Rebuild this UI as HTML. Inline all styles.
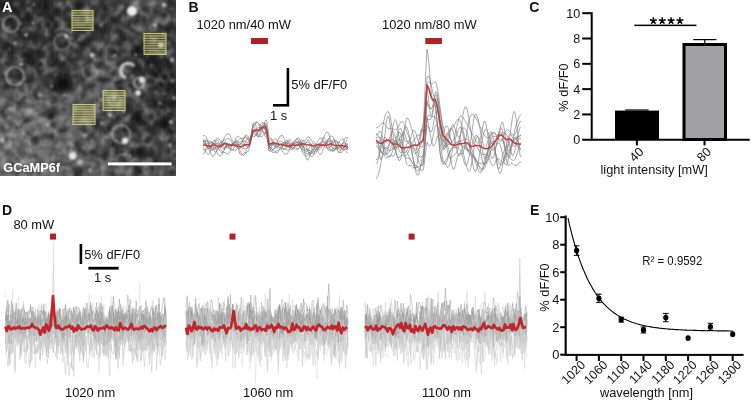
<!DOCTYPE html>
<html><head><meta charset="utf-8"><title>Figure</title>
<style>
html,body{margin:0;padding:0;background:#fff;width:751px;height:400px;overflow:hidden;}
body{font-family:"Liberation Sans", sans-serif;}
svg{display:block;}
</style></head><body>
<svg width="751" height="400" viewBox="0 0 751 400" font-family='"Liberation Sans", sans-serif'><defs><filter id="bl2" x="-50%" y="-50%" width="200%" height="200%"><feGaussianBlur stdDeviation="2"/></filter><filter id="bl1" x="-50%" y="-50%" width="200%" height="200%"><feGaussianBlur stdDeviation="1"/></filter><filter id="bl4" x="-50%" y="-50%" width="200%" height="200%"><feGaussianBlur stdDeviation="4"/></filter><filter id="bl8" x="-20%" y="-20%" width="140%" height="140%"><feGaussianBlur stdDeviation="9"/></filter><filter id="nzw" x="0" y="0" width="100%" height="100%" color-interpolation-filters="sRGB"><feTurbulence type="fractalNoise" baseFrequency="0.12" numOctaves="3" seed="7"/><feColorMatrix type="matrix" values="0 0 0 0 1  0 0 0 0 1  0 0 0 0 1  1.8 0 0 0 -0.9"/><feGaussianBlur stdDeviation="0.8"/></filter><filter id="nzb" x="0" y="0" width="100%" height="100%" color-interpolation-filters="sRGB"><feTurbulence type="fractalNoise" baseFrequency="0.12" numOctaves="3" seed="7"/><feColorMatrix type="matrix" values="0 0 0 0 0  0 0 0 0 0  0 0 0 0 0  -2.4 0 0 0 1.2"/><feGaussianBlur stdDeviation="0.8"/></filter><clipPath id="clipA"><rect x="0" y="0" width="176" height="176"/></clipPath></defs>
<g clip-path="url(#clipA)">
<g filter="url(#bl8)">
<rect x="-22" y="-22" width="22" height="22" fill="rgb(35,35,35)"/>
<rect x="0" y="-22" width="22" height="22" fill="rgb(35,35,35)"/>
<rect x="22" y="-22" width="22" height="22" fill="rgb(50,50,50)"/>
<rect x="44" y="-22" width="22" height="22" fill="rgb(45,45,45)"/>
<rect x="66" y="-22" width="22" height="22" fill="rgb(60,60,60)"/>
<rect x="88" y="-22" width="22" height="22" fill="rgb(55,55,55)"/>
<rect x="110" y="-22" width="22" height="22" fill="rgb(65,65,65)"/>
<rect x="132" y="-22" width="22" height="22" fill="rgb(85,85,85)"/>
<rect x="154" y="-22" width="22" height="22" fill="rgb(60,60,60)"/>
<rect x="176" y="-22" width="22" height="22" fill="rgb(60,60,60)"/>
<rect x="-22" y="0" width="22" height="22" fill="rgb(35,35,35)"/>
<rect x="0" y="0" width="22" height="22" fill="rgb(35,35,35)"/>
<rect x="22" y="0" width="22" height="22" fill="rgb(50,50,50)"/>
<rect x="44" y="0" width="22" height="22" fill="rgb(45,45,45)"/>
<rect x="66" y="0" width="22" height="22" fill="rgb(60,60,60)"/>
<rect x="88" y="0" width="22" height="22" fill="rgb(55,55,55)"/>
<rect x="110" y="0" width="22" height="22" fill="rgb(65,65,65)"/>
<rect x="132" y="0" width="22" height="22" fill="rgb(85,85,85)"/>
<rect x="154" y="0" width="22" height="22" fill="rgb(60,60,60)"/>
<rect x="176" y="0" width="22" height="22" fill="rgb(60,60,60)"/>
<rect x="-22" y="22" width="22" height="22" fill="rgb(60,60,60)"/>
<rect x="0" y="22" width="22" height="22" fill="rgb(60,60,60)"/>
<rect x="22" y="22" width="22" height="22" fill="rgb(45,45,45)"/>
<rect x="44" y="22" width="22" height="22" fill="rgb(55,55,55)"/>
<rect x="66" y="22" width="22" height="22" fill="rgb(60,60,60)"/>
<rect x="88" y="22" width="22" height="22" fill="rgb(50,50,50)"/>
<rect x="110" y="22" width="22" height="22" fill="rgb(55,55,55)"/>
<rect x="132" y="22" width="22" height="22" fill="rgb(70,70,70)"/>
<rect x="154" y="22" width="22" height="22" fill="rgb(60,60,60)"/>
<rect x="176" y="22" width="22" height="22" fill="rgb(60,60,60)"/>
<rect x="-22" y="44" width="22" height="22" fill="rgb(55,55,55)"/>
<rect x="0" y="44" width="22" height="22" fill="rgb(55,55,55)"/>
<rect x="22" y="44" width="22" height="22" fill="rgb(45,45,45)"/>
<rect x="44" y="44" width="22" height="22" fill="rgb(60,60,60)"/>
<rect x="66" y="44" width="22" height="22" fill="rgb(55,55,55)"/>
<rect x="88" y="44" width="22" height="22" fill="rgb(80,80,80)"/>
<rect x="110" y="44" width="22" height="22" fill="rgb(70,70,70)"/>
<rect x="132" y="44" width="22" height="22" fill="rgb(50,50,50)"/>
<rect x="154" y="44" width="22" height="22" fill="rgb(50,50,50)"/>
<rect x="176" y="44" width="22" height="22" fill="rgb(50,50,50)"/>
<rect x="-22" y="66" width="22" height="22" fill="rgb(65,65,65)"/>
<rect x="0" y="66" width="22" height="22" fill="rgb(65,65,65)"/>
<rect x="22" y="66" width="22" height="22" fill="rgb(60,60,60)"/>
<rect x="44" y="66" width="22" height="22" fill="rgb(40,40,40)"/>
<rect x="66" y="66" width="22" height="22" fill="rgb(70,70,70)"/>
<rect x="88" y="66" width="22" height="22" fill="rgb(95,95,95)"/>
<rect x="110" y="66" width="22" height="22" fill="rgb(85,85,85)"/>
<rect x="132" y="66" width="22" height="22" fill="rgb(45,45,45)"/>
<rect x="154" y="66" width="22" height="22" fill="rgb(45,45,45)"/>
<rect x="176" y="66" width="22" height="22" fill="rgb(45,45,45)"/>
<rect x="-22" y="88" width="22" height="22" fill="rgb(100,100,100)"/>
<rect x="0" y="88" width="22" height="22" fill="rgb(100,100,100)"/>
<rect x="22" y="88" width="22" height="22" fill="rgb(100,100,100)"/>
<rect x="44" y="88" width="22" height="22" fill="rgb(80,80,80)"/>
<rect x="66" y="88" width="22" height="22" fill="rgb(90,90,90)"/>
<rect x="88" y="88" width="22" height="22" fill="rgb(90,90,90)"/>
<rect x="110" y="88" width="22" height="22" fill="rgb(70,70,70)"/>
<rect x="132" y="88" width="22" height="22" fill="rgb(60,60,60)"/>
<rect x="154" y="88" width="22" height="22" fill="rgb(55,55,55)"/>
<rect x="176" y="88" width="22" height="22" fill="rgb(55,55,55)"/>
<rect x="-22" y="110" width="22" height="22" fill="rgb(108,108,108)"/>
<rect x="0" y="110" width="22" height="22" fill="rgb(108,108,108)"/>
<rect x="22" y="110" width="22" height="22" fill="rgb(108,108,108)"/>
<rect x="44" y="110" width="22" height="22" fill="rgb(98,98,98)"/>
<rect x="66" y="110" width="22" height="22" fill="rgb(98,98,98)"/>
<rect x="88" y="110" width="22" height="22" fill="rgb(72,72,72)"/>
<rect x="110" y="110" width="22" height="22" fill="rgb(60,60,60)"/>
<rect x="132" y="110" width="22" height="22" fill="rgb(60,60,60)"/>
<rect x="154" y="110" width="22" height="22" fill="rgb(55,55,55)"/>
<rect x="176" y="110" width="22" height="22" fill="rgb(55,55,55)"/>
<rect x="-22" y="132" width="22" height="22" fill="rgb(112,112,112)"/>
<rect x="0" y="132" width="22" height="22" fill="rgb(112,112,112)"/>
<rect x="22" y="132" width="22" height="22" fill="rgb(108,108,108)"/>
<rect x="44" y="132" width="22" height="22" fill="rgb(102,102,102)"/>
<rect x="66" y="132" width="22" height="22" fill="rgb(92,92,92)"/>
<rect x="88" y="132" width="22" height="22" fill="rgb(85,85,85)"/>
<rect x="110" y="132" width="22" height="22" fill="rgb(65,65,65)"/>
<rect x="132" y="132" width="22" height="22" fill="rgb(55,55,55)"/>
<rect x="154" y="132" width="22" height="22" fill="rgb(65,65,65)"/>
<rect x="176" y="132" width="22" height="22" fill="rgb(65,65,65)"/>
<rect x="-22" y="154" width="22" height="22" fill="rgb(108,108,108)"/>
<rect x="0" y="154" width="22" height="22" fill="rgb(108,108,108)"/>
<rect x="22" y="154" width="22" height="22" fill="rgb(108,108,108)"/>
<rect x="44" y="154" width="22" height="22" fill="rgb(100,100,100)"/>
<rect x="66" y="154" width="22" height="22" fill="rgb(92,92,92)"/>
<rect x="88" y="154" width="22" height="22" fill="rgb(85,85,85)"/>
<rect x="110" y="154" width="22" height="22" fill="rgb(80,80,80)"/>
<rect x="132" y="154" width="22" height="22" fill="rgb(80,80,80)"/>
<rect x="154" y="154" width="22" height="22" fill="rgb(70,70,70)"/>
<rect x="176" y="154" width="22" height="22" fill="rgb(70,70,70)"/>
<rect x="-22" y="176" width="22" height="22" fill="rgb(108,108,108)"/>
<rect x="0" y="176" width="22" height="22" fill="rgb(108,108,108)"/>
<rect x="22" y="176" width="22" height="22" fill="rgb(108,108,108)"/>
<rect x="44" y="176" width="22" height="22" fill="rgb(100,100,100)"/>
<rect x="66" y="176" width="22" height="22" fill="rgb(92,92,92)"/>
<rect x="88" y="176" width="22" height="22" fill="rgb(85,85,85)"/>
<rect x="110" y="176" width="22" height="22" fill="rgb(80,80,80)"/>
<rect x="132" y="176" width="22" height="22" fill="rgb(80,80,80)"/>
<rect x="154" y="176" width="22" height="22" fill="rgb(70,70,70)"/>
<rect x="176" y="176" width="22" height="22" fill="rgb(70,70,70)"/>
</g>
<rect x="0" y="0" width="176" height="176" filter="url(#nzw)" opacity="0.6"/>
<rect x="0" y="0" width="176" height="176" filter="url(#nzb)" opacity="0.75"/>
<g filter="url(#bl2)">
<circle cx="63" cy="84" r="8" fill="#101010" opacity="0.9"/>
<circle cx="63" cy="84" r="5" fill="#101010" opacity="1.0"/>
<circle cx="30" cy="57" r="5" fill="#101010" opacity="0.75"/>
<circle cx="139" cy="50" r="6" fill="#101010" opacity="0.9"/>
<circle cx="138" cy="119" r="6" fill="#101010" opacity="0.85"/>
<circle cx="164" cy="124" r="7" fill="#101010" opacity="0.85"/>
<circle cx="140" cy="152" r="6" fill="#101010" opacity="0.85"/>
<circle cx="165" cy="97" r="4" fill="#101010" opacity="0.6"/>
<circle cx="48" cy="13" r="5" fill="#101010" opacity="0.5"/>
<circle cx="105" cy="30" r="4" fill="#101010" opacity="0.5"/>
<circle cx="88" cy="44" r="4" fill="#101010" opacity="0.5"/>
<circle cx="121" cy="40" r="4" fill="#101010" opacity="0.5"/>
<circle cx="118" cy="148" r="5" fill="#101010" opacity="0.6"/>
<circle cx="82" cy="19" r="3.5" fill="#101010" opacity="0.8"/>
<circle cx="125" cy="60" r="3" fill="#101010" opacity="0.5"/>
<circle cx="52" cy="25" r="4" fill="#101010" opacity="0.5"/>
<circle cx="20" cy="22" r="3.5" fill="#101010" opacity="0.6"/>
<circle cx="15" cy="76" r="4" fill="#101010" opacity="0.5"/>
<circle cx="100" cy="125" r="4" fill="#101010" opacity="0.4"/>
<circle cx="150" cy="105" r="4" fill="#101010" opacity="0.5"/>
<circle cx="8" cy="50" r="4" fill="#101010" opacity="0.5"/>
<circle cx="40" cy="5" r="5" fill="#101010" opacity="0.5"/>
<circle cx="5" cy="5" r="6" fill="#101010" opacity="0.6"/>
<line x1="146" y1="50" x2="180" y2="100" stroke="#101010" stroke-width="10" opacity="0.6"/>
</g>
<g filter="url(#bl1)">
<circle cx="136.2" cy="77.2" r="4.1" fill="#141414" opacity="0.49"/>
<circle cx="16.6" cy="171.7" r="3.9" fill="#141414" opacity="0.53"/>
<circle cx="22.5" cy="79.3" r="2.9" fill="#141414" opacity="0.57"/>
<circle cx="113.3" cy="144.8" r="3.1" fill="#141414" opacity="0.33"/>
<circle cx="97.6" cy="11.2" r="4.1" fill="#141414" opacity="0.47"/>
<circle cx="133.4" cy="62.4" r="4.4" fill="#141414" opacity="0.56"/>
<circle cx="137.0" cy="34.3" r="3.2" fill="#141414" opacity="0.27"/>
<circle cx="27.2" cy="120.2" r="3.9" fill="#141414" opacity="0.59"/>
<circle cx="57.3" cy="65.2" r="3.2" fill="#141414" opacity="0.32"/>
<circle cx="22.9" cy="83.7" r="2.6" fill="#141414" opacity="0.48"/>
<circle cx="76.9" cy="146.6" r="3.8" fill="#141414" opacity="0.36"/>
<circle cx="146.5" cy="141.6" r="3.0" fill="#141414" opacity="0.35"/>
<circle cx="120.1" cy="24.6" r="2.5" fill="#141414" opacity="0.25"/>
<circle cx="138.5" cy="117.0" r="3.8" fill="#141414" opacity="0.52"/>
<circle cx="80.8" cy="100.1" r="2.3" fill="#141414" opacity="0.29"/>
<circle cx="117.6" cy="82.9" r="3.4" fill="#141414" opacity="0.52"/>
<circle cx="111.7" cy="97.4" r="3.4" fill="#141414" opacity="0.36"/>
<circle cx="5.4" cy="76.9" r="2.5" fill="#141414" opacity="0.39"/>
<circle cx="150.2" cy="41.2" r="2.1" fill="#141414" opacity="0.35"/>
<circle cx="51.7" cy="116.5" r="3.4" fill="#141414" opacity="0.52"/>
<circle cx="116.9" cy="71.5" r="4.0" fill="#141414" opacity="0.31"/>
<circle cx="4.0" cy="15.8" r="3.8" fill="#141414" opacity="0.41"/>
<circle cx="28.4" cy="88.2" r="2.4" fill="#141414" opacity="0.49"/>
<circle cx="78.5" cy="67.1" r="2.8" fill="#141414" opacity="0.47"/>
<circle cx="63.7" cy="15.4" r="2.3" fill="#141414" opacity="0.59"/>
<circle cx="159.9" cy="123.1" r="2.7" fill="#141414" opacity="0.59"/>
<circle cx="137.1" cy="126.2" r="3.1" fill="#141414" opacity="0.35"/>
<circle cx="17.0" cy="158.9" r="3.1" fill="#141414" opacity="0.32"/>
<circle cx="53.8" cy="101.9" r="2.4" fill="#141414" opacity="0.55"/>
<circle cx="133.5" cy="126.6" r="3.1" fill="#141414" opacity="0.47"/>
<circle cx="102.8" cy="114.4" r="2.2" fill="#141414" opacity="0.40"/>
<circle cx="7.3" cy="86.9" r="2.8" fill="#141414" opacity="0.30"/>
<circle cx="18.2" cy="103.4" r="2.4" fill="#141414" opacity="0.57"/>
<circle cx="102.3" cy="61.0" r="3.5" fill="#141414" opacity="0.26"/>
<circle cx="168.7" cy="84.9" r="4.0" fill="#141414" opacity="0.28"/>
<circle cx="85.7" cy="86.4" r="4.3" fill="#141414" opacity="0.45"/>
<circle cx="83.3" cy="47.0" r="2.8" fill="#141414" opacity="0.43"/>
<circle cx="77.2" cy="3.8" r="4.1" fill="#141414" opacity="0.56"/>
<circle cx="24.7" cy="97.5" r="2.3" fill="#141414" opacity="0.49"/>
<circle cx="49.5" cy="116.1" r="3.8" fill="#141414" opacity="0.52"/>
<circle cx="19.0" cy="161.2" r="2.6" fill="#141414" opacity="0.26"/>
<circle cx="97.7" cy="65.3" r="4.1" fill="#141414" opacity="0.53"/>
<circle cx="55.8" cy="167.7" r="2.7" fill="#141414" opacity="0.43"/>
<circle cx="45.0" cy="164.7" r="2.4" fill="#141414" opacity="0.27"/>
<circle cx="76.6" cy="174.7" r="4.2" fill="#141414" opacity="0.51"/>
<circle cx="156.8" cy="157.2" r="3.3" fill="#141414" opacity="0.36"/>
<circle cx="135.9" cy="116.5" r="2.9" fill="#141414" opacity="0.28"/>
<circle cx="131.4" cy="46.2" r="4.3" fill="#141414" opacity="0.33"/>
<circle cx="21.6" cy="146.3" r="2.4" fill="#141414" opacity="0.31"/>
<circle cx="105.5" cy="153.9" r="2.5" fill="#141414" opacity="0.36"/>
<circle cx="136.8" cy="171.0" r="3.3" fill="#141414" opacity="0.30"/>
<circle cx="2.5" cy="40.4" r="2.3" fill="#141414" opacity="0.49"/>
<circle cx="21.4" cy="89.1" r="3.7" fill="#141414" opacity="0.45"/>
<circle cx="35.2" cy="141.5" r="3.8" fill="#141414" opacity="0.51"/>
<circle cx="23.1" cy="21.8" r="4.3" fill="#141414" opacity="0.39"/>
<circle cx="53.0" cy="86.0" r="3.7" fill="#141414" opacity="0.58"/>
<circle cx="50.4" cy="162.8" r="2.1" fill="#141414" opacity="0.44"/>
<circle cx="111.6" cy="18.6" r="2.4" fill="#141414" opacity="0.40"/>
<circle cx="170.1" cy="104.9" r="4.3" fill="#141414" opacity="0.53"/>
<circle cx="82.3" cy="138.1" r="2.0" fill="#141414" opacity="0.29"/>
<circle cx="146.0" cy="140.2" r="2.6" fill="#141414" opacity="0.44"/>
<circle cx="106.7" cy="152.7" r="3.5" fill="#141414" opacity="0.39"/>
<circle cx="65.9" cy="75.0" r="3.6" fill="#141414" opacity="0.55"/>
<circle cx="79.9" cy="43.6" r="2.6" fill="#141414" opacity="0.51"/>
<circle cx="143.7" cy="18.5" r="2.2" fill="#141414" opacity="0.46"/>
<circle cx="25.7" cy="145.1" r="2.8" fill="#141414" opacity="0.30"/>
<circle cx="162.1" cy="29.1" r="2.7" fill="#141414" opacity="0.30"/>
<circle cx="20.3" cy="3.7" r="2.1" fill="#141414" opacity="0.31"/>
<circle cx="9.4" cy="104.0" r="3.7" fill="#141414" opacity="0.39"/>
<circle cx="56.0" cy="88.8" r="4.2" fill="#141414" opacity="0.55"/>
<circle cx="7.7" cy="31.9" r="3.9" fill="none" stroke="#bdbdbd" stroke-width="1.3" opacity="0.18"/>
<circle cx="100.5" cy="73.3" r="3.2" fill="none" stroke="#bdbdbd" stroke-width="1.3" opacity="0.21"/>
<circle cx="92.2" cy="17.9" r="6.3" fill="none" stroke="#bdbdbd" stroke-width="1.3" opacity="0.13"/>
<circle cx="162.8" cy="17.4" r="6.4" fill="none" stroke="#bdbdbd" stroke-width="1.3" opacity="0.33"/>
<circle cx="172.4" cy="141.2" r="6.1" fill="none" stroke="#bdbdbd" stroke-width="1.3" opacity="0.27"/>
<circle cx="137.1" cy="23.7" r="5.1" fill="none" stroke="#bdbdbd" stroke-width="1.3" opacity="0.24"/>
<circle cx="150.9" cy="81.5" r="4.5" fill="none" stroke="#bdbdbd" stroke-width="1.3" opacity="0.27"/>
<circle cx="46.9" cy="24.6" r="4.9" fill="none" stroke="#bdbdbd" stroke-width="1.3" opacity="0.22"/>
<circle cx="40.9" cy="64.7" r="4.5" fill="none" stroke="#bdbdbd" stroke-width="1.3" opacity="0.20"/>
<circle cx="66.8" cy="120.7" r="4.2" fill="none" stroke="#bdbdbd" stroke-width="1.3" opacity="0.34"/>
<circle cx="161.3" cy="84.6" r="4.3" fill="none" stroke="#bdbdbd" stroke-width="1.3" opacity="0.24"/>
<circle cx="149.3" cy="114.9" r="6.2" fill="none" stroke="#bdbdbd" stroke-width="1.3" opacity="0.24"/>
<circle cx="111.4" cy="50.7" r="5.9" fill="none" stroke="#bdbdbd" stroke-width="1.3" opacity="0.17"/>
<circle cx="122.3" cy="151.5" r="3.5" fill="none" stroke="#bdbdbd" stroke-width="1.3" opacity="0.26"/>
<circle cx="16.7" cy="127.7" r="3.3" fill="none" stroke="#bdbdbd" stroke-width="1.3" opacity="0.34"/>
<circle cx="24.2" cy="168.8" r="6.2" fill="none" stroke="#bdbdbd" stroke-width="1.3" opacity="0.26"/>
<circle cx="137.7" cy="139.9" r="6.8" fill="none" stroke="#bdbdbd" stroke-width="1.3" opacity="0.18"/>
<circle cx="103.9" cy="16.7" r="5.5" fill="none" stroke="#bdbdbd" stroke-width="1.3" opacity="0.16"/>
<circle cx="99.4" cy="100.7" r="4.9" fill="none" stroke="#bdbdbd" stroke-width="1.3" opacity="0.24"/>
<circle cx="134.5" cy="140.7" r="5.0" fill="none" stroke="#bdbdbd" stroke-width="1.3" opacity="0.26"/>
<circle cx="163.9" cy="21.1" r="3.5" fill="none" stroke="#bdbdbd" stroke-width="1.3" opacity="0.14"/>
<circle cx="115.8" cy="73.7" r="6.1" fill="none" stroke="#bdbdbd" stroke-width="1.3" opacity="0.27"/>
<circle cx="58.7" cy="158.1" r="6.1" fill="none" stroke="#bdbdbd" stroke-width="1.3" opacity="0.18"/>
<circle cx="64.1" cy="55.3" r="3.6" fill="none" stroke="#bdbdbd" stroke-width="1.3" opacity="0.15"/>
<circle cx="164.8" cy="77.1" r="4.5" fill="none" stroke="#bdbdbd" stroke-width="1.3" opacity="0.29"/>
<circle cx="97.3" cy="164.8" r="6.1" fill="none" stroke="#bdbdbd" stroke-width="1.3" opacity="0.23"/>
<circle cx="66.2" cy="173.6" r="5.9" fill="none" stroke="#bdbdbd" stroke-width="1.3" opacity="0.34"/>
<circle cx="20.9" cy="149.7" r="5.5" fill="none" stroke="#bdbdbd" stroke-width="1.3" opacity="0.15"/>
<circle cx="103.5" cy="120.8" r="3.0" fill="none" stroke="#bdbdbd" stroke-width="1.3" opacity="0.22"/>
<circle cx="145.3" cy="52.0" r="4.8" fill="none" stroke="#bdbdbd" stroke-width="1.3" opacity="0.22"/>
<circle cx="53.1" cy="161.6" r="6.1" fill="none" stroke="#bdbdbd" stroke-width="1.3" opacity="0.15"/>
<circle cx="175.5" cy="154.7" r="4.1" fill="none" stroke="#bdbdbd" stroke-width="1.3" opacity="0.31"/>
<circle cx="18.7" cy="175.8" r="5.7" fill="none" stroke="#bdbdbd" stroke-width="1.3" opacity="0.27"/>
<circle cx="15.9" cy="157.9" r="3.1" fill="none" stroke="#bdbdbd" stroke-width="1.3" opacity="0.18"/>
<circle cx="25.2" cy="136.7" r="3.8" fill="none" stroke="#bdbdbd" stroke-width="1.3" opacity="0.33"/>
<circle cx="115.5" cy="6.4" r="3.0" fill="none" stroke="#bdbdbd" stroke-width="1.3" opacity="0.13"/>
<circle cx="106.6" cy="141.1" r="4.0" fill="none" stroke="#bdbdbd" stroke-width="1.3" opacity="0.32"/>
<circle cx="10.1" cy="141.0" r="6.7" fill="none" stroke="#bdbdbd" stroke-width="1.3" opacity="0.30"/>
<circle cx="122.9" cy="147.5" r="3.2" fill="none" stroke="#bdbdbd" stroke-width="1.3" opacity="0.17"/>
<circle cx="22.0" cy="88.8" r="6.0" fill="none" stroke="#bdbdbd" stroke-width="1.3" opacity="0.26"/>
<circle cx="149.8" cy="27.3" r="1.5" fill="#e0e0e0" opacity="0.38"/>
<circle cx="47.7" cy="124.9" r="1.8" fill="#e0e0e0" opacity="0.54"/>
<circle cx="9.6" cy="108.5" r="0.8" fill="#e0e0e0" opacity="0.65"/>
<circle cx="124.9" cy="30.5" r="0.9" fill="#e0e0e0" opacity="0.37"/>
<circle cx="172.5" cy="80.7" r="1.6" fill="#e0e0e0" opacity="0.55"/>
<circle cx="100.7" cy="25.5" r="1.7" fill="#e0e0e0" opacity="0.42"/>
<circle cx="101.7" cy="123.2" r="1.4" fill="#e0e0e0" opacity="0.68"/>
<circle cx="26.1" cy="89.5" r="1.2" fill="#e0e0e0" opacity="0.49"/>
<circle cx="21.0" cy="23.6" r="1.1" fill="#e0e0e0" opacity="0.42"/>
<circle cx="75.3" cy="107.5" r="1.4" fill="#e0e0e0" opacity="0.46"/>
<circle cx="71.9" cy="38.3" r="1.4" fill="#e0e0e0" opacity="0.43"/>
<circle cx="6.3" cy="73.6" r="1.3" fill="#e0e0e0" opacity="0.39"/>
<circle cx="100.8" cy="99.6" r="1.5" fill="#e0e0e0" opacity="0.56"/>
<circle cx="114.8" cy="55.7" r="1.6" fill="#e0e0e0" opacity="0.52"/>
<circle cx="75.9" cy="110.2" r="1.2" fill="#e0e0e0" opacity="0.51"/>
<circle cx="129.7" cy="156.0" r="1.7" fill="#e0e0e0" opacity="0.50"/>
<circle cx="91.6" cy="140.8" r="1.1" fill="#e0e0e0" opacity="0.63"/>
<circle cx="87.0" cy="20.4" r="0.9" fill="#e0e0e0" opacity="0.64"/>
<circle cx="9.8" cy="49.4" r="1.1" fill="#e0e0e0" opacity="0.37"/>
<circle cx="55.2" cy="130.7" r="0.8" fill="#e0e0e0" opacity="0.63"/>
<circle cx="150.8" cy="65.5" r="1.0" fill="#e0e0e0" opacity="0.54"/>
<circle cx="21.1" cy="64.2" r="1.8" fill="#e0e0e0" opacity="0.70"/>
<circle cx="135.9" cy="54.7" r="1.5" fill="#e0e0e0" opacity="0.58"/>
<circle cx="68.3" cy="112.8" r="0.8" fill="#e0e0e0" opacity="0.38"/>
<circle cx="92.4" cy="28.8" r="1.0" fill="#e0e0e0" opacity="0.63"/>
<circle cx="174.1" cy="97.9" r="1.6" fill="#e0e0e0" opacity="0.70"/>
<circle cx="24.9" cy="78.9" r="1.2" fill="#e0e0e0" opacity="0.33"/>
<circle cx="132.9" cy="76.3" r="1.3" fill="#e0e0e0" opacity="0.36"/>
<circle cx="31.8" cy="159.7" r="0.8" fill="#e0e0e0" opacity="0.39"/>
<circle cx="51.4" cy="86.3" r="1.4" fill="#e0e0e0" opacity="0.50"/>
<circle cx="14.8" cy="42.9" r="1.6" fill="#e0e0e0" opacity="0.56"/>
<circle cx="114.3" cy="118.0" r="1.6" fill="#e0e0e0" opacity="0.32"/>
<circle cx="64.5" cy="95.0" r="1.1" fill="#e0e0e0" opacity="0.64"/>
<circle cx="84.9" cy="135.3" r="1.7" fill="#e0e0e0" opacity="0.50"/>
<circle cx="160.1" cy="103.3" r="1.7" fill="#e0e0e0" opacity="0.44"/>
<circle cx="87.8" cy="93.5" r="0.9" fill="#e0e0e0" opacity="0.46"/>
<circle cx="161.5" cy="111.0" r="1.0" fill="#e0e0e0" opacity="0.44"/>
<circle cx="33.7" cy="4.4" r="1.7" fill="#e0e0e0" opacity="0.48"/>
<circle cx="54.1" cy="105.3" r="0.8" fill="#e0e0e0" opacity="0.41"/>
<circle cx="123.7" cy="111.5" r="1.8" fill="#e0e0e0" opacity="0.55"/>
</g>
<g filter="url(#bl1)" fill="none" stroke="#c8c8c8">
<circle cx="11" cy="24" r="8" stroke-width="2.2" opacity="0.55"/>
<circle cx="15" cy="76" r="9" stroke-width="2.2" opacity="0.55"/>
<circle cx="62" cy="42" r="8" stroke-width="2" opacity="0.45"/>
<circle cx="139" cy="83" r="5" stroke-width="2.2" opacity="0.7"/>
<circle cx="121" cy="134" r="9" stroke-width="2.2" opacity="0.55"/>
<circle cx="114" cy="100" r="6" stroke-width="2" opacity="0.55"/>
<circle cx="83" cy="19" r="5" stroke-width="1.6" opacity="0.35"/>
<circle cx="90" cy="72" r="7" stroke-width="1.6" opacity="0.4"/>
<circle cx="30" cy="130" r="7" stroke-width="1.6" opacity="0.25"/>
<circle cx="70" cy="150" r="6" stroke-width="1.6" opacity="0.35"/>
<circle cx="150" cy="170" r="6" stroke-width="1.6" opacity="0.3"/>
<circle cx="122" cy="160" r="6" stroke-width="1.5" opacity="0.3"/>
</g>
<path d="M134,66 A7.5,7.5 0 1 0 126,78" fill="none" stroke="#e0e0e0" stroke-width="3" opacity="0.85" filter="url(#bl1)"/>
<g filter="url(#bl1)" fill="#f4f4f4">
<circle cx="132" cy="11" r="5" opacity="0.95"/>
<circle cx="142" cy="80" r="3.2" opacity="0.85"/>
<circle cx="138" cy="93" r="3" opacity="0.8"/>
<circle cx="161" cy="45" r="3" opacity="0.8"/>
<circle cx="92" cy="55" r="2" opacity="0.8"/>
<circle cx="66" cy="36" r="2" opacity="0.7"/>
<circle cx="125" cy="141" r="3" opacity="0.8"/>
<circle cx="72" cy="156" r="3" opacity="0.8"/>
<circle cx="114" cy="97" r="2.5" opacity="0.6"/>
<circle cx="164" cy="5" r="2" opacity="0.7"/>
<circle cx="26" cy="35" r="1.5" opacity="0.8"/>
<circle cx="33" cy="23" r="1.5" opacity="0.6"/>
<circle cx="73" cy="156" r="4" opacity="0.6"/>
<circle cx="80" cy="162" r="3" opacity="0.5"/>
<circle cx="171" cy="122" r="2" opacity="0.7"/>
<circle cx="138" cy="92" r="2" opacity="0.7"/>
<circle cx="125" cy="140" r="3" opacity="0.6"/>
<circle cx="2" cy="140" r="2" opacity="0.6"/>
<circle cx="170" cy="145" r="2" opacity="0.5"/>
<circle cx="155" cy="25" r="2" opacity="0.5"/>
<circle cx="110" cy="115" r="2" opacity="0.6"/>
<circle cx="90" cy="170" r="2" opacity="0.5"/>
<circle cx="40" cy="95" r="2" opacity="0.5"/>
<circle cx="172" cy="60" r="2" opacity="0.6"/>
<circle cx="15" cy="170" r="2" opacity="0.4"/>
</g>
<rect x="2" y="0" width="1" height="176" fill="#ffffff" opacity="0.01"/>
<rect x="6" y="0" width="1" height="176" fill="#ffffff" opacity="0.01"/>
<rect x="10" y="0" width="1" height="176" fill="#ffffff" opacity="0.03"/>
<rect x="14" y="0" width="1" height="176" fill="#ffffff" opacity="0.02"/>
<rect x="18" y="0" width="1" height="176" fill="#ffffff" opacity="0.01"/>
<rect x="22" y="0" width="1" height="176" fill="#ffffff" opacity="0.02"/>
<rect x="26" y="0" width="1" height="176" fill="#ffffff" opacity="0.02"/>
<rect x="30" y="0" width="1" height="176" fill="#ffffff" opacity="0.01"/>
<rect x="34" y="0" width="1" height="176" fill="#ffffff" opacity="0.02"/>
<rect x="38" y="0" width="1" height="176" fill="#ffffff" opacity="0.01"/>
<rect x="42" y="0" width="1" height="176" fill="#ffffff" opacity="0.02"/>
<rect x="46" y="0" width="1" height="176" fill="#ffffff" opacity="0.02"/>
<rect x="50" y="0" width="1" height="176" fill="#ffffff" opacity="0.02"/>
<rect x="54" y="0" width="1" height="176" fill="#ffffff" opacity="0.02"/>
<rect x="58" y="0" width="1" height="176" fill="#ffffff" opacity="0.02"/>
<rect x="62" y="0" width="1" height="176" fill="#ffffff" opacity="0.03"/>
<rect x="66" y="0" width="1" height="176" fill="#ffffff" opacity="0.02"/>
<rect x="70" y="0" width="1" height="176" fill="#ffffff" opacity="0.02"/>
<rect x="74" y="0" width="1" height="176" fill="#ffffff" opacity="0.02"/>
<rect x="78" y="0" width="1" height="176" fill="#ffffff" opacity="0.02"/>
<rect x="82" y="0" width="1" height="176" fill="#ffffff" opacity="0.01"/>
<rect x="86" y="0" width="1" height="176" fill="#ffffff" opacity="0.03"/>
<rect x="90" y="0" width="1" height="176" fill="#ffffff" opacity="0.02"/>
<rect x="94" y="0" width="1" height="176" fill="#ffffff" opacity="0.02"/>
<rect x="98" y="0" width="1" height="176" fill="#ffffff" opacity="0.03"/>
<rect x="102" y="0" width="1" height="176" fill="#ffffff" opacity="0.02"/>
<rect x="106" y="0" width="1" height="176" fill="#ffffff" opacity="0.02"/>
<rect x="110" y="0" width="1" height="176" fill="#ffffff" opacity="0.03"/>
<rect x="114" y="0" width="1" height="176" fill="#ffffff" opacity="0.01"/>
<rect x="118" y="0" width="1" height="176" fill="#ffffff" opacity="0.02"/>
<rect x="122" y="0" width="1" height="176" fill="#ffffff" opacity="0.02"/>
<rect x="126" y="0" width="1" height="176" fill="#ffffff" opacity="0.01"/>
<rect x="130" y="0" width="1" height="176" fill="#ffffff" opacity="0.02"/>
<rect x="134" y="0" width="1" height="176" fill="#ffffff" opacity="0.03"/>
<rect x="138" y="0" width="1" height="176" fill="#ffffff" opacity="0.01"/>
<rect x="142" y="0" width="1" height="176" fill="#ffffff" opacity="0.02"/>
<rect x="146" y="0" width="1" height="176" fill="#ffffff" opacity="0.02"/>
<rect x="150" y="0" width="1" height="176" fill="#ffffff" opacity="0.02"/>
<rect x="154" y="0" width="1" height="176" fill="#ffffff" opacity="0.02"/>
<rect x="158" y="0" width="1" height="176" fill="#ffffff" opacity="0.01"/>
<rect x="162" y="0" width="1" height="176" fill="#ffffff" opacity="0.03"/>
<rect x="166" y="0" width="1" height="176" fill="#ffffff" opacity="0.02"/>
<rect x="170" y="0" width="1" height="176" fill="#ffffff" opacity="0.02"/>
<rect x="174" y="0" width="1" height="176" fill="#ffffff" opacity="0.03"/>
<rect x="72.0" y="10.5" width="21.0" height="20.0" fill="#dcdc78" opacity="0.18"/>
<rect x="72.0" y="10.5" width="21.0" height="20.0" fill="none" stroke="#d8d880" stroke-width="1.1" opacity="0.85"/>
<line x1="72.0" y1="12.9" x2="93.0" y2="12.9" stroke="#cfcf80" stroke-width="1.25" opacity="0.65"/>
<line x1="72.0" y1="15.4" x2="93.0" y2="15.4" stroke="#cfcf80" stroke-width="1.25" opacity="0.65"/>
<line x1="72.0" y1="17.8" x2="93.0" y2="17.8" stroke="#cfcf80" stroke-width="1.25" opacity="0.65"/>
<line x1="72.0" y1="20.2" x2="93.0" y2="20.2" stroke="#cfcf80" stroke-width="1.25" opacity="0.65"/>
<line x1="72.0" y1="22.7" x2="93.0" y2="22.7" stroke="#cfcf80" stroke-width="1.25" opacity="0.65"/>
<line x1="72.0" y1="25.1" x2="93.0" y2="25.1" stroke="#cfcf80" stroke-width="1.25" opacity="0.65"/>
<line x1="72.0" y1="27.6" x2="93.0" y2="27.6" stroke="#cfcf80" stroke-width="1.25" opacity="0.65"/>
<rect x="144.0" y="33.5" width="22.0" height="21.0" fill="#dcdc78" opacity="0.18"/>
<rect x="144.0" y="33.5" width="22.0" height="21.0" fill="none" stroke="#d8d880" stroke-width="1.1" opacity="0.85"/>
<line x1="144.0" y1="35.9" x2="166.0" y2="35.9" stroke="#cfcf80" stroke-width="1.25" opacity="0.65"/>
<line x1="144.0" y1="38.4" x2="166.0" y2="38.4" stroke="#cfcf80" stroke-width="1.25" opacity="0.65"/>
<line x1="144.0" y1="40.8" x2="166.0" y2="40.8" stroke="#cfcf80" stroke-width="1.25" opacity="0.65"/>
<line x1="144.0" y1="43.3" x2="166.0" y2="43.3" stroke="#cfcf80" stroke-width="1.25" opacity="0.65"/>
<line x1="144.0" y1="45.7" x2="166.0" y2="45.7" stroke="#cfcf80" stroke-width="1.25" opacity="0.65"/>
<line x1="144.0" y1="48.2" x2="166.0" y2="48.2" stroke="#cfcf80" stroke-width="1.25" opacity="0.65"/>
<line x1="144.0" y1="50.6" x2="166.0" y2="50.6" stroke="#cfcf80" stroke-width="1.25" opacity="0.65"/>
<line x1="144.0" y1="53.1" x2="166.0" y2="53.1" stroke="#cfcf80" stroke-width="1.25" opacity="0.65"/>
<rect x="103.0" y="90.5" width="22.0" height="20.0" fill="#dcdc78" opacity="0.18"/>
<rect x="103.0" y="90.5" width="22.0" height="20.0" fill="none" stroke="#d8d880" stroke-width="1.1" opacity="0.85"/>
<line x1="103.0" y1="92.9" x2="125.0" y2="92.9" stroke="#cfcf80" stroke-width="1.25" opacity="0.65"/>
<line x1="103.0" y1="95.4" x2="125.0" y2="95.4" stroke="#cfcf80" stroke-width="1.25" opacity="0.65"/>
<line x1="103.0" y1="97.8" x2="125.0" y2="97.8" stroke="#cfcf80" stroke-width="1.25" opacity="0.65"/>
<line x1="103.0" y1="100.3" x2="125.0" y2="100.3" stroke="#cfcf80" stroke-width="1.25" opacity="0.65"/>
<line x1="103.0" y1="102.7" x2="125.0" y2="102.7" stroke="#cfcf80" stroke-width="1.25" opacity="0.65"/>
<line x1="103.0" y1="105.2" x2="125.0" y2="105.2" stroke="#cfcf80" stroke-width="1.25" opacity="0.65"/>
<line x1="103.0" y1="107.6" x2="125.0" y2="107.6" stroke="#cfcf80" stroke-width="1.25" opacity="0.65"/>
<rect x="73.0" y="104.5" width="22.0" height="20.0" fill="#dcdc78" opacity="0.18"/>
<rect x="73.0" y="104.5" width="22.0" height="20.0" fill="none" stroke="#d8d880" stroke-width="1.1" opacity="0.85"/>
<line x1="73.0" y1="106.9" x2="95.0" y2="106.9" stroke="#cfcf80" stroke-width="1.25" opacity="0.65"/>
<line x1="73.0" y1="109.4" x2="95.0" y2="109.4" stroke="#cfcf80" stroke-width="1.25" opacity="0.65"/>
<line x1="73.0" y1="111.8" x2="95.0" y2="111.8" stroke="#cfcf80" stroke-width="1.25" opacity="0.65"/>
<line x1="73.0" y1="114.3" x2="95.0" y2="114.3" stroke="#cfcf80" stroke-width="1.25" opacity="0.65"/>
<line x1="73.0" y1="116.7" x2="95.0" y2="116.7" stroke="#cfcf80" stroke-width="1.25" opacity="0.65"/>
<line x1="73.0" y1="119.2" x2="95.0" y2="119.2" stroke="#cfcf80" stroke-width="1.25" opacity="0.65"/>
<line x1="73.0" y1="121.6" x2="95.0" y2="121.6" stroke="#cfcf80" stroke-width="1.25" opacity="0.65"/>
<rect x="108" y="162.4" width="63.6" height="3" fill="#ffffff"/>
<text x="2" y="12" font-size="14.5" font-weight="bold" fill="#ffffff">A</text>
<text x="3.2" y="171.6" font-size="12.8" font-weight="bold" fill="#ffffff">GCaMP6f</text>
</g>
<text x="188.6" y="11.75" font-size="14" font-weight="bold" fill="#111">B</text>
<text x="196.4" y="29.2" font-size="12.9" fill="#111">1020 nm/40 mW</text>
<rect x="251" y="38" width="17" height="6" fill="#b61f24"/>
<text x="382" y="28.9" font-size="12.9" fill="#111">1020 nm/80 mW</text>
<rect x="425.3" y="38" width="16.6" height="6" fill="#b61f24"/>
<rect x="286.6" y="68" width="2.6" height="36" fill="#000"/>
<rect x="273" y="104" width="16.2" height="2.6" fill="#000"/>
<text x="291.3" y="89" font-size="12.9" fill="#111">5% dF/F0</text>
<text x="269.9" y="119.6" font-size="12.9" fill="#111">1 s</text>
<polyline points="203.0,154.0 204.0,153.3 205.0,151.4 206.0,149.0 207.0,147.0 208.0,146.0 209.0,145.7 210.0,145.8 211.0,146.1 212.0,146.6 213.0,147.2 214.0,147.7 215.0,147.9 216.0,147.9 217.0,147.8 218.0,147.8 219.0,147.4 220.0,146.5 221.0,144.9 222.0,142.8 223.0,140.5 224.0,138.4 225.0,136.6 226.0,135.1 227.0,134.1 228.0,133.7 229.0,134.2 230.0,135.6 231.0,137.9 232.0,140.4 233.0,142.8 234.0,144.5 235.0,145.8 236.0,147.0 237.0,148.0 238.0,148.6 239.0,148.7 240.0,148.2 241.0,147.4 242.0,146.7 243.0,146.0 244.0,145.0 245.0,143.2 246.0,140.9 247.0,138.9 248.0,138.1 249.0,139.1 250.0,139.4 251.0,138.4 252.0,137.3 253.0,135.6 254.0,136.7 255.0,136.5 256.0,135.1 257.0,133.1 258.0,131.0 259.0,129.2 260.0,127.9 261.0,127.2 262.0,127.2 263.0,127.6 264.0,128.0 265.0,128.0 266.0,128.9 267.0,132.6 268.0,139.2 269.0,146.2 270.0,147.0 271.0,148.0 272.0,149.1 273.0,150.2 274.0,151.4 275.0,152.4 276.0,153.0 277.0,153.0 278.0,152.1 279.0,150.5 280.0,148.9 281.0,147.4 282.0,146.3 283.0,145.7 284.0,145.4 285.0,145.3 286.0,144.8 287.0,143.9 288.0,143.0 289.0,143.1 290.0,144.5 291.0,146.7 292.0,148.4 293.0,149.1 294.0,149.0 295.0,148.9 296.0,149.2 297.0,149.3 298.0,148.8 299.0,147.5 300.0,146.1 301.0,145.0 302.0,144.4 303.0,144.3 304.0,144.2 305.0,143.9 306.0,143.2 307.0,142.6 308.0,142.4 309.0,143.1 310.0,144.3 311.0,146.0 312.0,148.1 313.0,150.2 314.0,151.5 315.0,151.6 316.0,150.6 317.0,149.7 318.0,149.4 319.0,149.7 320.0,149.6 321.0,148.4 322.0,146.4 323.0,144.7 324.0,143.9 325.0,144.3 326.0,145.6 327.0,147.1 328.0,148.2 329.0,148.1 330.0,146.5 331.0,143.8 332.0,141.1 333.0,139.5 334.0,139.9 335.0,142.1 336.0,145.5 337.0,149.0 338.0,151.7 339.0,153.0 340.0,152.3 341.0,150.0 342.0,146.5 343.0,143.0 344.0,140.1 345.0,138.3 346.0,137.6 347.0,137.5 348.0,137.5" fill="none" stroke="#7c7c7c" stroke-width="0.65" stroke-linejoin="round" />
<polyline points="203.0,138.5 204.0,139.5 205.0,141.8 206.0,144.5 207.0,146.7 208.0,148.3 209.0,149.7 210.0,151.7 211.0,154.0 212.0,156.0 213.0,156.6 214.0,155.7 215.0,153.9 216.0,152.1 217.0,150.7 218.0,149.5 219.0,148.0 220.0,146.1 221.0,144.0 222.0,142.4 223.0,141.8 224.0,142.3 225.0,143.8 226.0,145.7 227.0,147.4 228.0,148.4 229.0,148.4 230.0,147.5 231.0,146.3 232.0,145.2 233.0,144.6 234.0,144.6 235.0,144.8 236.0,144.8 237.0,144.5 238.0,143.7 239.0,142.8 240.0,142.0 241.0,141.5 242.0,141.2 243.0,141.1 244.0,141.1 245.0,141.1 246.0,141.5 247.0,142.2 248.0,142.7 249.0,142.8 250.0,140.7 251.0,137.1 252.0,133.8 253.0,130.9 254.0,131.4 255.0,131.8 256.0,132.2 257.0,133.0 258.0,134.2 259.0,135.6 260.0,136.6 261.0,136.9 262.0,136.5 263.0,135.6 264.0,134.4 265.0,133.1 266.0,132.8 267.0,134.9 268.0,139.8 269.0,145.4 270.0,146.6 271.0,148.2 272.0,149.5 273.0,149.8 274.0,148.7 275.0,146.8 276.0,144.4 277.0,142.0 278.0,139.8 279.0,137.9 280.0,136.4 281.0,135.5 282.0,135.2 283.0,135.9 284.0,138.1 285.0,141.6 286.0,145.3 287.0,147.8 288.0,148.4 289.0,147.2 290.0,145.3 291.0,143.9 292.0,143.5 293.0,143.8 294.0,144.1 295.0,143.8 296.0,142.8 297.0,141.7 298.0,141.3 299.0,142.1 300.0,144.2 301.0,147.0 302.0,149.6 303.0,151.5 304.0,152.5 305.0,153.0 306.0,153.3 307.0,153.4 308.0,153.5 309.0,153.7 310.0,153.9 311.0,153.8 312.0,153.3 313.0,152.5 314.0,151.7 315.0,150.9 316.0,150.0 317.0,148.8 318.0,147.5 319.0,146.4 320.0,145.5 321.0,145.2 322.0,145.1 323.0,144.9 324.0,144.3 325.0,143.2 326.0,141.7 327.0,140.6 328.0,140.4 329.0,141.5 330.0,143.5 331.0,145.5 332.0,147.1 333.0,148.2 334.0,148.8 335.0,149.2 336.0,149.2 337.0,148.7 338.0,147.7 339.0,146.8 340.0,146.3 341.0,146.5 342.0,146.9 343.0,147.1 344.0,146.7 345.0,146.0 346.0,145.2 347.0,144.6 348.0,144.4" fill="none" stroke="#7c7c7c" stroke-width="0.65" stroke-linejoin="round" />
<polyline points="203.0,142.2 204.0,141.7 205.0,140.7 206.0,139.9 207.0,140.1 208.0,141.5 209.0,144.1 210.0,147.1 211.0,149.8 212.0,150.7 213.0,149.6 214.0,146.8 215.0,143.4 216.0,140.8 217.0,139.8 218.0,140.9 219.0,143.5 220.0,146.7 221.0,149.5 222.0,151.3 223.0,151.7 224.0,150.7 225.0,149.0 226.0,147.2 227.0,146.4 228.0,146.5 229.0,147.4 230.0,148.7 231.0,150.0 232.0,150.7 233.0,149.9 234.0,147.6 235.0,144.9 236.0,143.5 237.0,144.5 238.0,147.5 239.0,151.1 240.0,154.0 241.0,155.1 242.0,154.8 243.0,153.9 244.0,153.0 245.0,152.7 246.0,152.6 247.0,152.3 248.0,151.2 249.0,149.4 250.0,144.7 251.0,137.2 252.0,129.8 253.0,123.3 254.0,122.5 255.0,123.7 256.0,126.5 257.0,129.6 258.0,131.6 259.0,131.8 260.0,130.5 261.0,128.9 262.0,128.6 263.0,130.5 264.0,133.7 265.0,136.2 266.0,137.2 267.0,138.2 268.0,140.8 269.0,144.5 270.0,144.0 271.0,144.7 272.0,145.3 273.0,145.1 274.0,144.3 275.0,143.7 276.0,143.9 277.0,144.9 278.0,146.1 279.0,147.2 280.0,148.0 281.0,148.5 282.0,148.8 283.0,148.7 284.0,148.6 285.0,148.8 286.0,149.4 287.0,150.1 288.0,150.3 289.0,149.5 290.0,147.8 291.0,146.0 292.0,144.8 293.0,144.2 294.0,143.7 295.0,143.2 296.0,142.7 297.0,142.4 298.0,142.3 299.0,142.3 300.0,142.3 301.0,142.7 302.0,143.9 303.0,145.8 304.0,148.1 305.0,150.2 306.0,151.5 307.0,151.5 308.0,150.3 309.0,148.4 310.0,146.4 311.0,144.8 312.0,143.8 313.0,143.6 314.0,144.2 315.0,145.5 316.0,147.3 317.0,149.4 318.0,151.7 319.0,153.7 320.0,154.7 321.0,154.1 322.0,152.3 323.0,149.8 324.0,147.5 325.0,145.7 326.0,144.0 327.0,142.0 328.0,139.8 329.0,137.9 330.0,136.5 331.0,135.9 332.0,136.1 333.0,137.0 334.0,138.7 335.0,141.1 336.0,143.9 337.0,146.6 338.0,148.3 339.0,148.5 340.0,147.3 341.0,145.4 342.0,143.8 343.0,143.1 344.0,143.4 345.0,144.0 346.0,144.2 347.0,144.1 348.0,144.0" fill="none" stroke="#7c7c7c" stroke-width="0.65" stroke-linejoin="round" />
<polyline points="203.0,142.5 204.0,142.6 205.0,143.3 206.0,144.8 207.0,146.9 208.0,148.6 209.0,149.0 210.0,148.1 211.0,147.0 212.0,146.8 213.0,148.0 214.0,150.1 215.0,152.0 216.0,152.3 217.0,150.7 218.0,147.8 219.0,144.9 220.0,143.6 221.0,144.5 222.0,146.7 223.0,148.6 224.0,148.8 225.0,147.1 226.0,145.1 227.0,144.4 228.0,145.4 229.0,147.1 230.0,148.4 231.0,149.0 232.0,149.2 233.0,149.7 234.0,150.4 235.0,150.8 236.0,150.2 237.0,148.6 238.0,146.7 239.0,145.2 240.0,144.4 241.0,143.8 242.0,142.6 243.0,140.7 244.0,138.6 245.0,136.9 246.0,136.6 247.0,137.5 248.0,139.3 249.0,141.1 250.0,140.5 251.0,137.3 252.0,134.0 253.0,130.7 254.0,131.2 255.0,131.5 256.0,131.3 257.0,130.9 258.0,130.8 259.0,130.8 260.0,130.1 261.0,128.3 262.0,125.8 263.0,123.5 264.0,122.5 265.0,123.2 266.0,126.2 267.0,132.4 268.0,141.1 269.0,149.4 270.0,150.8 271.0,151.2 272.0,150.7 273.0,149.8 274.0,148.9 275.0,148.2 276.0,147.6 277.0,146.9 278.0,145.9 279.0,144.8 280.0,144.1 281.0,144.4 282.0,146.0 283.0,148.3 284.0,149.9 285.0,149.3 286.0,146.7 287.0,143.3 288.0,141.0 289.0,140.8 290.0,142.3 291.0,144.1 292.0,145.1 293.0,144.5 294.0,142.9 295.0,141.3 296.0,141.0 297.0,142.2 298.0,144.4 299.0,146.3 300.0,146.7 301.0,145.4 302.0,143.1 303.0,141.3 304.0,140.9 305.0,142.5 306.0,145.6 307.0,149.3 308.0,152.0 309.0,153.1 310.0,152.8 311.0,151.9 312.0,151.1 313.0,150.6 314.0,150.0 315.0,149.1 316.0,148.1 317.0,147.5 318.0,147.5 319.0,147.6 320.0,147.0 321.0,145.2 322.0,142.4 323.0,139.2 324.0,136.5 325.0,134.3 326.0,132.7 327.0,132.0 328.0,132.4 329.0,134.5 330.0,137.9 331.0,142.3 332.0,146.6 333.0,149.7 334.0,150.8 335.0,149.6 336.0,147.0 337.0,144.2 338.0,142.4 339.0,142.2 340.0,143.1 341.0,144.5 342.0,145.6 343.0,146.4 344.0,147.2 345.0,148.2 346.0,149.3 347.0,150.0 348.0,150.2" fill="none" stroke="#7c7c7c" stroke-width="0.65" stroke-linejoin="round" />
<polyline points="203.0,135.8 204.0,135.7 205.0,135.7 206.0,136.7 207.0,139.1 208.0,142.6 209.0,146.0 210.0,148.3 211.0,149.3 212.0,149.5 213.0,149.4 214.0,149.2 215.0,148.8 216.0,148.2 217.0,147.9 218.0,148.4 219.0,149.6 220.0,151.2 221.0,152.3 222.0,152.8 223.0,152.7 224.0,152.5 225.0,152.6 226.0,153.0 227.0,153.7 228.0,154.0 229.0,153.4 230.0,151.4 231.0,148.4 232.0,145.2 233.0,142.9 234.0,141.6 235.0,141.0 236.0,140.8 237.0,140.9 238.0,141.4 239.0,142.2 240.0,143.2 241.0,143.9 242.0,144.3 243.0,144.5 244.0,144.4 245.0,144.4 246.0,144.6 247.0,145.2 248.0,145.8 249.0,146.1 250.0,144.2 251.0,140.3 252.0,136.3 253.0,132.6 254.0,132.8 255.0,133.6 256.0,134.9 257.0,136.2 258.0,136.7 259.0,135.5 260.0,132.8 261.0,129.3 262.0,126.4 263.0,125.6 264.0,127.2 265.0,130.3 266.0,133.8 267.0,137.3 268.0,140.5 269.0,142.2 270.0,139.2 271.0,138.1 272.0,139.0 273.0,140.9 274.0,142.8 275.0,144.5 276.0,145.8 277.0,146.6 278.0,146.4 279.0,145.6 280.0,144.6 281.0,143.9 282.0,143.8 283.0,144.0 284.0,144.1 285.0,143.9 286.0,143.1 287.0,141.8 288.0,140.4 289.0,139.4 290.0,139.3 291.0,140.2 292.0,141.8 293.0,143.6 294.0,145.3 295.0,146.6 296.0,147.7 297.0,148.6 298.0,149.1 299.0,148.7 300.0,147.3 301.0,145.8 302.0,145.1 303.0,145.5 304.0,147.0 305.0,148.5 306.0,149.6 307.0,150.0 308.0,150.2 309.0,150.3 310.0,150.7 311.0,151.4 312.0,152.3 313.0,153.2 314.0,153.9 315.0,153.9 316.0,152.9 317.0,151.0 318.0,148.6 319.0,146.2 320.0,144.3 321.0,143.1 322.0,142.5 323.0,142.2 324.0,142.0 325.0,142.0 326.0,142.5 327.0,143.5 328.0,145.0 329.0,146.7 330.0,148.7 331.0,150.4 332.0,151.6 333.0,151.6 334.0,150.6 335.0,149.2 336.0,148.4 337.0,148.8 338.0,150.1 339.0,151.6 340.0,152.6 341.0,152.8 342.0,152.2 343.0,151.1 344.0,149.9 345.0,148.9 346.0,148.3 347.0,148.1 348.0,148.1" fill="none" stroke="#7c7c7c" stroke-width="0.65" stroke-linejoin="round" />
<polyline points="203.0,141.1 204.0,141.2 205.0,141.3 206.0,141.3 207.0,141.2 208.0,141.1 209.0,141.2 210.0,141.3 211.0,141.6 212.0,142.2 213.0,142.9 214.0,143.5 215.0,143.6 216.0,143.6 217.0,143.8 218.0,144.4 219.0,145.2 220.0,145.6 221.0,145.4 222.0,144.8 223.0,144.1 224.0,143.7 225.0,143.8 226.0,144.4 227.0,145.2 228.0,145.9 229.0,146.1 230.0,145.6 231.0,144.6 232.0,143.8 233.0,143.6 234.0,144.2 235.0,144.9 236.0,145.3 237.0,145.1 238.0,144.7 239.0,144.5 240.0,144.3 241.0,143.6 242.0,142.1 243.0,139.8 244.0,137.3 245.0,135.5 246.0,134.8 247.0,135.4 248.0,136.7 249.0,138.5 250.0,138.4 251.0,136.4 252.0,134.0 253.0,131.2 254.0,131.5 255.0,131.2 256.0,130.1 257.0,128.7 258.0,127.7 259.0,127.4 260.0,127.8 261.0,128.4 262.0,128.7 263.0,128.7 264.0,128.6 265.0,128.8 266.0,130.9 267.0,136.4 268.0,144.5 269.0,151.3 270.0,150.6 271.0,148.1 272.0,144.8 273.0,141.7 274.0,139.5 275.0,138.5 276.0,138.9 277.0,140.5 278.0,142.7 279.0,144.7 280.0,146.0 281.0,146.4 282.0,146.3 283.0,145.7 284.0,144.7 285.0,143.4 286.0,142.4 287.0,142.6 288.0,144.2 289.0,146.5 290.0,148.4 291.0,149.4 292.0,149.4 293.0,148.7 294.0,147.6 295.0,146.3 296.0,145.0 297.0,144.1 298.0,144.0 299.0,144.8 300.0,146.6 301.0,148.8 302.0,151.1 303.0,153.2 304.0,154.8 305.0,155.8 306.0,156.2 307.0,155.9 308.0,155.2 309.0,154.5 310.0,153.9 311.0,153.3 312.0,152.4 313.0,150.9 314.0,148.9 315.0,146.8 316.0,144.8 317.0,142.9 318.0,141.0 319.0,139.3 320.0,138.1 321.0,137.9 322.0,138.6 323.0,140.0 324.0,141.7 325.0,143.5 326.0,145.4 327.0,147.5 328.0,149.4 329.0,150.7 330.0,151.0 331.0,150.4 332.0,149.5 333.0,148.7 334.0,148.0 335.0,147.7 336.0,147.6 337.0,147.8 338.0,148.3 339.0,148.9 340.0,149.2 341.0,149.3 342.0,149.3 343.0,149.3 344.0,149.4 345.0,149.3 346.0,149.0 347.0,148.5 348.0,148.3" fill="none" stroke="#7c7c7c" stroke-width="0.65" stroke-linejoin="round" />
<polyline points="203.0,140.5 204.0,140.8 205.0,141.8 206.0,143.5 207.0,145.7 208.0,147.6 209.0,148.4 210.0,147.7 211.0,145.9 212.0,144.0 213.0,143.2 214.0,144.1 215.0,146.5 216.0,149.6 217.0,152.3 218.0,154.3 219.0,155.5 220.0,156.0 221.0,155.7 222.0,154.6 223.0,152.6 224.0,150.1 225.0,147.6 226.0,145.7 227.0,144.7 228.0,144.7 229.0,145.2 230.0,145.6 231.0,145.8 232.0,145.6 233.0,145.2 234.0,144.5 235.0,143.7 236.0,142.8 237.0,141.8 238.0,140.8 239.0,139.6 240.0,138.6 241.0,138.1 242.0,138.2 243.0,138.3 244.0,138.2 245.0,137.7 246.0,137.5 247.0,138.0 248.0,139.6 249.0,141.8 250.0,141.1 251.0,136.9 252.0,131.7 253.0,125.3 254.0,124.1 255.0,122.7 256.0,121.9 257.0,122.0 258.0,122.9 259.0,124.2 260.0,125.8 261.0,127.1 262.0,127.8 263.0,127.4 264.0,126.1 265.0,124.0 266.0,123.7 267.0,128.0 268.0,137.1 269.0,147.1 270.0,148.7 271.0,150.5 272.0,151.9 273.0,152.6 274.0,152.5 275.0,151.8 276.0,151.2 277.0,150.7 278.0,150.3 279.0,149.9 280.0,149.3 281.0,148.4 282.0,147.3 283.0,145.8 284.0,144.0 285.0,142.2 286.0,140.8 287.0,140.3 288.0,141.1 289.0,142.9 290.0,145.2 291.0,147.0 292.0,148.0 293.0,147.9 294.0,147.0 295.0,145.8 296.0,144.7 297.0,144.0 298.0,143.4 299.0,142.5 300.0,141.2 301.0,140.1 302.0,139.8 303.0,140.3 304.0,141.0 305.0,140.7 306.0,139.4 307.0,137.6 308.0,136.6 309.0,137.1 310.0,138.5 311.0,140.0 312.0,141.1 313.0,141.5 314.0,141.9 315.0,142.8 316.0,144.4 317.0,146.3 318.0,147.7 319.0,148.1 320.0,147.6 321.0,146.5 322.0,145.6 323.0,145.4 324.0,145.7 325.0,145.6 326.0,144.8 327.0,143.2 328.0,141.5 329.0,140.6 330.0,141.0 331.0,142.0 332.0,142.7 333.0,142.3 334.0,141.2 335.0,140.3 336.0,140.2 337.0,141.1 338.0,142.9 339.0,145.2 340.0,147.2 341.0,148.5 342.0,148.8 343.0,148.1 344.0,147.3 345.0,147.0 346.0,147.5 347.0,148.3 348.0,148.6" fill="none" stroke="#7c7c7c" stroke-width="0.65" stroke-linejoin="round" />
<polyline points="203.0,147.5 204.0,148.3 205.0,149.9 206.0,150.6 207.0,149.3 208.0,146.6 209.0,143.8 210.0,142.2 211.0,142.1 212.0,142.7 213.0,143.3 214.0,143.7 215.0,144.1 216.0,144.6 217.0,145.3 218.0,145.9 219.0,146.4 220.0,146.5 221.0,146.1 222.0,145.2 223.0,143.9 224.0,142.6 225.0,141.8 226.0,141.8 227.0,142.8 228.0,144.2 229.0,145.4 230.0,145.8 231.0,145.4 232.0,144.4 233.0,143.2 234.0,142.4 235.0,142.0 236.0,142.5 237.0,143.6 238.0,145.5 239.0,147.8 240.0,150.4 241.0,152.8 242.0,154.7 243.0,155.7 244.0,155.4 245.0,153.7 246.0,151.1 247.0,148.6 248.0,146.9 249.0,146.4 250.0,144.1 251.0,139.6 252.0,135.3 253.0,131.6 254.0,133.3 255.0,135.0 256.0,135.6 257.0,134.6 258.0,132.1 259.0,128.9 260.0,125.9 261.0,123.6 262.0,122.4 263.0,122.5 264.0,123.6 265.0,125.5 266.0,128.9 267.0,134.7 268.0,142.2 269.0,148.2 270.0,146.0 271.0,144.1 272.0,143.4 273.0,143.8 274.0,144.6 275.0,145.2 276.0,145.1 277.0,144.1 278.0,142.7 279.0,141.5 280.0,140.9 281.0,141.0 282.0,141.6 283.0,142.4 284.0,142.9 285.0,143.2 286.0,143.4 287.0,144.1 288.0,145.2 289.0,146.2 290.0,146.9 291.0,147.2 292.0,147.5 293.0,147.8 294.0,147.8 295.0,147.2 296.0,146.1 297.0,145.2 298.0,144.5 299.0,143.8 300.0,142.8 301.0,141.8 302.0,141.9 303.0,144.3 304.0,148.6 305.0,153.6 306.0,157.8 307.0,160.1 308.0,159.8 309.0,157.6 310.0,154.5 311.0,151.5 312.0,149.5 313.0,148.4 314.0,147.7 315.0,147.1 316.0,146.3 317.0,145.4 318.0,144.6 319.0,143.8 320.0,142.9 321.0,141.5 322.0,139.7 323.0,138.1 324.0,137.5 325.0,138.2 326.0,140.1 327.0,142.5 328.0,144.8 329.0,146.4 330.0,147.0 331.0,146.6 332.0,145.3 333.0,143.6 334.0,142.2 335.0,141.6 336.0,141.7 337.0,142.3 338.0,142.5 339.0,142.1 340.0,141.0 341.0,139.6 342.0,138.6 343.0,138.7 344.0,140.2 345.0,142.5 346.0,145.0 347.0,146.9 348.0,147.6" fill="none" stroke="#7c7c7c" stroke-width="0.65" stroke-linejoin="round" />
<polyline points="203.0,149.1 204.0,149.6 205.0,150.9 206.0,152.4 207.0,153.6 208.0,154.3 209.0,154.1 210.0,152.5 211.0,149.3 212.0,145.2 213.0,141.7 214.0,140.1 215.0,140.6 216.0,142.3 217.0,143.7 218.0,144.1 219.0,143.6 220.0,142.8 221.0,141.9 222.0,141.2 223.0,140.6 224.0,140.0 225.0,139.6 226.0,139.2 227.0,138.8 228.0,138.6 229.0,138.8 230.0,139.8 231.0,141.5 232.0,143.1 233.0,143.9 234.0,143.1 235.0,141.0 236.0,138.5 237.0,136.6 238.0,136.0 239.0,136.5 240.0,137.6 241.0,138.7 242.0,140.0 243.0,141.6 244.0,143.4 245.0,145.1 246.0,146.3 247.0,146.8 248.0,147.0 249.0,146.9 250.0,144.3 251.0,139.0 252.0,133.3 253.0,127.2 254.0,125.5 255.0,123.9 256.0,122.9 257.0,122.6 258.0,122.9 259.0,123.8 260.0,125.4 261.0,127.7 262.0,130.3 263.0,132.3 264.0,133.1 265.0,132.5 266.0,132.5 267.0,135.3 268.0,141.1 269.0,146.9 270.0,145.9 271.0,145.1 272.0,144.4 273.0,144.2 274.0,144.6 275.0,145.6 276.0,146.9 277.0,147.8 278.0,148.1 279.0,147.9 280.0,147.9 281.0,148.6 282.0,150.3 283.0,152.1 284.0,153.4 285.0,154.0 286.0,154.0 287.0,153.7 288.0,152.8 289.0,151.3 290.0,149.2 291.0,146.9 292.0,144.8 293.0,143.0 294.0,141.3 295.0,139.8 296.0,138.8 297.0,138.6 298.0,139.5 299.0,141.3 300.0,143.4 301.0,145.4 302.0,146.6 303.0,147.0 304.0,146.2 305.0,144.6 306.0,142.7 307.0,140.9 308.0,140.0 309.0,140.4 310.0,142.0 311.0,144.2 312.0,146.1 313.0,147.2 314.0,147.4 315.0,147.0 316.0,146.1 317.0,145.0 318.0,144.1 319.0,143.7 320.0,143.8 321.0,144.4 322.0,145.0 323.0,145.3 324.0,145.3 325.0,144.6 326.0,143.0 327.0,140.9 328.0,139.2 329.0,138.7 330.0,139.3 331.0,140.4 332.0,141.5 333.0,142.8 334.0,144.4 335.0,146.2 336.0,147.4 337.0,147.7 338.0,147.1 339.0,146.5 340.0,146.6 341.0,147.5 342.0,148.6 343.0,148.8 344.0,147.6 345.0,145.0 346.0,141.9 347.0,139.3 348.0,138.3" fill="none" stroke="#7c7c7c" stroke-width="0.65" stroke-linejoin="round" />
<polyline points="203.0,143.6 204.0,143.8 205.0,144.0 206.0,143.9 207.0,143.4 208.0,142.9 209.0,143.0 210.0,143.5 211.0,143.9 212.0,143.8 213.0,143.0 214.0,141.7 215.0,140.3 216.0,139.2 217.0,138.5 218.0,138.5 219.0,139.1 220.0,140.0 221.0,141.4 222.0,143.1 223.0,145.2 224.0,147.1 225.0,148.1 226.0,147.6 227.0,145.8 228.0,143.9 229.0,143.2 230.0,144.1 231.0,145.6 232.0,146.3 233.0,145.7 234.0,144.0 235.0,142.2 236.0,141.4 237.0,142.0 238.0,143.7 239.0,145.8 240.0,147.3 241.0,148.0 242.0,148.0 243.0,148.0 244.0,148.3 245.0,148.7 246.0,148.7 247.0,148.0 248.0,146.8 249.0,145.3 250.0,141.2 251.0,135.0 252.0,129.5 253.0,125.0 254.0,126.6 255.0,129.1 256.0,132.1 257.0,134.9 258.0,136.8 259.0,137.2 260.0,136.0 261.0,133.7 262.0,130.8 263.0,127.8 264.0,124.7 265.0,121.5 266.0,119.9 267.0,122.3 268.0,128.9 269.0,136.7 270.0,137.8 271.0,139.5 272.0,141.5 273.0,143.6 274.0,145.4 275.0,146.7 276.0,147.2 277.0,147.0 278.0,146.3 279.0,145.5 280.0,144.9 281.0,144.2 282.0,143.4 283.0,142.7 284.0,142.6 285.0,143.4 286.0,144.6 287.0,145.8 288.0,146.2 289.0,146.0 290.0,145.3 291.0,144.4 292.0,143.7 293.0,143.1 294.0,142.5 295.0,141.6 296.0,140.2 297.0,138.6 298.0,137.6 299.0,138.0 300.0,140.1 301.0,143.4 302.0,146.9 303.0,149.5 304.0,150.8 305.0,150.7 306.0,149.7 307.0,148.8 308.0,149.2 309.0,151.2 310.0,154.0 311.0,156.3 312.0,156.9 313.0,155.8 314.0,153.5 315.0,151.1 316.0,149.3 317.0,147.9 318.0,146.7 319.0,145.3 320.0,144.3 321.0,143.9 322.0,144.4 323.0,145.3 324.0,146.3 325.0,147.0 326.0,147.5 327.0,147.9 328.0,148.5 329.0,149.0 330.0,149.6 331.0,150.0 332.0,150.4 333.0,150.7 334.0,150.6 335.0,149.7 336.0,148.0 337.0,146.1 338.0,144.8 339.0,144.7 340.0,145.8 341.0,147.4 342.0,148.5 343.0,149.2 344.0,149.6 345.0,150.4 346.0,151.5 347.0,152.4 348.0,152.8" fill="none" stroke="#7c7c7c" stroke-width="0.65" stroke-linejoin="round" />
<polyline points="203.0,145.2 204.0,145.2 205.0,145.1 206.0,145.2 207.0,145.5 208.0,146.0 209.0,146.4 210.0,146.4 211.0,146.0 212.0,145.4 213.0,145.0 214.0,144.9 215.0,145.3 216.0,145.7 217.0,146.1 218.0,146.4 219.0,146.6 220.0,146.6 221.0,146.3 222.0,145.6 223.0,144.7 224.0,143.9 225.0,143.5 226.0,143.6 227.0,144.1 228.0,144.6 229.0,144.9 230.0,145.0 231.0,144.9 232.0,144.9 233.0,145.0 234.0,145.3 235.0,145.6 236.0,145.9 237.0,146.1 238.0,146.3 239.0,146.4 240.0,146.5 241.0,146.6 242.0,146.4 243.0,146.0 244.0,145.5 245.0,145.0 246.0,144.6 247.0,144.5 248.0,144.6 249.0,144.9 250.0,143.1 251.0,139.0 252.0,134.8 253.0,130.4 254.0,130.2 255.0,130.1 256.0,130.1 257.0,130.2 258.0,130.3 259.0,130.2 260.0,129.6 261.0,128.8 262.0,127.9 263.0,127.2 264.0,126.8 265.0,126.6 266.0,127.7 267.0,131.4 268.0,137.9 269.0,144.3 270.0,143.9 271.0,143.5 272.0,143.2 273.0,143.0 274.0,143.0 275.0,143.1 276.0,143.4 277.0,143.8 278.0,144.1 279.0,144.2 280.0,144.3 281.0,144.4 282.0,144.6 283.0,144.9 284.0,145.2 285.0,145.5 286.0,145.7 287.0,145.9 288.0,146.1 289.0,146.2 290.0,146.0 291.0,145.8 292.0,145.4 293.0,145.2 294.0,145.1 295.0,145.2 296.0,145.3 297.0,145.2 298.0,145.0 299.0,144.7 300.0,144.3 301.0,144.0 302.0,143.7 303.0,143.7 304.0,143.9 305.0,144.3 306.0,144.6 307.0,144.9 308.0,145.0 309.0,145.0 310.0,145.1 311.0,145.3 312.0,145.6 313.0,145.9 314.0,145.8 315.0,145.5 316.0,145.1 317.0,144.8 318.0,144.7 319.0,144.8 320.0,145.0 321.0,145.2 322.0,145.3 323.0,145.3 324.0,145.2 325.0,145.2 326.0,145.3 327.0,145.2 328.0,144.9 329.0,144.4 330.0,143.9 331.0,143.8 332.0,144.1 333.0,144.7 334.0,145.2 335.0,145.5 336.0,145.6 337.0,145.6 338.0,145.6 339.0,145.5 340.0,145.5 341.0,145.4 342.0,145.4 343.0,145.6 344.0,145.9 345.0,146.2 346.0,146.3 347.0,146.4 348.0,146.4" fill="none" stroke="#c13a3d" stroke-width="1.5" stroke-linejoin="round" />
<polyline points="376.0,178.6 377.0,177.9 378.0,175.8 379.0,172.4 380.0,167.9 381.0,162.7 382.0,157.3 383.0,152.6 384.0,149.1 385.0,147.3 386.0,147.2 387.0,148.2 388.0,149.5 389.0,150.5 390.0,150.9 391.0,150.4 392.0,149.2 393.0,147.3 394.0,144.8 395.0,141.9 396.0,138.4 397.0,134.9 398.0,131.6 399.0,129.2 400.0,128.2 401.0,128.9 402.0,131.3 403.0,134.5 404.0,137.9 405.0,140.5 406.0,141.9 407.0,141.9 408.0,141.3 409.0,140.9 410.0,141.6 411.0,143.8 412.0,147.0 413.0,150.3 414.0,152.7 415.0,153.7 416.0,153.3 417.0,152.0 418.0,150.2 419.0,148.4 420.0,146.6 421.0,144.7 422.0,142.3 423.0,139.4 424.0,130.0 425.0,114.2 426.0,98.8 427.0,83.5 428.0,82.2 429.0,81.7 430.0,82.4 431.0,83.4 432.0,83.8 433.0,83.6 434.0,82.4 435.0,81.5 436.0,82.8 437.0,86.3 438.0,91.6 439.0,98.6 440.0,106.5 441.0,114.3 442.0,122.7 443.0,131.4 444.0,137.7 445.0,142.7 446.0,145.6 447.0,145.8 448.0,142.6 449.0,137.9 450.0,132.9 451.0,128.1 452.0,125.3 453.0,124.8 454.0,126.1 455.0,128.6 456.0,131.2 457.0,133.6 458.0,135.8 459.0,137.8 460.0,140.3 461.0,143.4 462.0,147.2 463.0,151.5 464.0,156.0 465.0,160.3 466.0,164.3 467.0,167.8 468.0,170.4 469.0,171.5 470.0,170.5 471.0,167.1 472.0,161.6 473.0,154.9 474.0,148.0 475.0,142.3 476.0,138.4 477.0,136.6 478.0,136.6 479.0,138.0 480.0,140.6 481.0,144.2 482.0,148.6 483.0,153.1 484.0,156.8 485.0,158.7 486.0,157.9 487.0,154.5 488.0,149.3 489.0,143.6 490.0,138.7 491.0,135.2 492.0,133.3 493.0,132.6 494.0,132.9 495.0,133.7 496.0,135.2 497.0,137.0 498.0,138.9 499.0,140.6 500.0,141.5 501.0,141.3 502.0,140.0 503.0,137.9 504.0,135.3 505.0,132.8 506.0,130.9 507.0,129.9 508.0,129.7 509.0,130.4 510.0,131.6 511.0,133.1 512.0,134.5 513.0,135.3 514.0,135.1 515.0,134.0 516.0,132.0 517.0,129.4 518.0,126.4 519.0,123.7 520.0,121.8 521.0,121.1" fill="none" stroke="#7c7c7c" stroke-width="0.65" stroke-linejoin="round" />
<polyline points="376.0,143.6 377.0,143.0 378.0,141.7 379.0,140.4 380.0,140.1 381.0,141.4 382.0,144.3 383.0,148.0 384.0,151.4 385.0,153.6 386.0,153.9 387.0,152.2 388.0,149.1 389.0,145.5 390.0,142.3 391.0,140.2 392.0,139.4 393.0,139.8 394.0,140.6 395.0,141.5 396.0,142.0 397.0,142.2 398.0,142.4 399.0,142.9 400.0,144.3 401.0,146.4 402.0,149.2 403.0,152.2 404.0,154.5 405.0,155.8 406.0,155.9 407.0,154.8 408.0,152.8 409.0,150.2 410.0,147.4 411.0,144.8 412.0,142.8 413.0,141.2 414.0,139.9 415.0,138.6 416.0,137.1 417.0,135.8 418.0,135.1 419.0,135.1 420.0,135.3 421.0,135.0 422.0,132.8 423.0,128.5 424.0,113.5 425.0,89.4 426.0,67.4 427.0,49.1 428.0,54.7 429.0,64.7 430.0,77.5 431.0,89.6 432.0,98.0 433.0,102.0 434.0,101.6 435.0,99.8 436.0,100.2 437.0,104.1 438.0,111.1 439.0,121.3 440.0,132.0 441.0,140.7 442.0,147.0 443.0,150.2 444.0,147.8 445.0,143.6 446.0,139.1 447.0,135.5 448.0,132.3 449.0,130.8 450.0,130.5 451.0,129.6 452.0,128.7 453.0,127.5 454.0,125.9 455.0,123.9 456.0,121.8 457.0,120.2 458.0,119.2 459.0,119.4 460.0,120.7 461.0,123.1 462.0,126.3 463.0,130.2 464.0,134.5 465.0,139.0 466.0,143.4 467.0,147.5 468.0,150.9 469.0,153.3 470.0,154.7 471.0,155.3 472.0,155.5 473.0,155.7 474.0,156.2 475.0,157.3 476.0,159.0 477.0,161.3 478.0,164.0 479.0,166.7 480.0,169.0 481.0,170.5 482.0,170.5 483.0,169.1 484.0,166.3 485.0,162.5 486.0,158.3 487.0,154.1 488.0,150.4 489.0,147.3 490.0,144.9 491.0,143.3 492.0,142.7 493.0,143.3 494.0,145.6 495.0,149.7 496.0,155.5 497.0,162.1 498.0,168.1 499.0,172.2 500.0,173.6 501.0,172.1 502.0,168.4 503.0,163.5 504.0,158.8 505.0,155.4 506.0,153.6 507.0,153.5 508.0,154.6 509.0,156.1 510.0,157.6 511.0,158.9 512.0,159.9 513.0,160.4 514.0,160.3 515.0,159.3 516.0,157.2 517.0,154.0 518.0,150.1 519.0,146.4 520.0,143.7 521.0,142.7" fill="none" stroke="#7c7c7c" stroke-width="0.65" stroke-linejoin="round" />
<polyline points="376.0,138.4 377.0,140.2 378.0,145.0 379.0,151.4 380.0,157.0 381.0,159.7 382.0,158.3 383.0,152.6 384.0,143.8 385.0,133.9 386.0,124.9 387.0,118.6 388.0,116.0 389.0,117.7 390.0,123.2 391.0,131.4 392.0,140.1 393.0,146.8 394.0,149.9 395.0,148.8 396.0,144.6 397.0,139.4 398.0,134.8 399.0,132.3 400.0,132.3 401.0,134.7 402.0,139.0 403.0,144.7 404.0,151.0 405.0,156.8 406.0,161.5 407.0,164.5 408.0,165.6 409.0,165.7 410.0,165.4 411.0,165.6 412.0,166.3 413.0,167.3 414.0,168.0 415.0,168.2 416.0,167.8 417.0,167.4 418.0,167.6 419.0,168.2 420.0,169.2 421.0,170.0 422.0,170.3 423.0,170.1 424.0,165.6 425.0,157.2 426.0,149.6 427.0,142.3 428.0,144.5 429.0,145.8 430.0,146.0 431.0,144.6 432.0,141.2 433.0,136.6 434.0,131.3 435.0,126.9 436.0,124.8 437.0,125.0 438.0,127.0 439.0,130.5 440.0,134.4 441.0,137.6 442.0,140.1 443.0,141.5 444.0,140.3 445.0,138.1 446.0,135.6 447.0,134.0 448.0,133.3 449.0,134.7 450.0,137.6 451.0,140.6 452.0,143.3 453.0,145.3 454.0,146.4 455.0,147.1 456.0,147.4 457.0,147.7 458.0,148.1 459.0,148.6 460.0,149.6 461.0,151.5 462.0,154.4 463.0,158.2 464.0,162.0 465.0,164.7 466.0,165.6 467.0,164.2 468.0,161.0 469.0,156.8 470.0,152.5 471.0,148.6 472.0,145.2 473.0,142.1 474.0,139.4 475.0,137.0 476.0,135.5 477.0,135.5 478.0,137.5 479.0,141.6 480.0,147.4 481.0,153.8 482.0,159.5 483.0,163.4 484.0,165.0 485.0,164.1 486.0,161.3 487.0,157.2 488.0,152.8 489.0,148.6 490.0,145.1 491.0,142.7 492.0,141.4 493.0,141.3 494.0,142.2 495.0,143.6 496.0,144.6 497.0,144.0 498.0,141.2 499.0,136.2 500.0,130.1 501.0,124.7 502.0,121.9 503.0,123.0 504.0,127.6 505.0,134.4 506.0,141.4 507.0,147.1 508.0,150.4 509.0,151.0 510.0,149.6 511.0,147.0 512.0,144.2 513.0,141.9 514.0,140.5 515.0,139.8 516.0,139.4 517.0,138.8 518.0,137.7 519.0,136.5 520.0,135.3 521.0,134.9" fill="none" stroke="#7c7c7c" stroke-width="0.65" stroke-linejoin="round" />
<polyline points="376.0,135.6 377.0,135.0 378.0,133.5 379.0,131.9 380.0,131.2 381.0,132.1 382.0,135.0 383.0,139.6 384.0,144.9 385.0,149.8 386.0,153.1 387.0,154.3 388.0,153.7 389.0,151.7 390.0,149.3 391.0,146.8 392.0,144.7 393.0,143.0 394.0,141.9 395.0,141.2 396.0,140.9 397.0,140.7 398.0,140.3 399.0,139.4 400.0,137.9 401.0,136.0 402.0,134.0 403.0,132.8 404.0,133.0 405.0,134.8 406.0,137.8 407.0,140.8 408.0,142.6 409.0,142.4 410.0,140.2 411.0,136.7 412.0,133.3 413.0,130.8 414.0,130.0 415.0,131.1 416.0,133.6 417.0,137.0 418.0,140.6 419.0,143.6 420.0,145.7 421.0,146.8 422.0,147.2 423.0,146.8 424.0,137.1 425.0,117.9 426.0,97.9 427.0,77.6 428.0,76.0 429.0,76.4 430.0,79.4 431.0,84.1 432.0,88.7 433.0,93.2 434.0,97.1 435.0,102.1 436.0,110.0 437.0,120.3 438.0,131.5 439.0,142.6 440.0,151.5 441.0,156.8 442.0,160.0 443.0,162.1 444.0,161.8 445.0,162.7 446.0,164.6 447.0,167.1 448.0,167.5 449.0,166.3 450.0,163.4 451.0,158.2 452.0,152.8 453.0,147.9 454.0,143.8 455.0,140.4 456.0,137.1 457.0,133.9 458.0,130.8 459.0,128.3 460.0,127.1 461.0,127.7 462.0,130.1 463.0,134.1 464.0,138.7 465.0,143.2 466.0,146.8 467.0,149.0 468.0,150.0 469.0,150.3 470.0,150.6 471.0,151.6 472.0,153.3 473.0,155.6 474.0,158.3 475.0,160.9 476.0,163.7 477.0,166.6 478.0,169.4 479.0,171.7 480.0,172.9 481.0,172.3 482.0,170.0 483.0,166.3 484.0,162.1 485.0,158.2 486.0,155.4 487.0,154.4 488.0,155.1 489.0,157.2 490.0,160.3 491.0,163.3 492.0,165.3 493.0,165.8 494.0,164.8 495.0,162.8 496.0,160.6 497.0,159.0 498.0,158.6 499.0,159.2 500.0,160.4 501.0,161.5 502.0,162.2 503.0,162.2 504.0,161.3 505.0,159.4 506.0,156.1 507.0,151.6 508.0,146.7 509.0,142.5 510.0,140.2 511.0,140.3 512.0,142.1 513.0,144.7 514.0,146.4 515.0,146.3 516.0,144.1 517.0,140.2 518.0,135.4 519.0,130.9 520.0,127.6 521.0,126.5" fill="none" stroke="#7c7c7c" stroke-width="0.65" stroke-linejoin="round" />
<polyline points="376.0,133.8 377.0,134.1 378.0,135.0 379.0,136.6 380.0,138.8 381.0,141.4 382.0,144.1 383.0,146.5 384.0,148.3 385.0,149.2 386.0,149.3 387.0,148.5 388.0,147.0 389.0,144.6 390.0,141.2 391.0,136.7 392.0,131.4 393.0,126.0 394.0,121.7 395.0,119.5 396.0,120.4 397.0,124.2 398.0,130.1 399.0,136.8 400.0,142.9 401.0,147.7 402.0,150.8 403.0,152.6 404.0,153.2 405.0,152.9 406.0,151.9 407.0,150.3 408.0,148.5 409.0,146.8 410.0,145.7 411.0,145.2 412.0,145.5 413.0,146.7 414.0,148.3 415.0,149.7 416.0,150.0 417.0,148.4 418.0,144.7 419.0,139.6 420.0,134.2 421.0,130.3 422.0,129.2 423.0,131.6 424.0,128.9 425.0,120.1 426.0,111.3 427.0,100.8 428.0,104.9 429.0,107.3 430.0,108.6 431.0,108.7 432.0,107.6 433.0,106.1 434.0,104.6 435.0,105.4 436.0,110.4 437.0,119.3 438.0,130.4 439.0,142.3 440.0,152.5 441.0,159.2 442.0,163.1 443.0,165.0 444.0,163.5 445.0,161.5 446.0,159.6 447.0,158.0 448.0,155.5 449.0,153.3 450.0,151.6 451.0,149.5 452.0,148.2 453.0,147.6 454.0,147.7 455.0,148.0 456.0,147.8 457.0,146.5 458.0,143.8 459.0,139.9 460.0,135.6 461.0,131.9 462.0,129.4 463.0,128.1 464.0,127.9 465.0,128.4 466.0,129.7 467.0,131.9 468.0,135.5 469.0,140.7 470.0,146.9 471.0,153.8 472.0,160.3 473.0,165.8 474.0,169.7 475.0,171.6 476.0,171.0 477.0,168.1 478.0,163.4 479.0,157.6 480.0,151.5 481.0,145.6 482.0,140.3 483.0,135.8 484.0,132.3 485.0,130.0 486.0,129.2 487.0,129.9 488.0,132.2 489.0,135.4 490.0,139.0 491.0,142.1 492.0,144.2 493.0,144.8 494.0,144.1 495.0,142.6 496.0,140.9 497.0,139.7 498.0,139.0 499.0,138.8 500.0,139.0 501.0,139.3 502.0,139.9 503.0,141.0 504.0,143.0 505.0,146.1 506.0,149.9 507.0,153.8 508.0,156.9 509.0,157.9 510.0,156.3 511.0,152.1 512.0,146.1 513.0,139.5 514.0,133.6 515.0,129.0 516.0,125.6 517.0,122.7 518.0,119.9 519.0,117.3 520.0,115.3 521.0,114.6" fill="none" stroke="#7c7c7c" stroke-width="0.65" stroke-linejoin="round" />
<polyline points="376.0,159.7 377.0,159.3 378.0,158.1 379.0,156.1 380.0,153.1 381.0,149.2 382.0,144.9 383.0,140.9 384.0,138.2 385.0,137.3 386.0,138.0 387.0,139.5 388.0,140.2 389.0,139.2 390.0,136.7 391.0,133.7 392.0,131.5 393.0,131.1 394.0,132.8 395.0,136.0 396.0,140.0 397.0,143.9 398.0,147.2 399.0,149.9 400.0,151.8 401.0,152.9 402.0,153.0 403.0,152.0 404.0,150.2 405.0,147.9 406.0,145.6 407.0,143.8 408.0,142.9 409.0,143.2 410.0,145.0 411.0,148.2 412.0,152.5 413.0,157.6 414.0,162.5 415.0,166.7 416.0,169.6 417.0,171.0 418.0,171.1 419.0,170.0 420.0,167.9 421.0,165.3 422.0,162.5 423.0,160.1 424.0,153.2 425.0,141.8 426.0,130.8 427.0,119.8 428.0,119.4 429.0,119.5 430.0,119.7 431.0,119.1 432.0,116.5 433.0,112.2 434.0,106.2 435.0,100.8 436.0,97.9 437.0,98.4 438.0,102.4 439.0,110.0 440.0,119.6 441.0,129.6 442.0,138.8 443.0,146.0 444.0,149.0 445.0,148.9 446.0,146.3 447.0,142.1 448.0,136.9 449.0,132.4 450.0,129.4 451.0,127.9 452.0,128.5 453.0,131.1 454.0,135.3 455.0,140.5 456.0,146.0 457.0,150.9 458.0,154.4 459.0,155.9 460.0,155.2 461.0,152.7 462.0,149.4 463.0,146.6 464.0,145.2 465.0,145.7 466.0,147.8 467.0,150.1 468.0,151.2 469.0,149.8 470.0,145.6 471.0,139.1 472.0,131.3 473.0,123.8 474.0,117.9 475.0,114.6 476.0,114.0 477.0,115.8 478.0,119.3 479.0,123.8 480.0,128.9 481.0,134.2 482.0,139.3 483.0,143.6 484.0,146.6 485.0,147.7 486.0,146.7 487.0,143.9 488.0,139.9 489.0,135.9 490.0,132.9 491.0,131.7 492.0,133.0 493.0,136.9 494.0,143.0 495.0,150.4 496.0,157.9 497.0,164.2 498.0,168.1 499.0,168.9 500.0,166.9 501.0,162.9 502.0,158.2 503.0,154.0 504.0,151.1 505.0,149.4 506.0,148.3 507.0,147.0 508.0,144.6 509.0,140.5 510.0,134.7 511.0,127.5 512.0,120.2 513.0,114.3 514.0,111.4 515.0,112.8 516.0,118.4 517.0,127.4 518.0,137.9 519.0,147.7 520.0,154.6 521.0,157.1" fill="none" stroke="#7c7c7c" stroke-width="0.65" stroke-linejoin="round" />
<polyline points="376.0,146.0 377.0,146.4 378.0,147.5 379.0,148.8 380.0,149.9 381.0,150.9 382.0,151.8 383.0,153.1 384.0,154.8 385.0,156.4 386.0,157.5 387.0,157.8 388.0,157.1 389.0,156.1 390.0,155.4 391.0,155.4 392.0,155.9 393.0,156.3 394.0,155.7 395.0,153.5 396.0,149.8 397.0,145.3 398.0,141.3 399.0,139.0 400.0,139.0 401.0,141.0 402.0,144.1 403.0,147.0 404.0,149.1 405.0,150.3 406.0,151.3 407.0,152.7 408.0,154.6 409.0,156.8 410.0,158.9 411.0,160.6 412.0,162.3 413.0,164.1 414.0,166.2 415.0,167.7 416.0,167.7 417.0,165.0 418.0,159.4 419.0,151.4 420.0,142.3 421.0,133.8 422.0,127.6 423.0,124.9 424.0,117.2 425.0,104.2 426.0,93.9 427.0,84.8 428.0,94.8 429.0,104.2 430.0,111.7 431.0,115.6 432.0,114.3 433.0,109.2 434.0,101.3 435.0,94.3 436.0,91.4 437.0,93.0 438.0,97.7 439.0,104.6 440.0,111.2 441.0,116.0 442.0,120.5 443.0,125.6 444.0,129.5 445.0,135.0 446.0,141.8 447.0,148.7 448.0,153.3 449.0,156.6 450.0,158.5 451.0,158.2 452.0,157.4 453.0,156.4 454.0,155.3 455.0,154.2 456.0,153.1 457.0,151.7 458.0,149.3 459.0,145.3 460.0,139.2 461.0,131.3 462.0,122.7 463.0,115.2 464.0,109.7 465.0,107.0 466.0,106.8 467.0,109.0 468.0,113.1 469.0,118.8 470.0,125.7 471.0,132.5 472.0,138.3 473.0,142.2 474.0,144.3 475.0,145.2 476.0,145.8 477.0,146.8 478.0,148.5 479.0,150.6 480.0,152.4 481.0,153.5 482.0,154.0 483.0,154.1 484.0,154.3 485.0,154.5 486.0,154.3 487.0,153.1 488.0,150.6 489.0,147.0 490.0,143.0 491.0,139.4 492.0,137.0 493.0,136.0 494.0,136.1 495.0,136.7 496.0,137.1 497.0,136.4 498.0,134.5 499.0,131.6 500.0,128.8 501.0,127.6 502.0,129.0 503.0,133.6 504.0,140.9 505.0,149.2 506.0,156.9 507.0,162.3 508.0,165.1 509.0,165.5 510.0,164.6 511.0,163.6 512.0,163.3 513.0,163.8 514.0,164.8 515.0,165.6 516.0,165.8 517.0,165.1 518.0,164.0 519.0,162.9 520.0,162.1 521.0,161.8" fill="none" stroke="#7c7c7c" stroke-width="0.65" stroke-linejoin="round" />
<polyline points="376.0,164.4 377.0,163.4 378.0,160.4 379.0,155.3 380.0,148.4 381.0,140.4 382.0,132.6 383.0,125.6 384.0,120.2 385.0,116.3 386.0,113.5 387.0,111.9 388.0,111.5 389.0,112.9 390.0,116.1 391.0,121.2 392.0,127.6 393.0,134.6 394.0,141.7 395.0,147.9 396.0,152.8 397.0,156.0 398.0,157.6 399.0,157.6 400.0,156.8 401.0,155.8 402.0,155.2 403.0,155.3 404.0,156.1 405.0,157.2 406.0,157.9 407.0,158.2 408.0,158.2 409.0,158.3 410.0,158.9 411.0,160.3 412.0,161.9 413.0,163.4 414.0,164.6 415.0,165.3 416.0,165.8 417.0,166.3 418.0,166.7 419.0,166.6 420.0,166.1 421.0,165.4 422.0,164.9 423.0,165.2 424.0,158.8 425.0,145.3 426.0,131.3 427.0,116.1 428.0,115.5 429.0,115.1 430.0,115.5 431.0,116.3 432.0,116.7 433.0,116.7 434.0,116.2 435.0,116.5 436.0,119.2 437.0,123.9 438.0,129.5 439.0,136.0 440.0,142.6 441.0,148.6 442.0,154.7 443.0,160.6 444.0,163.3 445.0,164.3 446.0,163.6 447.0,161.5 448.0,157.9 449.0,154.6 450.0,152.3 451.0,149.9 452.0,148.1 453.0,146.6 454.0,145.2 455.0,143.9 456.0,143.0 457.0,142.7 458.0,142.9 459.0,143.5 460.0,144.3 461.0,145.1 462.0,145.8 463.0,146.5 464.0,147.3 465.0,148.2 466.0,149.2 467.0,150.0 468.0,150.7 469.0,151.4 470.0,152.3 471.0,153.4 472.0,154.7 473.0,156.1 474.0,157.6 475.0,159.1 476.0,160.6 477.0,161.8 478.0,162.8 479.0,163.4 480.0,163.6 481.0,163.4 482.0,163.1 483.0,162.8 484.0,162.9 485.0,163.3 486.0,163.4 487.0,162.7 488.0,160.7 489.0,157.5 490.0,153.6 491.0,150.2 492.0,147.9 493.0,147.5 494.0,148.8 495.0,151.4 496.0,154.6 497.0,157.8 498.0,160.7 499.0,162.9 500.0,164.4 501.0,164.9 502.0,164.3 503.0,162.3 504.0,158.8 505.0,154.0 506.0,148.4 507.0,142.8 508.0,138.1 509.0,135.2 510.0,134.3 511.0,135.0 512.0,136.5 513.0,138.0 514.0,138.8 515.0,138.8 516.0,138.3 517.0,137.5 518.0,136.8 519.0,136.2 520.0,135.8 521.0,135.7" fill="none" stroke="#7c7c7c" stroke-width="0.65" stroke-linejoin="round" />
<polyline points="376.0,127.8 377.0,127.6 378.0,127.1 379.0,126.3 380.0,125.2 381.0,124.0 382.0,123.0 383.0,122.6 384.0,123.0 385.0,124.3 386.0,126.0 387.0,127.5 388.0,128.4 389.0,128.7 390.0,128.5 391.0,128.3 392.0,128.4 393.0,128.8 394.0,129.4 395.0,129.8 396.0,129.8 397.0,129.0 398.0,127.5 399.0,125.4 400.0,123.3 401.0,121.8 402.0,121.3 403.0,122.2 404.0,124.1 405.0,126.7 406.0,129.5 407.0,132.2 408.0,134.8 409.0,137.3 410.0,139.8 411.0,142.0 412.0,144.2 413.0,146.2 414.0,148.3 415.0,150.6 416.0,153.5 417.0,156.7 418.0,160.0 419.0,162.9 420.0,164.8 421.0,165.6 422.0,165.5 423.0,165.2 424.0,156.0 425.0,138.2 426.0,120.8 427.0,103.3 428.0,104.5 429.0,106.1 430.0,107.9 431.0,108.9 432.0,107.7 433.0,104.6 434.0,99.8 435.0,95.5 436.0,94.5 437.0,96.9 438.0,102.2 439.0,109.8 440.0,117.9 441.0,124.3 442.0,129.2 443.0,132.1 444.0,130.7 445.0,128.3 446.0,126.4 447.0,126.2 448.0,127.2 449.0,130.7 450.0,135.8 451.0,140.1 452.0,143.5 453.0,145.2 454.0,145.4 455.0,144.5 456.0,143.1 457.0,142.0 458.0,141.4 459.0,141.3 460.0,141.3 461.0,141.2 462.0,140.7 463.0,140.0 464.0,139.4 465.0,139.0 466.0,139.0 467.0,139.5 468.0,140.4 469.0,141.9 470.0,144.0 471.0,146.6 472.0,149.6 473.0,152.6 474.0,155.4 475.0,158.1 476.0,160.5 477.0,162.7 478.0,164.5 479.0,166.0 480.0,167.2 481.0,168.2 482.0,168.9 483.0,169.3 484.0,168.9 485.0,167.4 486.0,164.7 487.0,161.2 488.0,157.4 489.0,154.1 490.0,151.7 491.0,150.4 492.0,150.0 493.0,149.9 494.0,149.5 495.0,148.6 496.0,146.9 497.0,145.0 498.0,143.5 499.0,143.1 500.0,144.2 501.0,147.2 502.0,151.5 503.0,156.5 504.0,161.0 505.0,164.1 506.0,165.1 507.0,163.8 508.0,160.3 509.0,155.5 510.0,150.1 511.0,145.2 512.0,141.6 513.0,139.8 514.0,139.8 515.0,141.3 516.0,143.4 517.0,145.6 518.0,147.3 519.0,148.5 520.0,149.1 521.0,149.3" fill="none" stroke="#7c7c7c" stroke-width="0.65" stroke-linejoin="round" />
<polyline points="376.0,137.5 377.0,137.3 378.0,137.1 379.0,137.0 380.0,137.4 381.0,138.2 382.0,139.3 383.0,140.4 384.0,141.2 385.0,141.7 386.0,141.7 387.0,141.3 388.0,140.8 389.0,140.3 390.0,140.1 391.0,140.5 392.0,141.7 393.0,143.6 394.0,146.1 395.0,149.0 396.0,152.2 397.0,155.5 398.0,158.5 399.0,160.5 400.0,160.5 401.0,157.7 402.0,151.8 403.0,143.5 404.0,134.5 405.0,126.3 406.0,120.7 407.0,118.1 408.0,118.3 409.0,120.3 410.0,123.2 411.0,126.5 412.0,129.9 413.0,133.5 414.0,137.6 415.0,141.9 416.0,146.4 417.0,150.5 418.0,153.9 419.0,156.1 420.0,157.0 421.0,156.8 422.0,156.2 423.0,155.4 424.0,150.6 425.0,141.8 426.0,133.4 427.0,125.2 428.0,126.6 429.0,129.4 430.0,133.6 431.0,138.5 432.0,142.8 433.0,145.7 434.0,146.0 435.0,144.2 436.0,141.2 437.0,137.8 438.0,135.0 439.0,134.0 440.0,135.0 441.0,137.5 442.0,141.2 443.0,144.9 444.0,146.4 445.0,146.7 446.0,146.3 447.0,146.2 448.0,147.0 449.0,150.1 450.0,155.2 451.0,160.8 452.0,166.0 453.0,169.1 454.0,169.3 455.0,166.8 456.0,162.7 457.0,158.5 458.0,155.2 459.0,153.6 460.0,153.4 461.0,153.9 462.0,154.1 463.0,153.0 464.0,149.9 465.0,144.9 466.0,138.5 467.0,131.6 468.0,125.3 469.0,120.2 470.0,116.9 471.0,115.0 472.0,114.4 473.0,114.7 474.0,115.5 475.0,116.7 476.0,118.3 477.0,120.1 478.0,122.1 479.0,124.2 480.0,126.3 481.0,128.3 482.0,130.4 483.0,132.5 484.0,134.4 485.0,136.1 486.0,137.3 487.0,137.8 488.0,137.8 489.0,137.0 490.0,135.8 491.0,134.4 492.0,133.2 493.0,132.5 494.0,132.4 495.0,133.1 496.0,134.4 497.0,135.8 498.0,136.7 499.0,136.8 500.0,136.0 501.0,134.8 502.0,133.6 503.0,132.8 504.0,132.7 505.0,133.0 506.0,134.0 507.0,135.7 508.0,138.6 509.0,142.6 510.0,147.5 511.0,152.0 512.0,155.1 513.0,155.7 514.0,153.7 515.0,150.0 516.0,145.6 517.0,142.0 518.0,139.7 519.0,138.8 520.0,138.7 521.0,138.7" fill="none" stroke="#7c7c7c" stroke-width="0.65" stroke-linejoin="round" />
<polyline points="376.0,140.5 377.0,141.2 378.0,143.1 379.0,145.9 380.0,148.9 381.0,151.7 382.0,153.6 383.0,154.5 384.0,154.5 385.0,154.2 386.0,154.3 387.0,155.1 388.0,156.3 389.0,157.2 390.0,157.0 391.0,155.4 392.0,152.7 393.0,149.7 394.0,147.4 395.0,146.4 396.0,146.6 397.0,147.4 398.0,147.8 399.0,147.0 400.0,144.8 401.0,141.3 402.0,137.2 403.0,133.1 404.0,129.7 405.0,127.4 406.0,126.5 407.0,127.4 408.0,130.1 409.0,134.7 410.0,140.5 411.0,146.8 412.0,153.1 413.0,158.8 414.0,164.0 415.0,168.6 416.0,172.4 417.0,174.9 418.0,175.3 419.0,173.3 420.0,169.0 421.0,163.6 422.0,158.7 423.0,155.5 424.0,148.1 425.0,136.4 426.0,126.4 427.0,117.1 428.0,122.0 429.0,126.6 430.0,130.4 431.0,132.1 432.0,130.7 433.0,126.6 434.0,120.5 435.0,114.4 436.0,110.9 437.0,110.4 438.0,112.4 439.0,116.9 440.0,122.4 441.0,127.9 442.0,133.5 443.0,138.9 444.0,141.9 445.0,144.0 446.0,145.4 447.0,145.9 448.0,144.9 449.0,144.0 450.0,143.5 451.0,142.7 452.0,142.1 453.0,140.9 454.0,138.7 455.0,135.2 456.0,130.8 457.0,126.1 458.0,121.8 459.0,118.6 460.0,116.6 461.0,116.0 462.0,116.4 463.0,117.5 464.0,119.0 465.0,120.7 466.0,122.3 467.0,124.0 468.0,125.8 469.0,127.7 470.0,129.6 471.0,131.6 472.0,133.5 473.0,135.4 474.0,137.3 475.0,139.2 476.0,141.1 477.0,142.7 478.0,143.3 479.0,142.6 480.0,140.1 481.0,135.9 482.0,130.5 483.0,125.3 484.0,121.6 485.0,120.9 486.0,123.7 487.0,129.6 488.0,137.3 489.0,145.3 490.0,151.9 491.0,156.4 492.0,158.4 493.0,158.1 494.0,155.7 495.0,151.5 496.0,146.3 497.0,140.7 498.0,135.9 499.0,132.6 500.0,131.5 501.0,132.7 502.0,135.7 503.0,140.1 504.0,144.9 505.0,149.2 506.0,152.2 507.0,153.6 508.0,153.4 509.0,151.9 510.0,149.6 511.0,146.8 512.0,143.8 513.0,140.8 514.0,138.3 515.0,136.8 516.0,136.9 517.0,138.7 518.0,142.0 519.0,145.6 520.0,148.5 521.0,149.6" fill="none" stroke="#7c7c7c" stroke-width="0.65" stroke-linejoin="round" />
<polyline points="376.0,141.1 377.0,141.3 378.0,141.9 379.0,142.7 380.0,143.3 381.0,143.5 382.0,143.3 383.0,142.7 384.0,141.9 385.0,141.1 386.0,140.4 387.0,139.9 388.0,139.9 389.0,140.4 390.0,141.4 391.0,142.5 392.0,143.5 393.0,144.1 394.0,144.2 395.0,144.1 396.0,144.0 397.0,144.1 398.0,144.6 399.0,145.4 400.0,146.4 401.0,147.3 402.0,147.9 403.0,148.1 404.0,148.0 405.0,147.7 406.0,147.5 407.0,147.4 408.0,147.3 409.0,147.2 410.0,146.9 411.0,146.4 412.0,145.8 413.0,145.3 414.0,145.0 415.0,144.9 416.0,145.2 417.0,145.3 418.0,145.0 419.0,144.1 420.0,142.7 421.0,142.2 422.0,141.1 423.0,140.7 424.0,132.7 425.0,116.9 426.0,101.2 427.0,85.2 428.0,86.8 429.0,89.2 430.0,92.7 431.0,96.4 432.0,98.7 433.0,99.9 434.0,99.6 435.0,99.8 436.0,102.0 437.0,106.2 438.0,111.2 439.0,117.2 440.0,122.9 441.0,127.3 442.0,131.5 443.0,135.3 444.0,136.4 445.0,137.4 446.0,138.5 447.0,140.0 448.0,140.9 449.0,142.1 450.0,143.7 451.0,144.3 452.0,144.8 453.0,145.1 454.0,145.2 455.0,145.2 456.0,145.0 457.0,144.7 458.0,144.3 459.0,144.0 460.0,143.8 461.0,143.7 462.0,143.7 463.0,143.5 464.0,143.2 465.0,142.8 466.0,142.6 467.0,142.9 468.0,143.7 469.0,144.9 470.0,146.0 471.0,146.6 472.0,146.6 473.0,146.3 474.0,145.8 475.0,145.6 476.0,145.5 477.0,145.5 478.0,145.6 479.0,145.7 480.0,146.0 481.0,146.5 482.0,147.1 483.0,147.9 484.0,148.4 485.0,148.7 486.0,148.7 487.0,148.5 488.0,148.2 489.0,148.0 490.0,147.9 491.0,147.0 492.0,145.9 493.0,144.5 494.0,142.9 495.0,141.3 496.0,139.8 497.0,138.3 498.0,136.9 499.0,135.2 500.0,135.0 501.0,134.9 502.0,135.2 503.0,136.1 504.0,137.4 505.0,138.6 506.0,139.4 507.0,139.5 508.0,139.4 509.0,138.9 510.0,138.9 511.0,139.6 512.0,140.7 513.0,141.9 514.0,142.8 515.0,143.4 516.0,143.6 517.0,143.8 518.0,143.9 519.0,144.0 520.0,144.1 521.0,144.2" fill="none" stroke="#c13a3d" stroke-width="1.5" stroke-linejoin="round" />
<text x="529.3" y="11.6" font-size="14" font-weight="bold" fill="#111">C</text>
<rect x="590.7" y="12.2" width="2" height="128.5" fill="#000"/>
<rect x="590.7" y="138.75" width="159" height="2" fill="#000"/>
<rect x="582.2" y="138.75" width="9" height="2" fill="#000"/>
<text x="580.2" y="144.25" font-size="12.6" text-anchor="end" fill="#111">0</text>
<rect x="582.2" y="113.44" width="9" height="2" fill="#000"/>
<text x="580.2" y="118.94" font-size="12.6" text-anchor="end" fill="#111">2</text>
<rect x="582.2" y="88.13" width="9" height="2" fill="#000"/>
<text x="580.2" y="93.63" font-size="12.6" text-anchor="end" fill="#111">4</text>
<rect x="582.2" y="62.82" width="9" height="2" fill="#000"/>
<text x="580.2" y="68.32" font-size="12.6" text-anchor="end" fill="#111">6</text>
<rect x="582.2" y="37.51" width="9" height="2" fill="#000"/>
<text x="580.2" y="43.01" font-size="12.6" text-anchor="end" fill="#111">8</text>
<rect x="582.2" y="12.20" width="9" height="2" fill="#000"/>
<text x="580.2" y="17.70" font-size="12.6" text-anchor="end" fill="#111">10</text>
<rect x="615" y="110.6" width="44" height="28.9" fill="#000"/>
<rect x="625.2" y="109.4" width="23.4" height="1.2" fill="#000"/>
<rect x="684" y="44.5" width="41.5" height="95" fill="#a2a1a6" stroke="#000" stroke-width="3"/>
<line x1="704.8" y1="39.6" x2="704.8" y2="43.0" stroke="#000" stroke-width="1.2"/>
<line x1="693.2" y1="39.6" x2="716.4" y2="39.6" stroke="#000" stroke-width="1.2"/>
<rect x="635.9" y="139" width="2" height="6.4" fill="#000"/>
<rect x="703.5" y="139" width="2" height="6.4" fill="#000"/>
<text transform="translate(639.5,157.6) rotate(-45)" font-size="12.6" text-anchor="middle" fill="#111">40</text>
<text transform="translate(707,157.6) rotate(-45)" font-size="12.6" text-anchor="middle" fill="#111">80</text>
<text x="654.2" y="174.4" font-size="12.8" text-anchor="middle" fill="#111">light intensity [mW]</text>
<text transform="translate(568.2,87.5) rotate(-90)" font-size="12.8" text-anchor="middle" fill="#111">% dF/F0</text>
<rect x="634.4" y="24.6" width="62" height="1.5" fill="#000"/>
<path d="M653.40,20.80L653.40,17.20M653.40,20.80L656.82,19.69M653.40,20.80L655.52,23.71M653.40,20.80L651.28,23.71M653.40,20.80L649.98,19.69" stroke="#000" stroke-width="1.45" stroke-linecap="butt"/>
<path d="M662.25,20.80L662.25,17.20M662.25,20.80L665.67,19.69M662.25,20.80L664.37,23.71M662.25,20.80L660.13,23.71M662.25,20.80L658.83,19.69" stroke="#000" stroke-width="1.45" stroke-linecap="butt"/>
<path d="M671.10,20.80L671.10,17.20M671.10,20.80L674.52,19.69M671.10,20.80L673.22,23.71M671.10,20.80L668.98,23.71M671.10,20.80L667.68,19.69" stroke="#000" stroke-width="1.45" stroke-linecap="butt"/>
<path d="M679.90,20.80L679.90,17.20M679.90,20.80L683.32,19.69M679.90,20.80L682.02,23.71M679.90,20.80L677.78,23.71M679.90,20.80L676.48,19.69" stroke="#000" stroke-width="1.45" stroke-linecap="butt"/>
<text x="2" y="215" font-size="14" font-weight="bold" fill="#111">D</text>
<text x="13.4" y="229.1" font-size="12.9" fill="#111">80 mW</text>
<rect x="50.0" y="233.6" width="6" height="6" fill="#b61f24"/>
<rect x="229.5" y="233.6" width="6" height="6" fill="#b61f24"/>
<rect x="408.6" y="233.6" width="6" height="6" fill="#b61f24"/>
<rect x="79.6" y="244" width="2.6" height="20" fill="#000"/>
<rect x="88.4" y="266.8" width="30.2" height="2.8" fill="#000"/>
<text x="84.2" y="259.3" font-size="12.9" fill="#111">5% dF/F0</text>
<text x="94.1" y="281.5" font-size="12.9" fill="#111">1 s</text>
<text x="90.1" y="397.1" font-size="12.9" text-anchor="middle" fill="#111">1020 nm</text>
<text x="268.2" y="397.1" font-size="12.9" text-anchor="middle" fill="#111">1060 nm</text>
<text x="446.5" y="397.1" font-size="12.9" text-anchor="middle" fill="#111">1100 nm</text>
<polyline points="5.4,343.9 6.6,326.4 7.8,317.9 9.0,317.4 10.2,314.9 11.4,324.1 12.6,335.3 13.8,333.2 15.0,332.6 16.2,308.6 17.4,310.2 18.6,342.3 19.8,338.2 21.0,350.1 22.2,339.6 23.4,317.1 24.6,339.6 25.8,333.7 27.0,328.7 28.2,318.2 29.4,326.1 30.6,325.4 31.8,335.8 33.0,328.9 34.2,342.6 35.4,319.5 36.6,331.3 37.8,331.5 39.0,317.3 40.2,314.4 41.4,336.7 42.6,332.3 43.8,325.3 45.0,330.2 46.2,319.8 47.4,328.4 48.6,320.5 49.8,328.7 51.0,336.7 52.2,323.9 53.4,334.3 54.6,316.1 55.8,322.5 57.0,312.2 58.2,324.9 59.4,327.2 60.6,324.4 61.8,324.3 63.0,340.9 64.2,341.3 65.4,315.1 66.6,337.3 67.8,308.9 69.0,318.1 70.2,324.5 71.4,327.1 72.6,315.4 73.8,318.6 75.0,326.7 76.2,319.1 77.4,319.9 78.6,333.6 79.8,336.4 81.0,326.3 82.2,326.7 83.4,326.1 84.6,321.6 85.8,320.6 87.0,315.9 88.2,332.7 89.4,325.9 90.6,325.2 91.8,328.8 93.0,332.8 94.2,341.3 95.4,324.2 96.6,322.4 97.8,328.0 99.0,318.5 100.2,339.7 101.4,337.0 102.6,334.1 103.8,325.9 105.0,334.6 106.2,338.0 107.4,332.1 108.6,323.1 109.8,309.4 111.0,335.4 112.2,322.9 113.4,318.1 114.6,335.5 115.8,329.8 117.0,312.0 118.2,324.7 119.4,324.2 120.6,335.8 121.8,307.2 123.0,321.6 124.2,325.6 125.4,340.6 126.6,314.6 127.8,295.0 129.0,311.0 130.2,329.0 131.4,335.8 132.6,345.0 133.8,331.1 135.0,318.8 136.2,335.3 137.4,326.7 138.6,324.5 139.8,327.2 141.0,339.3 142.2,317.3 143.4,315.5 144.6,325.3 145.8,325.4 147.0,317.7 148.2,317.2 149.4,330.6 150.6,340.9 151.8,334.8 153.0,334.5 154.2,338.8 155.4,305.8 156.6,309.7 157.8,318.0 159.0,313.4 160.2,315.8 161.4,326.2 162.6,313.1 163.8,320.4 165.0,304.8 166.2,314.6" fill="none" stroke="#9a9a9a" stroke-width="0.55" stroke-linejoin="round" opacity="0.8"/>
<polyline points="5.4,342.6 6.6,329.4 7.8,341.4 9.0,337.9 10.2,342.8 11.4,326.6 12.6,316.4 13.8,321.3 15.0,327.7 16.2,340.7 17.4,332.2 18.6,329.6 19.8,332.8 21.0,347.4 22.2,329.1 23.4,351.8 24.6,320.4 25.8,327.3 27.0,344.9 28.2,340.8 29.4,324.6 30.6,332.5 31.8,326.5 33.0,344.8 34.2,341.2 35.4,326.5 36.6,338.8 37.8,330.4 39.0,333.6 40.2,335.1 41.4,328.1 42.6,339.7 43.8,340.6 45.0,340.6 46.2,348.0 47.4,331.2 48.6,316.4 49.8,328.1 51.0,336.8 52.2,335.3 53.4,242.0 54.6,344.6 55.8,333.6 57.0,332.7 58.2,323.2 59.4,346.4 60.6,331.4 61.8,320.9 63.0,320.4 64.2,329.9 65.4,353.5 66.6,343.8 67.8,314.6 69.0,332.4 70.2,338.1 71.4,342.5 72.6,338.7 73.8,327.3 75.0,338.9 76.2,327.0 77.4,307.0 78.6,324.6 79.8,326.5 81.0,346.3 82.2,347.3 83.4,322.7 84.6,336.2 85.8,335.0 87.0,316.3 88.2,309.1 89.4,332.5 90.6,335.9 91.8,326.1 93.0,301.7 94.2,332.5 95.4,327.2 96.6,323.5 97.8,329.7 99.0,321.2 100.2,340.8 101.4,334.7 102.6,328.1 103.8,337.7 105.0,333.6 106.2,316.3 107.4,331.8 108.6,328.1 109.8,313.1 111.0,326.1 112.2,339.1 113.4,328.1 114.6,352.1 115.8,355.6 117.0,332.1 118.2,342.2 119.4,358.7 120.6,331.2 121.8,323.4 123.0,328.3 124.2,317.2 125.4,317.8 126.6,336.2 127.8,329.9 129.0,337.6 130.2,340.2 131.4,325.6 132.6,331.7 133.8,330.9 135.0,326.0 136.2,324.4 137.4,337.9 138.6,333.3 139.8,339.1 141.0,347.4 142.2,346.7 143.4,321.3 144.6,323.6 145.8,331.2 147.0,336.5 148.2,345.5 149.4,323.3 150.6,329.0 151.8,338.0 153.0,350.2 154.2,351.3 155.4,323.2 156.6,331.1 157.8,325.3 159.0,344.6 160.2,340.2 161.4,330.2 162.6,327.2 163.8,338.4 165.0,346.1 166.2,326.4" fill="none" stroke="#d4d4d4" stroke-width="0.55" stroke-linejoin="round" opacity="0.8"/>
<polyline points="5.4,311.3 6.6,314.6 7.8,300.3 9.0,322.2 10.2,332.1 11.4,301.2 12.6,315.1 13.8,330.9 15.0,320.1 16.2,303.1 17.4,332.5 18.6,308.6 19.8,335.2 21.0,316.4 22.2,314.6 23.4,322.0 24.6,322.1 25.8,328.4 27.0,327.4 28.2,321.4 29.4,335.8 30.6,330.1 31.8,325.2 33.0,323.5 34.2,321.1 35.4,321.5 36.6,329.0 37.8,327.2 39.0,323.1 40.2,332.3 41.4,320.0 42.6,326.8 43.8,330.5 45.0,310.9 46.2,319.6 47.4,338.6 48.6,313.5 49.8,332.9 51.0,311.9 52.2,325.2 53.4,308.3 54.6,315.1 55.8,317.7 57.0,316.7 58.2,332.5 59.4,331.4 60.6,331.4 61.8,325.2 63.0,339.3 64.2,333.5 65.4,325.4 66.6,311.8 67.8,328.9 69.0,329.1 70.2,323.6 71.4,329.7 72.6,330.1 73.8,319.6 75.0,327.9 76.2,326.0 77.4,325.3 78.6,318.5 79.8,317.2 81.0,323.7 82.2,337.8 83.4,346.3 84.6,318.8 85.8,310.9 87.0,317.7 88.2,313.2 89.4,317.6 90.6,325.5 91.8,313.2 93.0,328.2 94.2,331.1 95.4,338.7 96.6,341.8 97.8,334.1 99.0,345.5 100.2,318.1 101.4,324.7 102.6,324.1 103.8,327.1 105.0,332.6 106.2,320.0 107.4,340.0 108.6,336.0 109.8,326.5 111.0,326.6 112.2,311.3 113.4,296.3 114.6,320.3 115.8,325.4 117.0,324.1 118.2,310.8 119.4,317.8 120.6,340.2 121.8,330.7 123.0,328.6 124.2,319.6 125.4,330.1 126.6,336.0 127.8,330.3 129.0,318.5 130.2,324.5 131.4,313.2 132.6,319.0 133.8,327.8 135.0,316.9 136.2,320.2 137.4,336.6 138.6,321.5 139.8,329.8 141.0,319.0 142.2,310.5 143.4,321.6 144.6,317.7 145.8,301.1 147.0,308.9 148.2,318.1 149.4,336.8 150.6,317.0 151.8,321.9 153.0,328.7 154.2,325.3 155.4,319.7 156.6,339.9 157.8,335.5 159.0,298.5 160.2,331.1 161.4,328.6 162.6,332.4 163.8,323.9 165.0,331.5 166.2,342.5" fill="none" stroke="#8a8a8a" stroke-width="0.55" stroke-linejoin="round" opacity="0.8"/>
<polyline points="5.4,350.8 6.6,349.9 7.8,326.5 9.0,365.9 10.2,342.8 11.4,342.7 12.6,340.4 13.8,343.2 15.0,312.9 16.2,339.5 17.4,322.6 18.6,324.8 19.8,314.3 21.0,316.8 22.2,344.5 23.4,332.8 24.6,336.9 25.8,335.7 27.0,323.8 28.2,328.5 29.4,322.5 30.6,332.8 31.8,310.8 33.0,332.9 34.2,350.0 35.4,354.3 36.6,353.3 37.8,344.5 39.0,326.8 40.2,349.2 41.4,345.4 42.6,341.2 43.8,323.8 45.0,343.2 46.2,356.3 47.4,348.1 48.6,336.2 49.8,344.9 51.0,338.8 52.2,341.0 53.4,263.5 54.6,343.0 55.8,339.6 57.0,342.6 58.2,327.9 59.4,325.9 60.6,343.4 61.8,331.6 63.0,343.9 64.2,316.7 65.4,352.0 66.6,338.6 67.8,357.4 69.0,307.9 70.2,317.1 71.4,354.7 72.6,341.2 73.8,342.2 75.0,340.1 76.2,340.7 77.4,344.5 78.6,326.2 79.8,336.5 81.0,354.3 82.2,341.0 83.4,330.9 84.6,339.8 85.8,351.1 87.0,336.4 88.2,336.4 89.4,344.8 90.6,349.9 91.8,356.9 93.0,337.8 94.2,343.2 95.4,350.4 96.6,315.7 97.8,339.4 99.0,344.1 100.2,337.2 101.4,328.3 102.6,345.9 103.8,354.0 105.0,337.8 106.2,332.4 107.4,336.4 108.6,358.2 109.8,354.7 111.0,339.2 112.2,324.4 113.4,322.3 114.6,333.8 115.8,334.7 117.0,341.1 118.2,324.8 119.4,336.8 120.6,344.2 121.8,319.4 123.0,366.2 124.2,347.2 125.4,344.7 126.6,322.4 127.8,325.9 129.0,351.1 130.2,348.8 131.4,309.9 132.6,352.0 133.8,348.6 135.0,346.2 136.2,325.6 137.4,341.0 138.6,331.7 139.8,346.4 141.0,362.1 142.2,348.2 143.4,351.5 144.6,335.0 145.8,326.1 147.0,339.0 148.2,352.4 149.4,357.5 150.6,339.1 151.8,341.8 153.0,333.2 154.2,317.6 155.4,339.2 156.6,343.0 157.8,333.9 159.0,335.6 160.2,316.7 161.4,339.4 162.6,356.0 163.8,339.7 165.0,346.5 166.2,345.0" fill="none" stroke="#c8c8c8" stroke-width="0.55" stroke-linejoin="round" opacity="0.8"/>
<polyline points="5.4,320.9 6.6,311.6 7.8,308.9 9.0,330.8 10.2,325.2 11.4,322.7 12.6,310.0 13.8,315.1 15.0,311.3 16.2,327.6 17.4,317.2 18.6,334.2 19.8,324.4 21.0,318.3 22.2,329.1 23.4,304.8 24.6,313.1 25.8,317.2 27.0,328.1 28.2,328.4 29.4,322.4 30.6,306.9 31.8,315.2 33.0,312.2 34.2,328.7 35.4,317.4 36.6,324.8 37.8,333.9 39.0,320.3 40.2,325.0 41.4,317.5 42.6,320.3 43.8,320.4 45.0,320.2 46.2,320.4 47.4,317.8 48.6,333.5 49.8,315.9 51.0,321.6 52.2,317.2 53.4,303.4 54.6,326.5 55.8,321.6 57.0,309.7 58.2,313.7 59.4,308.0 60.6,322.1 61.8,332.0 63.0,329.1 64.2,310.3 65.4,307.0 66.6,323.9 67.8,332.6 69.0,321.2 70.2,327.3 71.4,310.0 72.6,318.8 73.8,323.0 75.0,317.0 76.2,318.3 77.4,324.7 78.6,315.2 79.8,312.6 81.0,325.2 82.2,321.6 83.4,312.8 84.6,322.6 85.8,316.1 87.0,324.4 88.2,319.9 89.4,317.5 90.6,314.1 91.8,321.1 93.0,320.2 94.2,333.8 95.4,319.7 96.6,310.6 97.8,334.0 99.0,306.0 100.2,331.1 101.4,314.5 102.6,329.7 103.8,319.1 105.0,323.8 106.2,320.2 107.4,319.2 108.6,323.4 109.8,315.4 111.0,322.8 112.2,311.7 113.4,313.9 114.6,315.8 115.8,319.3 117.0,328.5 118.2,313.7 119.4,312.8 120.6,311.1 121.8,316.6 123.0,323.5 124.2,314.3 125.4,317.2 126.6,315.3 127.8,319.5 129.0,305.1 130.2,323.8 131.4,326.5 132.6,313.8 133.8,318.7 135.0,313.3 136.2,327.0 137.4,325.7 138.6,341.3 139.8,318.9 141.0,313.1 142.2,315.5 143.4,310.4 144.6,321.0 145.8,322.4 147.0,326.8 148.2,322.9 149.4,317.3 150.6,329.4 151.8,324.8 153.0,325.8 154.2,311.2 155.4,313.1 156.6,314.7 157.8,316.1 159.0,304.0 160.2,328.0 161.4,319.0 162.6,326.3 163.8,326.4 165.0,331.4 166.2,325.1" fill="none" stroke="#8a8a8a" stroke-width="0.55" stroke-linejoin="round" opacity="0.8"/>
<polyline points="5.4,354.5 6.6,312.9 7.8,324.8 9.0,338.4 10.2,354.3 11.4,321.4 12.6,328.4 13.8,338.0 15.0,373.2 16.2,325.4 17.4,332.7 18.6,343.6 19.8,326.6 21.0,339.5 22.2,340.0 23.4,330.8 24.6,340.0 25.8,356.8 27.0,337.2 28.2,329.3 29.4,325.5 30.6,338.1 31.8,348.2 33.0,337.6 34.2,340.5 35.4,368.1 36.6,326.4 37.8,321.3 39.0,337.8 40.2,332.8 41.4,342.8 42.6,351.1 43.8,340.2 45.0,333.1 46.2,341.8 47.4,341.4 48.6,333.9 49.8,328.2 51.0,343.0 52.2,332.3 53.4,318.4 54.6,342.7 55.8,328.6 57.0,328.4 58.2,342.5 59.4,325.5 60.6,331.8 61.8,321.7 63.0,315.5 64.2,338.6 65.4,354.1 66.6,325.5 67.8,349.6 69.0,349.8 70.2,353.8 71.4,322.0 72.6,327.0 73.8,355.2 75.0,335.2 76.2,335.2 77.4,344.2 78.6,342.7 79.8,328.4 81.0,332.4 82.2,343.1 83.4,338.4 84.6,326.8 85.8,351.2 87.0,346.3 88.2,331.3 89.4,328.6 90.6,345.1 91.8,305.5 93.0,334.9 94.2,327.4 95.4,326.9 96.6,346.1 97.8,341.2 99.0,373.6 100.2,334.5 101.4,339.0 102.6,318.6 103.8,346.9 105.0,328.6 106.2,338.6 107.4,352.4 108.6,351.3 109.8,343.0 111.0,351.5 112.2,330.1 113.4,322.8 114.6,316.2 115.8,342.7 117.0,360.2 118.2,332.5 119.4,335.3 120.6,331.8 121.8,340.4 123.0,313.4 124.2,345.8 125.4,349.1 126.6,327.0 127.8,322.0 129.0,324.2 130.2,342.7 131.4,353.3 132.6,322.9 133.8,315.6 135.0,336.0 136.2,339.2 137.4,344.0 138.6,327.5 139.8,344.7 141.0,348.6 142.2,315.2 143.4,331.0 144.6,343.2 145.8,344.9 147.0,327.6 148.2,310.1 149.4,323.5 150.6,316.5 151.8,328.3 153.0,347.3 154.2,327.7 155.4,335.0 156.6,320.3 157.8,345.6 159.0,327.0 160.2,322.5 161.4,357.9 162.6,340.5 163.8,342.5 165.0,311.0 166.2,350.5" fill="none" stroke="#d4d4d4" stroke-width="0.55" stroke-linejoin="round" opacity="0.8"/>
<polyline points="5.4,332.2 6.6,305.9 7.8,325.8 9.0,343.8 10.2,325.5 11.4,343.4 12.6,323.2 13.8,319.3 15.0,331.8 16.2,321.8 17.4,323.0 18.6,317.2 19.8,308.8 21.0,318.6 22.2,330.1 23.4,334.0 24.6,322.0 25.8,324.9 27.0,312.2 28.2,319.7 29.4,320.3 30.6,320.6 31.8,322.9 33.0,326.5 34.2,335.8 35.4,331.2 36.6,327.5 37.8,308.9 39.0,312.9 40.2,322.3 41.4,323.6 42.6,329.2 43.8,303.7 45.0,323.3 46.2,323.5 47.4,318.3 48.6,313.7 49.8,324.2 51.0,320.8 52.2,326.2 53.4,300.5 54.6,312.3 55.8,338.3 57.0,325.0 58.2,313.9 59.4,317.9 60.6,308.9 61.8,337.6 63.0,338.7 64.2,333.0 65.4,335.8 66.6,328.5 67.8,337.0 69.0,330.4 70.2,337.8 71.4,322.8 72.6,321.2 73.8,316.2 75.0,316.4 76.2,306.0 77.4,336.6 78.6,338.4 79.8,331.4 81.0,333.6 82.2,325.6 83.4,327.2 84.6,308.3 85.8,320.2 87.0,302.8 88.2,314.3 89.4,319.0 90.6,318.5 91.8,311.6 93.0,336.2 94.2,333.4 95.4,316.7 96.6,308.9 97.8,317.1 99.0,331.3 100.2,302.9 101.4,330.1 102.6,321.2 103.8,318.6 105.0,333.1 106.2,322.9 107.4,319.2 108.6,334.7 109.8,306.8 111.0,338.5 112.2,313.8 113.4,313.9 114.6,340.5 115.8,359.2 117.0,336.7 118.2,313.1 119.4,298.9 120.6,324.0 121.8,322.3 123.0,316.2 124.2,320.5 125.4,315.6 126.6,331.1 127.8,321.8 129.0,319.2 130.2,299.0 131.4,323.4 132.6,307.4 133.8,329.6 135.0,321.4 136.2,300.6 137.4,317.3 138.6,309.8 139.8,327.9 141.0,327.9 142.2,333.4 143.4,314.8 144.6,326.6 145.8,308.0 147.0,325.0 148.2,320.1 149.4,324.7 150.6,322.7 151.8,333.0 153.0,319.0 154.2,320.8 155.4,337.0 156.6,321.9 157.8,316.1 159.0,312.4 160.2,321.9 161.4,322.1 162.6,329.0 163.8,321.0 165.0,329.3 166.2,320.0" fill="none" stroke="#8a8a8a" stroke-width="0.55" stroke-linejoin="round" opacity="0.8"/>
<polyline points="5.4,341.0 6.6,351.6 7.8,346.4 9.0,321.5 10.2,355.6 11.4,335.7 12.6,353.4 13.8,309.3 15.0,309.5 16.2,307.4 17.4,311.4 18.6,333.4 19.8,339.2 21.0,325.2 22.2,334.1 23.4,330.3 24.6,351.9 25.8,352.2 27.0,346.1 28.2,351.9 29.4,367.8 30.6,350.6 31.8,317.3 33.0,336.0 34.2,336.3 35.4,353.2 36.6,349.0 37.8,353.0 39.0,318.1 40.2,360.8 41.4,339.7 42.6,355.5 43.8,347.9 45.0,326.5 46.2,327.5 47.4,349.8 48.6,357.7 49.8,326.2 51.0,320.6 52.2,307.0 53.4,323.5 54.6,327.7 55.8,335.3 57.0,348.7 58.2,332.0 59.4,322.0 60.6,333.1 61.8,338.4 63.0,342.0 64.2,341.7 65.4,337.4 66.6,347.8 67.8,334.8 69.0,323.2 70.2,337.4 71.4,367.5 72.6,329.9 73.8,376.4 75.0,333.9 76.2,349.2 77.4,315.2 78.6,337.9 79.8,360.9 81.0,322.0 82.2,327.8 83.4,344.2 84.6,344.2 85.8,316.2 87.0,319.4 88.2,343.4 89.4,344.8 90.6,351.0 91.8,338.0 93.0,349.9 94.2,357.8 95.4,322.4 96.6,354.9 97.8,352.8 99.0,359.6 100.2,334.6 101.4,338.9 102.6,340.5 103.8,333.0 105.0,355.0 106.2,343.2 107.4,324.7 108.6,342.3 109.8,322.5 111.0,314.3 112.2,322.7 113.4,339.4 114.6,341.4 115.8,338.5 117.0,349.2 118.2,368.7 119.4,324.0 120.6,345.6 121.8,343.4 123.0,321.3 124.2,331.3 125.4,342.5 126.6,339.7 127.8,327.5 129.0,351.0 130.2,344.3 131.4,350.6 132.6,363.5 133.8,322.1 135.0,354.2 136.2,347.0 137.4,326.7 138.6,337.9 139.8,332.5 141.0,322.1 142.2,350.6 143.4,327.1 144.6,308.8 145.8,350.4 147.0,333.0 148.2,345.1 149.4,342.8 150.6,334.8 151.8,331.9 153.0,300.6 154.2,330.9 155.4,322.4 156.6,346.0 157.8,327.6 159.0,329.2 160.2,339.9 161.4,321.7 162.6,327.7 163.8,332.0 165.0,344.4 166.2,318.1" fill="none" stroke="#bcbcbc" stroke-width="0.55" stroke-linejoin="round" opacity="0.8"/>
<polyline points="5.4,327.5 6.6,327.7 7.8,314.7 9.0,328.6 10.2,321.4 11.4,328.4 12.6,314.2 13.8,319.1 15.0,319.4 16.2,312.4 17.4,317.6 18.6,326.3 19.8,327.9 21.0,325.0 22.2,322.3 23.4,318.4 24.6,332.8 25.8,312.3 27.0,312.4 28.2,315.4 29.4,321.2 30.6,317.9 31.8,324.7 33.0,311.1 34.2,325.7 35.4,331.9 36.6,326.3 37.8,318.7 39.0,316.9 40.2,326.6 41.4,309.9 42.6,314.5 43.8,309.7 45.0,319.6 46.2,331.7 47.4,318.5 48.6,326.7 49.8,313.8 51.0,316.5 52.2,317.0 53.4,326.2 54.6,315.0 55.8,316.0 57.0,320.7 58.2,330.1 59.4,321.7 60.6,331.6 61.8,323.3 63.0,319.3 64.2,327.3 65.4,316.9 66.6,314.6 67.8,320.4 69.0,310.5 70.2,312.4 71.4,315.1 72.6,320.7 73.8,327.2 75.0,327.8 76.2,319.6 77.4,321.7 78.6,318.2 79.8,311.6 81.0,322.4 82.2,316.2 83.4,324.7 84.6,317.0 85.8,314.1 87.0,322.1 88.2,316.7 89.4,312.4 90.6,326.6 91.8,322.8 93.0,322.5 94.2,320.8 95.4,316.2 96.6,302.6 97.8,316.0 99.0,317.6 100.2,322.5 101.4,312.5 102.6,323.0 103.8,321.1 105.0,329.4 106.2,316.3 107.4,320.4 108.6,322.1 109.8,324.5 111.0,328.8 112.2,323.4 113.4,312.3 114.6,329.8 115.8,308.7 117.0,324.3 118.2,328.7 119.4,316.6 120.6,320.0 121.8,319.7 123.0,313.6 124.2,322.2 125.4,314.7 126.6,322.4 127.8,324.7 129.0,327.9 130.2,329.4 131.4,323.7 132.6,323.6 133.8,319.3 135.0,320.3 136.2,326.3 137.4,325.8 138.6,323.7 139.8,320.9 141.0,326.7 142.2,313.7 143.4,317.0 144.6,322.1 145.8,327.3 147.0,312.9 148.2,313.2 149.4,312.9 150.6,325.0 151.8,326.2 153.0,331.0 154.2,334.8 155.4,313.6 156.6,318.9 157.8,316.8 159.0,313.6 160.2,320.4 161.4,317.2 162.6,321.2 163.8,318.0 165.0,311.6 166.2,323.4" fill="none" stroke="#8a8a8a" stroke-width="0.55" stroke-linejoin="round" opacity="0.8"/>
<polyline points="5.4,290.7 6.6,303.4 7.8,326.9 9.0,331.4 10.2,323.8 11.4,321.9 12.6,289.6 13.8,325.3 15.0,313.5 16.2,317.8 17.4,308.5 18.6,296.2 19.8,331.3 21.0,327.0 22.2,307.7 23.4,301.2 24.6,313.7 25.8,333.5 27.0,329.9 28.2,323.8 29.4,334.4 30.6,326.6 31.8,310.4 33.0,330.1 34.2,321.3 35.4,312.0 36.6,336.8 37.8,327.6 39.0,304.1 40.2,331.5 41.4,325.0 42.6,317.4 43.8,315.4 45.0,307.8 46.2,302.8 47.4,325.3 48.6,328.3 49.8,318.3 51.0,325.1 52.2,317.3 53.4,317.7 54.6,328.9 55.8,329.7 57.0,340.7 58.2,317.2 59.4,326.4 60.6,320.4 61.8,325.7 63.0,338.9 64.2,327.7 65.4,312.1 66.6,315.5 67.8,314.2 69.0,318.1 70.2,313.2 71.4,315.4 72.6,319.9 73.8,325.9 75.0,311.5 76.2,322.7 77.4,323.3 78.6,333.3 79.8,326.3 81.0,329.2 82.2,326.7 83.4,337.0 84.6,320.4 85.8,303.1 87.0,325.3 88.2,308.5 89.4,293.3 90.6,326.9 91.8,321.9 93.0,324.8 94.2,327.9 95.4,320.6 96.6,335.7 97.8,323.2 99.0,318.1 100.2,321.0 101.4,296.1 102.6,326.4 103.8,303.6 105.0,326.0 106.2,320.4 107.4,322.3 108.6,312.5 109.8,341.6 111.0,296.7 112.2,318.5 113.4,309.4 114.6,301.8 115.8,339.3 117.0,326.4 118.2,353.3 119.4,333.4 120.6,329.0 121.8,328.6 123.0,305.1 124.2,305.2 125.4,339.9 126.6,332.7 127.8,313.1 129.0,323.1 130.2,324.9 131.4,337.9 132.6,326.8 133.8,314.0 135.0,331.8 136.2,316.2 137.4,328.9 138.6,313.4 139.8,282.9 141.0,340.6 142.2,311.9 143.4,334.9 144.6,330.7 145.8,315.4 147.0,308.4 148.2,346.4 149.4,327.3 150.6,339.2 151.8,328.1 153.0,335.0 154.2,325.4 155.4,306.0 156.6,312.3 157.8,326.5 159.0,307.6 160.2,317.6 161.4,321.8 162.6,337.7 163.8,342.8 165.0,297.6 166.2,325.8" fill="none" stroke="#d4d4d4" stroke-width="0.55" stroke-linejoin="round" opacity="0.8"/>
<polyline points="5.4,320.1 6.6,315.0 7.8,320.8 9.0,324.8 10.2,320.3 11.4,322.3 12.6,321.2 13.8,322.5 15.0,321.3 16.2,322.7 17.4,318.8 18.6,327.9 19.8,317.5 21.0,315.1 22.2,308.1 23.4,313.5 24.6,320.5 25.8,318.5 27.0,323.8 28.2,310.7 29.4,313.7 30.6,304.1 31.8,317.2 33.0,327.1 34.2,323.4 35.4,316.8 36.6,323.2 37.8,321.5 39.0,312.4 40.2,311.1 41.4,312.2 42.6,322.8 43.8,324.2 45.0,322.7 46.2,318.2 47.4,333.9 48.6,318.7 49.8,323.2 51.0,321.4 52.2,327.0 53.4,307.1 54.6,322.8 55.8,318.2 57.0,318.4 58.2,311.2 59.4,313.9 60.6,328.8 61.8,326.1 63.0,308.9 64.2,320.7 65.4,316.2 66.6,327.7 67.8,323.6 69.0,325.5 70.2,319.3 71.4,319.6 72.6,314.0 73.8,307.5 75.0,315.0 76.2,329.1 77.4,329.9 78.6,312.9 79.8,312.3 81.0,313.1 82.2,312.7 83.4,309.8 84.6,313.8 85.8,324.3 87.0,325.6 88.2,332.4 89.4,317.8 90.6,302.4 91.8,313.7 93.0,310.6 94.2,315.8 95.4,313.6 96.6,325.9 97.8,312.9 99.0,319.3 100.2,332.8 101.4,318.9 102.6,306.5 103.8,325.4 105.0,323.0 106.2,323.5 107.4,324.1 108.6,311.6 109.8,311.1 111.0,319.2 112.2,305.7 113.4,312.3 114.6,327.1 115.8,309.7 117.0,321.5 118.2,327.1 119.4,318.7 120.6,315.9 121.8,328.3 123.0,309.4 124.2,330.9 125.4,312.6 126.6,318.5 127.8,310.1 129.0,310.6 130.2,326.1 131.4,320.0 132.6,322.5 133.8,309.0 135.0,315.3 136.2,309.3 137.4,318.4 138.6,322.6 139.8,323.1 141.0,322.8 142.2,314.2 143.4,322.9 144.6,316.2 145.8,329.1 147.0,318.4 148.2,327.9 149.4,316.8 150.6,323.9 151.8,320.4 153.0,307.9 154.2,323.2 155.4,311.5 156.6,304.9 157.8,319.8 159.0,327.9 160.2,324.7 161.4,312.1 162.6,304.6 163.8,297.5 165.0,312.8 166.2,314.4" fill="none" stroke="#8a8a8a" stroke-width="0.55" stroke-linejoin="round" opacity="0.8"/>
<polyline points="5.4,318.6 6.6,318.3 7.8,320.2 9.0,324.0 10.2,335.0 11.4,328.4 12.6,330.9 13.8,333.0 15.0,334.6 16.2,339.8 17.4,344.8 18.6,321.1 19.8,328.0 21.0,330.3 22.2,330.5 23.4,341.4 24.6,340.1 25.8,326.0 27.0,350.6 28.2,339.0 29.4,339.7 30.6,326.0 31.8,340.4 33.0,328.3 34.2,321.2 35.4,332.4 36.6,320.1 37.8,319.5 39.0,336.9 40.2,340.8 41.4,325.2 42.6,343.0 43.8,346.2 45.0,345.7 46.2,336.3 47.4,329.6 48.6,349.1 49.8,328.8 51.0,337.8 52.2,345.9 53.4,352.1 54.6,336.6 55.8,335.7 57.0,338.5 58.2,335.7 59.4,345.6 60.6,345.9 61.8,352.4 63.0,333.2 64.2,340.5 65.4,324.8 66.6,328.4 67.8,348.3 69.0,329.4 70.2,311.0 71.4,325.4 72.6,325.6 73.8,312.0 75.0,334.4 76.2,341.9 77.4,327.7 78.6,342.3 79.8,310.3 81.0,340.0 82.2,333.9 83.4,357.9 84.6,334.0 85.8,332.3 87.0,332.1 88.2,328.5 89.4,328.5 90.6,340.3 91.8,336.2 93.0,336.3 94.2,335.6 95.4,326.1 96.6,353.0 97.8,322.8 99.0,342.5 100.2,331.8 101.4,344.1 102.6,331.2 103.8,345.1 105.0,339.4 106.2,347.1 107.4,355.7 108.6,336.3 109.8,333.5 111.0,306.2 112.2,332.4 113.4,342.8 114.6,330.6 115.8,333.4 117.0,330.2 118.2,311.8 119.4,341.2 120.6,324.7 121.8,318.0 123.0,343.4 124.2,338.1 125.4,339.5 126.6,334.4 127.8,326.2 129.0,342.2 130.2,324.0 131.4,334.9 132.6,321.5 133.8,320.7 135.0,341.2 136.2,325.6 137.4,349.8 138.6,320.0 139.8,344.1 141.0,330.7 142.2,341.9 143.4,340.4 144.6,313.6 145.8,338.8 147.0,329.5 148.2,323.1 149.4,344.4 150.6,337.9 151.8,338.6 153.0,349.4 154.2,345.1 155.4,334.3 156.6,325.0 157.8,348.7 159.0,325.9 160.2,316.1 161.4,354.7 162.6,356.4 163.8,316.4 165.0,335.9 166.2,317.9" fill="none" stroke="#bcbcbc" stroke-width="0.55" stroke-linejoin="round" opacity="0.8"/>
<polyline points="5.4,313.3 6.6,321.5 7.8,315.1 9.0,331.2 10.2,327.1 11.4,315.7 12.6,304.1 13.8,320.8 15.0,313.1 16.2,327.7 17.4,330.5 18.6,320.0 19.8,325.1 21.0,310.4 22.2,323.3 23.4,330.4 24.6,310.2 25.8,323.9 27.0,321.3 28.2,325.2 29.4,319.7 30.6,318.8 31.8,327.3 33.0,319.7 34.2,321.8 35.4,309.6 36.6,321.4 37.8,323.8 39.0,318.1 40.2,317.9 41.4,304.6 42.6,310.9 43.8,316.5 45.0,317.2 46.2,334.2 47.4,324.6 48.6,311.4 49.8,334.0 51.0,309.4 52.2,310.0 53.4,312.1 54.6,318.9 55.8,336.8 57.0,317.9 58.2,322.1 59.4,308.6 60.6,316.0 61.8,337.1 63.0,329.1 64.2,326.2 65.4,330.1 66.6,323.5 67.8,322.5 69.0,311.0 70.2,307.7 71.4,313.6 72.6,316.1 73.8,313.3 75.0,324.3 76.2,332.1 77.4,318.9 78.6,307.4 79.8,310.0 81.0,326.2 82.2,325.0 83.4,321.0 84.6,323.9 85.8,327.2 87.0,319.7 88.2,321.0 89.4,316.0 90.6,304.8 91.8,319.0 93.0,318.8 94.2,321.5 95.4,315.2 96.6,321.7 97.8,321.6 99.0,315.6 100.2,311.3 101.4,313.6 102.6,321.3 103.8,325.7 105.0,332.0 106.2,318.8 107.4,322.7 108.6,327.2 109.8,312.2 111.0,322.8 112.2,315.6 113.4,316.2 114.6,324.1 115.8,317.4 117.0,320.8 118.2,310.9 119.4,317.7 120.6,312.4 121.8,317.2 123.0,339.2 124.2,319.8 125.4,317.1 126.6,315.6 127.8,313.7 129.0,331.4 130.2,315.1 131.4,335.8 132.6,318.4 133.8,327.7 135.0,319.9 136.2,314.2 137.4,317.7 138.6,328.3 139.8,317.4 141.0,305.3 142.2,331.7 143.4,314.2 144.6,316.7 145.8,328.9 147.0,306.8 148.2,314.8 149.4,323.5 150.6,323.8 151.8,322.9 153.0,312.3 154.2,325.2 155.4,315.9 156.6,319.7 157.8,312.6 159.0,331.1 160.2,316.6 161.4,318.0 162.6,314.9 163.8,321.1 165.0,309.1 166.2,317.3" fill="none" stroke="#9a9a9a" stroke-width="0.55" stroke-linejoin="round" opacity="0.8"/>
<polyline points="5.4,330.4 6.6,334.8 7.8,346.3 9.0,358.1 10.2,339.4 11.4,340.1 12.6,352.9 13.8,334.7 15.0,337.8 16.2,325.7 17.4,330.3 18.6,324.5 19.8,359.7 21.0,344.1 22.2,341.3 23.4,321.0 24.6,333.4 25.8,324.1 27.0,323.2 28.2,315.5 29.4,325.5 30.6,364.5 31.8,327.2 33.0,341.4 34.2,345.2 35.4,339.5 36.6,341.9 37.8,321.9 39.0,352.5 40.2,359.6 41.4,334.1 42.6,323.8 43.8,321.5 45.0,316.3 46.2,340.1 47.4,344.4 48.6,353.5 49.8,318.2 51.0,343.0 52.2,341.6 53.4,329.5 54.6,322.0 55.8,337.1 57.0,359.4 58.2,317.8 59.4,324.4 60.6,325.7 61.8,331.2 63.0,345.8 64.2,326.1 65.4,303.6 66.6,315.0 67.8,316.2 69.0,335.1 70.2,333.9 71.4,318.8 72.6,339.7 73.8,310.1 75.0,329.8 76.2,347.5 77.4,314.0 78.6,339.4 79.8,345.1 81.0,327.3 82.2,333.2 83.4,314.2 84.6,335.0 85.8,317.3 87.0,324.9 88.2,336.9 89.4,327.1 90.6,318.4 91.8,330.9 93.0,328.3 94.2,320.9 95.4,307.0 96.6,328.9 97.8,342.4 99.0,324.5 100.2,324.4 101.4,325.9 102.6,335.8 103.8,313.8 105.0,341.5 106.2,357.8 107.4,338.8 108.6,333.1 109.8,337.6 111.0,337.9 112.2,327.9 113.4,330.0 114.6,329.6 115.8,339.3 117.0,355.4 118.2,335.7 119.4,356.5 120.6,322.8 121.8,340.3 123.0,323.7 124.2,333.1 125.4,329.9 126.6,308.5 127.8,328.2 129.0,337.0 130.2,335.2 131.4,313.3 132.6,313.9 133.8,338.2 135.0,321.0 136.2,356.8 137.4,337.1 138.6,336.2 139.8,329.6 141.0,322.5 142.2,334.9 143.4,330.3 144.6,350.5 145.8,335.0 147.0,335.8 148.2,345.9 149.4,343.7 150.6,308.8 151.8,354.4 153.0,313.9 154.2,318.6 155.4,327.5 156.6,323.1 157.8,354.1 159.0,332.9 160.2,318.0 161.4,326.4 162.6,321.8 163.8,323.5 165.0,336.9 166.2,339.2" fill="none" stroke="#bcbcbc" stroke-width="0.55" stroke-linejoin="round" opacity="0.8"/>
<polyline points="5.4,325.1 6.6,318.2 7.8,326.5 9.0,303.8 10.2,313.6 11.4,320.7 12.6,323.8 13.8,330.2 15.0,321.9 16.2,323.4 17.4,321.7 18.6,311.0 19.8,319.1 21.0,333.6 22.2,327.5 23.4,318.1 24.6,321.3 25.8,336.7 27.0,336.3 28.2,338.6 29.4,333.0 30.6,319.9 31.8,318.3 33.0,306.7 34.2,332.1 35.4,333.2 36.6,341.0 37.8,315.4 39.0,336.2 40.2,326.6 41.4,322.5 42.6,323.0 43.8,310.8 45.0,319.5 46.2,311.9 47.4,316.4 48.6,322.6 49.8,317.2 51.0,327.0 52.2,314.9 53.4,315.7 54.6,315.8 55.8,322.8 57.0,323.9 58.2,330.1 59.4,318.5 60.6,315.2 61.8,324.3 63.0,337.8 64.2,329.2 65.4,304.9 66.6,321.4 67.8,317.8 69.0,319.8 70.2,328.8 71.4,322.2 72.6,319.9 73.8,307.0 75.0,319.6 76.2,314.8 77.4,323.8 78.6,330.8 79.8,313.9 81.0,319.3 82.2,326.2 83.4,306.8 84.6,313.9 85.8,307.9 87.0,315.2 88.2,320.1 89.4,318.8 90.6,334.3 91.8,329.0 93.0,323.8 94.2,332.3 95.4,338.9 96.6,318.8 97.8,319.9 99.0,324.8 100.2,330.3 101.4,303.8 102.6,321.2 103.8,345.6 105.0,323.7 106.2,339.9 107.4,344.9 108.6,330.5 109.8,342.7 111.0,322.4 112.2,305.8 113.4,317.3 114.6,335.9 115.8,346.8 117.0,327.6 118.2,307.4 119.4,320.4 120.6,303.8 121.8,322.5 123.0,336.2 124.2,313.8 125.4,313.3 126.6,317.1 127.8,318.7 129.0,327.2 130.2,325.5 131.4,328.4 132.6,313.5 133.8,332.6 135.0,327.9 136.2,313.9 137.4,316.4 138.6,315.1 139.8,306.7 141.0,339.0 142.2,328.3 143.4,323.1 144.6,332.3 145.8,320.8 147.0,320.9 148.2,333.3 149.4,312.7 150.6,312.8 151.8,305.8 153.0,315.2 154.2,330.7 155.4,318.0 156.6,335.2 157.8,317.6 159.0,323.0 160.2,312.2 161.4,328.6 162.6,340.2 163.8,319.1 165.0,306.9 166.2,319.4" fill="none" stroke="#9a9a9a" stroke-width="0.55" stroke-linejoin="round" opacity="0.8"/>
<polyline points="5.4,327.9 6.6,353.8 7.8,366.5 9.0,351.4 10.2,364.3 11.4,353.0 12.6,339.6 13.8,339.6 15.0,370.2 16.2,321.4 17.4,347.2 18.6,333.7 19.8,338.9 21.0,356.5 22.2,332.3 23.4,323.0 24.6,362.0 25.8,363.9 27.0,345.7 28.2,331.4 29.4,330.1 30.6,349.0 31.8,351.4 33.0,352.3 34.2,354.4 35.4,345.2 36.6,353.2 37.8,344.6 39.0,349.6 40.2,341.6 41.4,347.9 42.6,331.1 43.8,339.9 45.0,328.1 46.2,351.3 47.4,335.7 48.6,333.7 49.8,334.0 51.0,330.9 52.2,330.1 53.4,352.1 54.6,352.2 55.8,356.8 57.0,336.1 58.2,346.1 59.4,316.8 60.6,354.8 61.8,330.8 63.0,361.8 64.2,356.1 65.4,374.7 66.6,352.3 67.8,336.5 69.0,375.7 70.2,364.9 71.4,362.7 72.6,370.6 73.8,343.7 75.0,311.2 76.2,339.8 77.4,336.7 78.6,353.2 79.8,339.8 81.0,352.1 82.2,333.6 83.4,360.7 84.6,354.0 85.8,335.9 87.0,364.9 88.2,368.0 89.4,354.1 90.6,337.1 91.8,349.7 93.0,346.3 94.2,338.6 95.4,343.4 96.6,341.8 97.8,324.6 99.0,342.4 100.2,329.3 101.4,343.4 102.6,342.2 103.8,356.2 105.0,338.2 106.2,345.4 107.4,324.5 108.6,361.6 109.8,376.1 111.0,344.6 112.2,352.4 113.4,354.7 114.6,343.3 115.8,357.1 117.0,337.6 118.2,342.7 119.4,343.2 120.6,335.1 121.8,325.0 123.0,358.2 124.2,346.4 125.4,333.2 126.6,327.6 127.8,341.2 129.0,330.7 130.2,351.4 131.4,345.6 132.6,351.1 133.8,359.7 135.0,348.3 136.2,354.0 137.4,361.9 138.6,351.1 139.8,313.2 141.0,360.1 142.2,349.3 143.4,353.8 144.6,367.1 145.8,343.0 147.0,350.0 148.2,315.8 149.4,364.6 150.6,344.4 151.8,340.8 153.0,341.1 154.2,351.6 155.4,319.8 156.6,370.1 157.8,347.3 159.0,344.0 160.2,365.0 161.4,358.3 162.6,351.9 163.8,332.6 165.0,359.9 166.2,349.7" fill="none" stroke="#bcbcbc" stroke-width="0.55" stroke-linejoin="round" opacity="0.8"/>
<polyline points="5.4,329.4 6.6,320.1 7.8,329.9 9.0,326.1 10.2,326.8 11.4,316.5 12.6,324.1 13.8,328.1 15.0,326.1 16.2,321.1 17.4,325.9 18.6,321.2 19.8,323.5 21.0,332.8 22.2,336.6 23.4,337.1 24.6,328.2 25.8,319.6 27.0,321.8 28.2,331.6 29.4,325.4 30.6,334.7 31.8,321.9 33.0,329.6 34.2,314.4 35.4,321.1 36.6,327.4 37.8,326.8 39.0,324.6 40.2,315.6 41.4,323.9 42.6,321.2 43.8,318.8 45.0,324.7 46.2,317.4 47.4,319.3 48.6,339.2 49.8,327.2 51.0,332.4 52.2,320.1 53.4,319.5 54.6,313.4 55.8,313.1 57.0,314.0 58.2,326.2 59.4,316.5 60.6,316.6 61.8,318.9 63.0,328.2 64.2,320.9 65.4,327.2 66.6,316.2 67.8,327.2 69.0,323.5 70.2,327.2 71.4,315.2 72.6,321.8 73.8,322.9 75.0,318.4 76.2,327.2 77.4,324.0 78.6,326.9 79.8,319.2 81.0,324.1 82.2,313.4 83.4,327.3 84.6,313.5 85.8,317.9 87.0,323.7 88.2,327.1 89.4,323.5 90.6,308.2 91.8,313.1 93.0,316.6 94.2,321.4 95.4,312.8 96.6,316.5 97.8,325.3 99.0,323.7 100.2,326.5 101.4,325.1 102.6,312.0 103.8,314.8 105.0,322.8 106.2,324.8 107.4,318.8 108.6,328.8 109.8,317.5 111.0,318.3 112.2,322.2 113.4,324.0 114.6,318.0 115.8,321.2 117.0,315.1 118.2,317.2 119.4,332.7 120.6,315.1 121.8,332.7 123.0,319.0 124.2,331.0 125.4,319.1 126.6,314.6 127.8,321.4 129.0,322.3 130.2,323.8 131.4,314.8 132.6,311.3 133.8,320.1 135.0,318.7 136.2,316.6 137.4,321.9 138.6,332.5 139.8,331.9 141.0,325.6 142.2,333.0 143.4,337.7 144.6,333.5 145.8,310.6 147.0,317.0 148.2,325.1 149.4,329.6 150.6,314.9 151.8,338.3 153.0,318.6 154.2,315.1 155.4,307.9 156.6,329.3 157.8,330.9 159.0,330.1 160.2,325.2 161.4,325.8 162.6,324.6 163.8,336.5 165.0,329.4 166.2,331.4" fill="none" stroke="#a8a8a8" stroke-width="0.55" stroke-linejoin="round" opacity="0.8"/>
<polyline points="5.4,345.4 6.6,344.3 7.8,338.5 9.0,341.7 10.2,335.1 11.4,344.3 12.6,323.3 13.8,339.0 15.0,332.6 16.2,330.3 17.4,336.4 18.6,336.9 19.8,338.4 21.0,354.5 22.2,327.4 23.4,329.2 24.6,338.7 25.8,339.0 27.0,343.1 28.2,348.2 29.4,342.3 30.6,331.6 31.8,361.2 33.0,341.8 34.2,339.4 35.4,339.3 36.6,330.4 37.8,331.2 39.0,338.9 40.2,341.7 41.4,343.7 42.6,329.4 43.8,344.8 45.0,329.1 46.2,349.9 47.4,363.7 48.6,327.8 49.8,343.6 51.0,349.0 52.2,335.3 53.4,352.2 54.6,324.5 55.8,332.3 57.0,344.9 58.2,354.0 59.4,334.0 60.6,324.7 61.8,344.2 63.0,355.5 64.2,344.5 65.4,331.1 66.6,325.9 67.8,365.6 69.0,341.5 70.2,321.6 71.4,320.8 72.6,351.1 73.8,352.4 75.0,338.4 76.2,334.6 77.4,346.7 78.6,347.9 79.8,341.2 81.0,326.6 82.2,342.5 83.4,362.9 84.6,329.0 85.8,330.5 87.0,330.3 88.2,331.1 89.4,354.3 90.6,346.5 91.8,328.5 93.0,326.8 94.2,337.2 95.4,331.8 96.6,342.1 97.8,340.5 99.0,324.3 100.2,356.8 101.4,332.3 102.6,353.0 103.8,341.0 105.0,335.0 106.2,317.0 107.4,331.8 108.6,350.1 109.8,347.3 111.0,329.2 112.2,312.2 113.4,339.6 114.6,325.8 115.8,335.4 117.0,328.3 118.2,350.7 119.4,333.5 120.6,339.6 121.8,336.7 123.0,332.4 124.2,346.0 125.4,342.9 126.6,342.0 127.8,335.2 129.0,343.0 130.2,328.1 131.4,340.9 132.6,335.1 133.8,307.8 135.0,323.3 136.2,334.9 137.4,360.3 138.6,352.2 139.8,333.8 141.0,349.5 142.2,330.1 143.4,349.8 144.6,335.2 145.8,328.9 147.0,322.2 148.2,336.6 149.4,348.3 150.6,340.0 151.8,371.9 153.0,334.3 154.2,350.8 155.4,348.7 156.6,340.3 157.8,336.3 159.0,332.1 160.2,346.1 161.4,347.0 162.6,336.6 163.8,330.8 165.0,325.4 166.2,336.5" fill="none" stroke="#bcbcbc" stroke-width="0.55" stroke-linejoin="round" opacity="0.8"/>
<polyline points="5.4,326.7 6.8,331.2 8.2,326.4 9.6,327.1 11.0,329.4 12.4,328.7 13.8,327.5 15.2,328.7 16.6,327.7 18.0,328.0 19.4,326.5 20.8,328.8 22.2,328.3 23.6,328.1 25.0,328.6 26.4,328.1 27.8,327.3 29.2,328.0 30.6,327.0 32.0,324.0 33.4,326.5 34.8,327.3 36.2,327.9 37.6,328.5 39.0,330.1 40.4,334.6 41.8,330.5 43.2,327.5 44.6,332.6 46.0,324.3 47.4,326.0 48.8,330.6 50.2,327.6 51.6,313.6 53.0,296.0 54.4,315.2 55.8,327.4 57.2,327.9 58.6,325.6 60.0,328.5 61.4,329.4 62.8,329.4 64.2,328.2 65.6,327.0 67.0,327.4 68.4,326.6 69.8,325.6 71.2,328.7 72.6,326.8 74.0,331.5 75.4,328.4 76.8,330.2 78.2,325.4 79.6,327.7 81.0,329.4 82.4,329.3 83.8,328.6 85.2,328.8 86.6,326.7 88.0,326.5 89.4,327.1 90.8,325.6 92.2,329.6 93.6,330.4 95.0,326.3 96.4,327.6 97.8,330.6 99.2,328.4 100.6,328.8 102.0,328.1 103.4,327.6 104.8,328.9 106.2,325.6 107.6,326.0 109.0,328.2 110.4,328.4 111.8,327.1 113.2,328.5 114.6,330.1 116.0,327.2 117.4,330.2 118.8,330.2 120.2,323.1 121.6,326.9 123.0,329.2 124.4,327.8 125.8,328.0 127.2,329.4 128.6,329.3 130.0,326.8 131.4,323.8 132.8,328.9 134.2,329.6 135.6,328.7 137.0,328.6 138.4,329.2 139.8,328.7 141.2,326.9 142.6,328.4 144.0,325.8 145.4,326.9 146.8,328.1 148.2,329.8 149.6,331.2 151.0,329.1 152.4,331.3 153.8,327.9 155.2,327.7 156.6,330.1 158.0,327.7 159.4,327.3 160.8,326.1 162.2,327.9 163.6,327.5 165.0,325.8 166.4,325.8" fill="none" stroke="#c0262b" stroke-width="2.7" stroke-linejoin="round" stroke-linecap="butt"/>
<polyline points="186.0,314.7 187.2,328.5 188.4,307.2 189.6,325.4 190.8,328.1 192.0,315.9 193.2,313.2 194.4,322.1 195.6,328.4 196.8,335.3 198.0,326.3 199.2,330.5 200.4,315.2 201.6,311.1 202.8,304.8 204.0,309.0 205.2,315.3 206.4,319.3 207.6,308.9 208.8,324.0 210.0,317.7 211.2,313.3 212.4,313.1 213.6,333.4 214.8,320.0 216.0,311.4 217.2,311.5 218.4,331.7 219.6,315.0 220.8,327.6 222.0,328.7 223.2,301.9 224.4,327.7 225.6,316.9 226.8,310.0 228.0,314.1 229.2,322.5 230.4,321.5 231.6,321.5 232.8,313.5 234.0,328.2 235.2,330.7 236.4,333.0 237.6,327.1 238.8,333.6 240.0,335.0 241.2,324.7 242.4,325.4 243.6,323.2 244.8,323.0 246.0,324.5 247.2,305.7 248.4,315.6 249.6,321.2 250.8,302.3 252.0,307.4 253.2,329.5 254.4,310.8 255.6,314.7 256.8,320.9 258.0,314.7 259.2,311.6 260.4,314.1 261.6,314.8 262.8,314.0 264.0,320.1 265.2,330.7 266.4,322.1 267.6,330.9 268.8,324.8 270.0,325.1 271.2,323.0 272.4,316.5 273.6,321.6 274.8,320.4 276.0,310.4 277.2,323.8 278.4,323.1 279.6,321.2 280.8,313.4 282.0,298.9 283.2,328.5 284.4,317.6 285.6,302.2 286.8,322.3 288.0,313.6 289.2,323.3 290.4,318.2 291.6,326.9 292.8,320.6 294.0,320.6 295.2,320.0 296.4,327.3 297.6,309.5 298.8,327.0 300.0,323.8 301.2,314.5 302.4,318.0 303.6,315.1 304.8,319.0 306.0,325.2 307.2,313.8 308.4,324.1 309.6,325.9 310.8,324.0 312.0,330.3 313.2,318.6 314.4,324.4 315.6,337.2 316.8,319.4 318.0,317.4 319.2,318.6 320.4,322.6 321.6,313.9 322.8,315.8 324.0,304.8 325.2,309.6 326.4,310.0 327.6,309.2 328.8,314.9 330.0,323.3 331.2,315.3 332.4,308.4 333.6,319.8 334.8,319.3 336.0,308.0 337.2,318.7 338.4,310.2 339.6,313.0 340.8,312.9 342.0,324.0 343.2,312.3 344.4,315.8 345.6,320.0 346.8,326.6 348.0,327.9" fill="none" stroke="#a8a8a8" stroke-width="0.55" stroke-linejoin="round" opacity="0.8"/>
<polyline points="186.0,351.8 187.2,349.1 188.4,327.9 189.6,334.5 190.8,330.8 192.0,340.3 193.2,357.0 194.4,335.8 195.6,327.1 196.8,367.7 198.0,322.6 199.2,333.9 200.4,333.5 201.6,317.8 202.8,345.0 204.0,349.2 205.2,334.0 206.4,335.1 207.6,331.3 208.8,310.8 210.0,336.0 211.2,317.3 212.4,321.1 213.6,339.8 214.8,346.7 216.0,324.0 217.2,350.4 218.4,359.1 219.6,337.8 220.8,333.7 222.0,337.0 223.2,328.7 224.4,323.2 225.6,343.1 226.8,344.3 228.0,328.0 229.2,328.4 230.4,325.5 231.6,324.2 232.8,310.0 234.0,314.2 235.2,345.6 236.4,330.4 237.6,336.3 238.8,358.4 240.0,329.4 241.2,341.2 242.4,316.3 243.6,325.7 244.8,343.3 246.0,330.5 247.2,314.2 248.4,313.2 249.6,337.5 250.8,322.5 252.0,343.1 253.2,338.3 254.4,330.2 255.6,333.7 256.8,344.4 258.0,334.7 259.2,321.9 260.4,338.0 261.6,329.7 262.8,331.4 264.0,342.0 265.2,339.7 266.4,348.0 267.6,332.2 268.8,328.0 270.0,329.8 271.2,338.7 272.4,323.7 273.6,328.6 274.8,322.5 276.0,323.5 277.2,333.0 278.4,366.1 279.6,330.9 280.8,337.7 282.0,335.7 283.2,332.2 284.4,335.9 285.6,360.2 286.8,333.1 288.0,355.8 289.2,343.4 290.4,323.0 291.6,325.1 292.8,327.4 294.0,320.5 295.2,349.2 296.4,340.9 297.6,341.1 298.8,321.5 300.0,339.7 301.2,329.1 302.4,366.1 303.6,334.8 304.8,338.4 306.0,339.8 307.2,328.3 308.4,328.8 309.6,329.6 310.8,345.0 312.0,325.3 313.2,332.1 314.4,338.5 315.6,328.5 316.8,315.6 318.0,317.8 319.2,327.8 320.4,322.1 321.6,346.5 322.8,335.2 324.0,333.5 325.2,321.5 326.4,340.5 327.6,329.5 328.8,321.3 330.0,326.8 331.2,364.9 332.4,327.3 333.6,323.3 334.8,349.4 336.0,344.5 337.2,331.8 338.4,351.4 339.6,315.7 340.8,326.3 342.0,313.4 343.2,351.3 344.4,337.1 345.6,368.4 346.8,342.0 348.0,341.0" fill="none" stroke="#bcbcbc" stroke-width="0.55" stroke-linejoin="round" opacity="0.8"/>
<polyline points="186.0,307.3 187.2,295.7 188.4,328.0 189.6,329.2 190.8,311.1 192.0,324.4 193.2,331.9 194.4,331.5 195.6,304.3 196.8,319.3 198.0,312.2 199.2,329.1 200.4,320.4 201.6,307.3 202.8,320.3 204.0,324.9 205.2,303.2 206.4,304.5 207.6,311.6 208.8,315.6 210.0,312.5 211.2,299.5 212.4,302.3 213.6,318.3 214.8,323.0 216.0,310.3 217.2,321.3 218.4,338.5 219.6,317.7 220.8,314.4 222.0,312.1 223.2,324.0 224.4,322.1 225.6,322.0 226.8,316.0 228.0,323.8 229.2,324.0 230.4,318.9 231.6,330.8 232.8,304.6 234.0,326.3 235.2,319.2 236.4,329.3 237.6,339.8 238.8,321.2 240.0,318.0 241.2,320.3 242.4,335.0 243.6,336.6 244.8,322.8 246.0,327.7 247.2,339.2 248.4,325.9 249.6,304.7 250.8,311.0 252.0,315.2 253.2,324.0 254.4,315.4 255.6,334.3 256.8,316.9 258.0,336.2 259.2,315.1 260.4,334.2 261.6,323.8 262.8,336.3 264.0,342.3 265.2,340.2 266.4,332.0 267.6,313.2 268.8,310.7 270.0,288.3 271.2,335.3 272.4,335.2 273.6,331.6 274.8,311.0 276.0,348.8 277.2,315.7 278.4,329.0 279.6,304.4 280.8,314.6 282.0,334.1 283.2,331.9 284.4,310.4 285.6,320.3 286.8,332.0 288.0,302.9 289.2,327.6 290.4,305.7 291.6,326.9 292.8,319.2 294.0,331.0 295.2,316.0 296.4,316.9 297.6,316.6 298.8,310.6 300.0,317.0 301.2,309.7 302.4,314.6 303.6,327.3 304.8,318.0 306.0,331.9 307.2,328.8 308.4,329.0 309.6,309.2 310.8,325.0 312.0,336.2 313.2,331.2 314.4,334.5 315.6,336.3 316.8,305.7 318.0,326.1 319.2,326.5 320.4,318.2 321.6,306.9 322.8,321.4 324.0,319.8 325.2,341.5 326.4,334.9 327.6,316.4 328.8,309.0 330.0,311.2 331.2,319.3 332.4,313.9 333.6,340.3 334.8,309.0 336.0,319.2 337.2,322.3 338.4,324.6 339.6,311.0 340.8,318.0 342.0,322.6 343.2,323.9 344.4,314.6 345.6,317.4 346.8,323.8 348.0,340.9" fill="none" stroke="#8a8a8a" stroke-width="0.55" stroke-linejoin="round" opacity="0.8"/>
<polyline points="186.0,326.1 187.2,358.9 188.4,359.3 189.6,343.6 190.8,354.0 192.0,359.9 193.2,340.8 194.4,343.9 195.6,328.7 196.8,333.0 198.0,342.4 199.2,341.8 200.4,361.3 201.6,339.6 202.8,327.9 204.0,352.6 205.2,353.9 206.4,347.3 207.6,340.3 208.8,332.2 210.0,334.8 211.2,360.6 212.4,352.4 213.6,344.1 214.8,347.1 216.0,337.8 217.2,330.6 218.4,336.0 219.6,340.4 220.8,321.5 222.0,322.9 223.2,320.1 224.4,335.9 225.6,348.2 226.8,325.3 228.0,326.3 229.2,321.3 230.4,334.3 231.6,326.2 232.8,314.5 234.0,328.6 235.2,367.6 236.4,340.8 237.6,332.9 238.8,335.7 240.0,351.8 241.2,353.3 242.4,343.7 243.6,318.0 244.8,352.4 246.0,354.8 247.2,351.2 248.4,347.2 249.6,342.9 250.8,355.4 252.0,338.6 253.2,353.3 254.4,335.7 255.6,336.0 256.8,335.3 258.0,333.9 259.2,335.4 260.4,350.8 261.6,359.9 262.8,332.9 264.0,328.9 265.2,355.4 266.4,337.9 267.6,344.3 268.8,343.6 270.0,351.6 271.2,331.6 272.4,354.8 273.6,350.1 274.8,315.0 276.0,337.8 277.2,336.6 278.4,345.4 279.6,340.1 280.8,331.8 282.0,336.6 283.2,345.0 284.4,341.6 285.6,340.3 286.8,367.9 288.0,348.0 289.2,327.9 290.4,342.0 291.6,344.5 292.8,329.3 294.0,341.4 295.2,329.8 296.4,314.0 297.6,344.3 298.8,349.1 300.0,348.7 301.2,339.3 302.4,333.9 303.6,343.8 304.8,346.8 306.0,353.0 307.2,358.0 308.4,351.2 309.6,334.5 310.8,339.4 312.0,324.6 313.2,349.3 314.4,349.1 315.6,356.0 316.8,348.5 318.0,359.9 319.2,333.8 320.4,344.7 321.6,338.3 322.8,337.5 324.0,319.4 325.2,330.2 326.4,316.7 327.6,335.7 328.8,332.5 330.0,341.2 331.2,318.8 332.4,333.5 333.6,336.3 334.8,313.8 336.0,359.3 337.2,346.8 338.4,332.7 339.6,363.5 340.8,356.4 342.0,311.4 343.2,335.3 344.4,332.9 345.6,340.2 346.8,328.9 348.0,336.3" fill="none" stroke="#c8c8c8" stroke-width="0.55" stroke-linejoin="round" opacity="0.8"/>
<polyline points="186.0,324.0 187.2,334.0 188.4,338.3 189.6,325.6 190.8,326.1 192.0,326.0 193.2,318.9 194.4,344.7 195.6,327.7 196.8,328.3 198.0,332.6 199.2,336.8 200.4,308.8 201.6,311.4 202.8,323.4 204.0,326.9 205.2,309.7 206.4,308.3 207.6,329.6 208.8,329.6 210.0,319.4 211.2,318.8 212.4,315.0 213.6,309.6 214.8,312.7 216.0,323.1 217.2,320.5 218.4,330.8 219.6,308.2 220.8,304.4 222.0,326.2 223.2,312.3 224.4,318.0 225.6,321.1 226.8,308.2 228.0,305.7 229.2,322.2 230.4,294.6 231.6,325.6 232.8,304.1 234.0,328.7 235.2,324.8 236.4,323.9 237.6,326.3 238.8,322.3 240.0,308.0 241.2,329.0 242.4,323.1 243.6,325.9 244.8,320.1 246.0,319.1 247.2,330.9 248.4,331.3 249.6,323.6 250.8,309.0 252.0,311.1 253.2,311.4 254.4,332.4 255.6,327.1 256.8,322.5 258.0,320.0 259.2,314.7 260.4,329.2 261.6,311.5 262.8,313.3 264.0,330.3 265.2,328.7 266.4,321.1 267.6,308.9 268.8,309.3 270.0,330.3 271.2,327.0 272.4,337.1 273.6,318.2 274.8,320.9 276.0,313.7 277.2,337.8 278.4,306.6 279.6,328.6 280.8,338.4 282.0,313.0 283.2,307.2 284.4,311.1 285.6,307.9 286.8,325.2 288.0,321.2 289.2,313.1 290.4,319.8 291.6,337.3 292.8,320.4 294.0,319.2 295.2,341.3 296.4,314.1 297.6,318.0 298.8,336.9 300.0,322.5 301.2,302.8 302.4,311.7 303.6,298.9 304.8,314.8 306.0,324.3 307.2,306.4 308.4,337.3 309.6,335.7 310.8,330.3 312.0,315.0 313.2,322.2 314.4,328.0 315.6,332.5 316.8,334.3 318.0,300.5 319.2,313.4 320.4,309.9 321.6,318.2 322.8,325.0 324.0,345.2 325.2,322.4 326.4,331.1 327.6,323.5 328.8,322.4 330.0,339.1 331.2,311.8 332.4,329.2 333.6,344.7 334.8,357.2 336.0,317.9 337.2,311.8 338.4,308.7 339.6,317.3 340.8,321.8 342.0,322.6 343.2,333.2 344.4,319.4 345.6,324.3 346.8,305.1 348.0,313.8" fill="none" stroke="#8a8a8a" stroke-width="0.55" stroke-linejoin="round" opacity="0.8"/>
<polyline points="186.0,344.9 187.2,334.7 188.4,335.9 189.6,332.3 190.8,316.9 192.0,332.5 193.2,325.5 194.4,333.9 195.6,334.0 196.8,333.8 198.0,315.2 199.2,332.4 200.4,357.0 201.6,346.5 202.8,329.9 204.0,323.5 205.2,345.8 206.4,332.4 207.6,308.7 208.8,326.7 210.0,354.2 211.2,311.0 212.4,332.1 213.6,322.5 214.8,331.0 216.0,326.4 217.2,318.9 218.4,297.1 219.6,328.0 220.8,332.6 222.0,329.9 223.2,317.5 224.4,324.6 225.6,361.1 226.8,318.2 228.0,326.4 229.2,315.0 230.4,328.6 231.6,336.1 232.8,348.9 234.0,336.0 235.2,332.7 236.4,337.5 237.6,340.1 238.8,332.2 240.0,332.8 241.2,348.5 242.4,323.4 243.6,330.3 244.8,319.6 246.0,325.7 247.2,351.7 248.4,324.0 249.6,340.1 250.8,361.4 252.0,340.5 253.2,330.0 254.4,320.2 255.6,296.9 256.8,317.3 258.0,319.8 259.2,345.0 260.4,341.4 261.6,315.4 262.8,339.4 264.0,325.0 265.2,357.3 266.4,353.6 267.6,342.0 268.8,328.5 270.0,356.6 271.2,346.2 272.4,349.2 273.6,340.7 274.8,330.4 276.0,343.2 277.2,323.1 278.4,343.7 279.6,335.4 280.8,311.5 282.0,338.9 283.2,332.7 284.4,328.0 285.6,332.4 286.8,343.1 288.0,317.7 289.2,318.5 290.4,342.5 291.6,335.1 292.8,310.0 294.0,332.6 295.2,310.6 296.4,341.5 297.6,337.4 298.8,338.7 300.0,312.0 301.2,321.7 302.4,342.9 303.6,314.5 304.8,338.5 306.0,329.8 307.2,333.7 308.4,321.6 309.6,340.1 310.8,338.5 312.0,345.5 313.2,366.1 314.4,331.1 315.6,332.7 316.8,319.5 318.0,355.3 319.2,329.4 320.4,342.3 321.6,317.8 322.8,329.2 324.0,341.2 325.2,339.6 326.4,330.2 327.6,345.2 328.8,336.0 330.0,347.5 331.2,331.2 332.4,341.8 333.6,328.4 334.8,350.5 336.0,334.5 337.2,334.1 338.4,326.7 339.6,347.1 340.8,336.4 342.0,331.7 343.2,351.0 344.4,324.9 345.6,347.4 346.8,353.5 348.0,312.3" fill="none" stroke="#bcbcbc" stroke-width="0.55" stroke-linejoin="round" opacity="0.8"/>
<polyline points="186.0,310.8 187.2,327.2 188.4,324.5 189.6,307.6 190.8,319.5 192.0,310.4 193.2,322.6 194.4,313.7 195.6,322.6 196.8,307.9 198.0,316.2 199.2,317.9 200.4,320.5 201.6,334.6 202.8,344.0 204.0,308.4 205.2,330.0 206.4,319.8 207.6,319.2 208.8,319.1 210.0,320.7 211.2,321.8 212.4,331.3 213.6,335.8 214.8,326.7 216.0,323.4 217.2,328.5 218.4,327.7 219.6,340.6 220.8,313.3 222.0,308.2 223.2,319.4 224.4,325.3 225.6,320.4 226.8,323.3 228.0,296.2 229.2,313.0 230.4,314.5 231.6,308.0 232.8,313.3 234.0,319.3 235.2,325.0 236.4,311.8 237.6,304.8 238.8,325.6 240.0,340.8 241.2,323.8 242.4,322.2 243.6,311.7 244.8,323.7 246.0,336.3 247.2,303.1 248.4,329.7 249.6,303.2 250.8,335.7 252.0,330.2 253.2,319.0 254.4,325.0 255.6,337.8 256.8,312.4 258.0,333.3 259.2,328.2 260.4,322.8 261.6,335.5 262.8,306.3 264.0,319.6 265.2,310.1 266.4,321.2 267.6,326.6 268.8,306.5 270.0,324.2 271.2,324.7 272.4,316.3 273.6,321.5 274.8,332.9 276.0,326.4 277.2,337.9 278.4,311.9 279.6,309.7 280.8,332.7 282.0,309.9 283.2,333.5 284.4,322.7 285.6,328.6 286.8,319.4 288.0,332.8 289.2,336.3 290.4,334.9 291.6,327.1 292.8,309.9 294.0,331.3 295.2,324.4 296.4,334.8 297.6,308.3 298.8,326.0 300.0,318.3 301.2,322.4 302.4,331.4 303.6,331.6 304.8,337.1 306.0,328.0 307.2,328.3 308.4,325.5 309.6,312.0 310.8,332.4 312.0,314.9 313.2,317.5 314.4,326.4 315.6,316.0 316.8,316.8 318.0,297.6 319.2,312.4 320.4,310.9 321.6,316.0 322.8,327.3 324.0,319.9 325.2,320.9 326.4,323.8 327.6,332.9 328.8,333.7 330.0,327.0 331.2,320.7 332.4,331.0 333.6,320.0 334.8,320.8 336.0,325.3 337.2,317.5 338.4,311.2 339.6,310.0 340.8,319.3 342.0,325.0 343.2,328.8 344.4,315.6 345.6,324.6 346.8,323.1 348.0,318.6" fill="none" stroke="#9a9a9a" stroke-width="0.55" stroke-linejoin="round" opacity="0.8"/>
<polyline points="186.0,333.7 187.2,351.2 188.4,326.8 189.6,347.8 190.8,316.8 192.0,324.1 193.2,327.3 194.4,326.7 195.6,330.9 196.8,329.0 198.0,327.1 199.2,317.2 200.4,337.0 201.6,332.0 202.8,335.1 204.0,347.9 205.2,339.1 206.4,335.8 207.6,350.7 208.8,325.4 210.0,309.5 211.2,322.0 212.4,314.3 213.6,327.3 214.8,328.2 216.0,330.7 217.2,335.8 218.4,340.6 219.6,337.9 220.8,333.7 222.0,327.2 223.2,324.6 224.4,330.7 225.6,327.1 226.8,316.1 228.0,325.3 229.2,340.3 230.4,331.7 231.6,320.0 232.8,333.9 234.0,339.0 235.2,317.9 236.4,353.6 237.6,347.5 238.8,330.4 240.0,346.4 241.2,335.9 242.4,339.5 243.6,319.7 244.8,324.2 246.0,328.0 247.2,329.6 248.4,323.9 249.6,309.2 250.8,315.7 252.0,336.2 253.2,327.1 254.4,354.1 255.6,350.0 256.8,328.9 258.0,332.4 259.2,306.9 260.4,339.8 261.6,345.6 262.8,320.8 264.0,319.7 265.2,323.2 266.4,340.8 267.6,344.5 268.8,318.1 270.0,325.4 271.2,337.7 272.4,333.8 273.6,327.2 274.8,337.0 276.0,318.2 277.2,310.8 278.4,338.5 279.6,341.7 280.8,348.6 282.0,327.1 283.2,319.6 284.4,331.4 285.6,330.0 286.8,331.7 288.0,330.7 289.2,348.8 290.4,336.6 291.6,348.6 292.8,321.8 294.0,317.7 295.2,341.8 296.4,314.7 297.6,314.2 298.8,314.1 300.0,305.9 301.2,336.9 302.4,353.7 303.6,339.7 304.8,341.9 306.0,326.0 307.2,318.0 308.4,336.5 309.6,314.6 310.8,309.0 312.0,318.8 313.2,344.3 314.4,335.9 315.6,326.6 316.8,315.2 318.0,317.1 319.2,334.0 320.4,328.8 321.6,320.3 322.8,344.4 324.0,320.9 325.2,307.8 326.4,326.1 327.6,344.3 328.8,340.3 330.0,342.0 331.2,319.5 332.4,335.1 333.6,331.4 334.8,325.6 336.0,314.7 337.2,345.3 338.4,331.2 339.6,322.5 340.8,340.4 342.0,362.8 343.2,310.7 344.4,332.8 345.6,354.7 346.8,354.2 348.0,317.3" fill="none" stroke="#c8c8c8" stroke-width="0.55" stroke-linejoin="round" opacity="0.8"/>
<polyline points="186.0,311.5 187.2,334.5 188.4,308.5 189.6,302.2 190.8,320.6 192.0,323.5 193.2,324.4 194.4,333.3 195.6,314.9 196.8,320.3 198.0,328.2 199.2,318.5 200.4,336.6 201.6,332.7 202.8,322.8 204.0,320.3 205.2,322.7 206.4,324.7 207.6,301.4 208.8,307.5 210.0,312.9 211.2,312.6 212.4,314.7 213.6,315.3 214.8,322.1 216.0,318.5 217.2,325.1 218.4,325.0 219.6,320.9 220.8,316.7 222.0,313.9 223.2,328.8 224.4,316.9 225.6,323.5 226.8,329.5 228.0,322.7 229.2,304.2 230.4,313.0 231.6,339.9 232.8,304.5 234.0,332.0 235.2,309.5 236.4,321.0 237.6,330.7 238.8,310.5 240.0,328.8 241.2,297.2 242.4,316.8 243.6,313.2 244.8,323.9 246.0,328.3 247.2,332.7 248.4,331.7 249.6,315.3 250.8,310.0 252.0,323.2 253.2,313.0 254.4,296.1 255.6,295.4 256.8,313.5 258.0,314.5 259.2,319.6 260.4,320.2 261.6,302.4 262.8,320.5 264.0,307.1 265.2,322.7 266.4,319.4 267.6,335.2 268.8,323.0 270.0,313.1 271.2,315.9 272.4,319.3 273.6,325.1 274.8,326.7 276.0,309.7 277.2,308.4 278.4,326.4 279.6,320.2 280.8,330.7 282.0,325.8 283.2,337.7 284.4,326.5 285.6,307.1 286.8,315.0 288.0,324.9 289.2,309.1 290.4,319.8 291.6,327.4 292.8,332.2 294.0,328.9 295.2,305.3 296.4,331.2 297.6,311.5 298.8,320.3 300.0,312.2 301.2,329.7 302.4,320.3 303.6,323.2 304.8,325.2 306.0,319.8 307.2,314.7 308.4,335.5 309.6,327.9 310.8,328.4 312.0,302.2 313.2,300.2 314.4,337.5 315.6,328.2 316.8,303.1 318.0,324.3 319.2,321.3 320.4,310.4 321.6,316.6 322.8,339.0 324.0,314.3 325.2,324.9 326.4,311.8 327.6,305.5 328.8,345.2 330.0,328.4 331.2,315.7 332.4,316.4 333.6,317.0 334.8,309.6 336.0,324.7 337.2,326.8 338.4,316.2 339.6,318.9 340.8,306.9 342.0,321.3 343.2,299.9 344.4,318.8 345.6,335.0 346.8,319.1 348.0,347.9" fill="none" stroke="#9a9a9a" stroke-width="0.55" stroke-linejoin="round" opacity="0.8"/>
<polyline points="186.0,343.4 187.2,346.3 188.4,332.3 189.6,311.7 190.8,348.2 192.0,340.0 193.2,340.1 194.4,310.6 195.6,335.4 196.8,328.9 198.0,343.4 199.2,352.5 200.4,320.2 201.6,328.3 202.8,330.0 204.0,320.5 205.2,336.8 206.4,336.4 207.6,318.5 208.8,318.6 210.0,331.8 211.2,307.6 212.4,333.5 213.6,341.7 214.8,340.9 216.0,319.6 217.2,353.6 218.4,357.1 219.6,318.2 220.8,352.6 222.0,348.8 223.2,342.5 224.4,322.3 225.6,342.9 226.8,317.7 228.0,331.8 229.2,342.3 230.4,338.5 231.6,328.8 232.8,336.1 234.0,330.9 235.2,335.3 236.4,322.1 237.6,316.8 238.8,324.0 240.0,317.1 241.2,347.5 242.4,366.3 243.6,343.3 244.8,347.2 246.0,319.8 247.2,329.7 248.4,318.7 249.6,340.2 250.8,333.9 252.0,320.8 253.2,349.9 254.4,333.4 255.6,343.0 256.8,345.2 258.0,351.9 259.2,349.6 260.4,333.6 261.6,329.3 262.8,323.5 264.0,319.5 265.2,353.3 266.4,326.5 267.6,348.6 268.8,321.0 270.0,322.4 271.2,342.8 272.4,328.9 273.6,321.4 274.8,349.7 276.0,314.8 277.2,319.8 278.4,339.1 279.6,349.4 280.8,330.2 282.0,320.5 283.2,357.3 284.4,330.7 285.6,321.8 286.8,331.4 288.0,342.9 289.2,294.2 290.4,315.2 291.6,338.2 292.8,336.7 294.0,330.5 295.2,328.1 296.4,337.5 297.6,343.2 298.8,323.0 300.0,324.5 301.2,338.9 302.4,325.2 303.6,312.9 304.8,326.1 306.0,316.1 307.2,337.4 308.4,340.9 309.6,322.5 310.8,328.4 312.0,335.4 313.2,346.9 314.4,344.2 315.6,335.1 316.8,336.6 318.0,349.0 319.2,340.9 320.4,338.2 321.6,319.0 322.8,334.3 324.0,338.0 325.2,333.1 326.4,318.6 327.6,309.6 328.8,339.5 330.0,340.9 331.2,334.1 332.4,321.3 333.6,326.3 334.8,331.9 336.0,342.0 337.2,333.9 338.4,322.4 339.6,325.4 340.8,318.9 342.0,354.5 343.2,325.8 344.4,350.9 345.6,338.4 346.8,355.7 348.0,321.9" fill="none" stroke="#d4d4d4" stroke-width="0.55" stroke-linejoin="round" opacity="0.8"/>
<polyline points="186.0,308.2 187.2,312.0 188.4,318.5 189.6,334.9 190.8,316.6 192.0,306.9 193.2,325.9 194.4,331.9 195.6,298.3 196.8,322.9 198.0,307.2 199.2,303.4 200.4,325.8 201.6,334.3 202.8,337.3 204.0,321.2 205.2,317.2 206.4,322.2 207.6,326.3 208.8,329.5 210.0,333.6 211.2,325.4 212.4,326.6 213.6,323.1 214.8,314.7 216.0,325.5 217.2,335.0 218.4,327.8 219.6,302.9 220.8,334.0 222.0,315.2 223.2,342.4 224.4,341.8 225.6,329.1 226.8,338.0 228.0,314.5 229.2,318.8 230.4,314.8 231.6,324.0 232.8,321.7 234.0,323.0 235.2,322.5 236.4,334.2 237.6,321.2 238.8,316.7 240.0,321.5 241.2,324.9 242.4,324.1 243.6,310.9 244.8,315.1 246.0,316.6 247.2,310.6 248.4,304.5 249.6,312.3 250.8,295.1 252.0,315.1 253.2,307.3 254.4,315.6 255.6,318.5 256.8,337.3 258.0,339.0 259.2,340.5 260.4,320.9 261.6,315.3 262.8,326.5 264.0,310.2 265.2,317.8 266.4,312.3 267.6,318.9 268.8,325.8 270.0,309.8 271.2,321.3 272.4,321.2 273.6,321.5 274.8,323.6 276.0,315.7 277.2,318.1 278.4,315.2 279.6,305.4 280.8,332.4 282.0,326.4 283.2,325.3 284.4,312.7 285.6,302.9 286.8,320.5 288.0,311.6 289.2,335.9 290.4,335.6 291.6,315.6 292.8,331.5 294.0,326.3 295.2,318.2 296.4,305.2 297.6,324.6 298.8,328.1 300.0,327.9 301.2,315.1 302.4,319.9 303.6,320.4 304.8,320.0 306.0,314.8 307.2,329.9 308.4,325.6 309.6,316.9 310.8,324.3 312.0,329.4 313.2,323.9 314.4,323.6 315.6,327.2 316.8,313.8 318.0,326.0 319.2,314.5 320.4,322.4 321.6,331.5 322.8,317.2 324.0,331.1 325.2,327.5 326.4,332.7 327.6,305.8 328.8,283.8 330.0,311.2 331.2,339.4 332.4,324.3 333.6,318.7 334.8,321.3 336.0,325.1 337.2,320.6 338.4,342.3 339.6,322.6 340.8,308.5 342.0,308.7 343.2,319.5 344.4,321.3 345.6,329.0 346.8,330.5 348.0,331.2" fill="none" stroke="#8a8a8a" stroke-width="0.55" stroke-linejoin="round" opacity="0.8"/>
<polyline points="186.0,333.3 187.2,318.7 188.4,350.4 189.6,352.2 190.8,337.2 192.0,320.0 193.2,346.2 194.4,336.0 195.6,314.1 196.8,340.6 198.0,344.7 199.2,338.1 200.4,308.2 201.6,340.9 202.8,345.0 204.0,324.8 205.2,346.5 206.4,339.9 207.6,344.2 208.8,308.4 210.0,326.9 211.2,337.1 212.4,311.4 213.6,333.2 214.8,354.1 216.0,312.1 217.2,350.3 218.4,344.0 219.6,319.2 220.8,319.2 222.0,318.9 223.2,333.6 224.4,299.7 225.6,338.0 226.8,310.3 228.0,324.8 229.2,325.2 230.4,340.5 231.6,317.1 232.8,319.4 234.0,347.6 235.2,354.1 236.4,330.7 237.6,325.8 238.8,333.9 240.0,331.6 241.2,329.9 242.4,315.2 243.6,299.2 244.8,332.0 246.0,330.2 247.2,346.4 248.4,347.1 249.6,353.1 250.8,324.5 252.0,338.9 253.2,313.3 254.4,332.9 255.6,336.5 256.8,319.9 258.0,329.3 259.2,363.0 260.4,320.1 261.6,343.4 262.8,325.8 264.0,340.4 265.2,293.7 266.4,309.7 267.6,326.4 268.8,352.4 270.0,327.6 271.2,312.0 272.4,323.1 273.6,339.1 274.8,308.5 276.0,329.2 277.2,326.5 278.4,324.0 279.6,334.5 280.8,319.8 282.0,337.6 283.2,339.9 284.4,354.5 285.6,335.7 286.8,328.7 288.0,314.4 289.2,321.3 290.4,312.7 291.6,347.2 292.8,299.3 294.0,335.2 295.2,337.6 296.4,339.7 297.6,326.2 298.8,360.8 300.0,326.5 301.2,307.9 302.4,319.9 303.6,320.6 304.8,348.1 306.0,330.2 307.2,317.2 308.4,317.1 309.6,327.6 310.8,324.0 312.0,329.6 313.2,343.8 314.4,311.8 315.6,320.9 316.8,332.9 318.0,310.9 319.2,340.0 320.4,351.0 321.6,334.8 322.8,343.2 324.0,327.9 325.2,332.6 326.4,336.4 327.6,333.1 328.8,349.5 330.0,327.8 331.2,345.0 332.4,328.6 333.6,355.6 334.8,353.5 336.0,338.1 337.2,313.5 338.4,318.2 339.6,295.5 340.8,342.0 342.0,325.6 343.2,321.2 344.4,330.8 345.6,311.2 346.8,324.2 348.0,333.5" fill="none" stroke="#c8c8c8" stroke-width="0.55" stroke-linejoin="round" opacity="0.8"/>
<polyline points="186.0,314.3 187.2,311.2 188.4,323.7 189.6,319.8 190.8,306.8 192.0,320.6 193.2,338.6 194.4,314.5 195.6,314.2 196.8,332.3 198.0,323.8 199.2,314.8 200.4,325.3 201.6,316.5 202.8,314.2 204.0,324.4 205.2,313.8 206.4,328.9 207.6,336.1 208.8,315.7 210.0,314.5 211.2,314.4 212.4,320.4 213.6,314.0 214.8,322.1 216.0,328.1 217.2,311.6 218.4,323.3 219.6,332.3 220.8,329.1 222.0,313.7 223.2,332.1 224.4,313.3 225.6,329.5 226.8,307.2 228.0,326.1 229.2,318.5 230.4,317.8 231.6,317.0 232.8,312.0 234.0,324.9 235.2,323.0 236.4,328.3 237.6,314.0 238.8,327.8 240.0,330.2 241.2,313.6 242.4,332.7 243.6,335.2 244.8,310.3 246.0,313.0 247.2,343.5 248.4,325.3 249.6,319.8 250.8,312.9 252.0,326.8 253.2,317.6 254.4,324.9 255.6,323.6 256.8,326.0 258.0,327.5 259.2,319.2 260.4,325.7 261.6,326.9 262.8,318.8 264.0,314.6 265.2,324.0 266.4,335.7 267.6,319.9 268.8,316.9 270.0,323.6 271.2,317.1 272.4,321.7 273.6,320.6 274.8,316.0 276.0,323.7 277.2,313.0 278.4,313.1 279.6,304.8 280.8,312.9 282.0,322.8 283.2,332.5 284.4,348.6 285.6,320.3 286.8,317.0 288.0,337.4 289.2,308.1 290.4,327.8 291.6,323.9 292.8,335.0 294.0,318.9 295.2,320.8 296.4,304.2 297.6,313.4 298.8,318.7 300.0,314.0 301.2,313.1 302.4,328.1 303.6,305.5 304.8,302.6 306.0,304.4 307.2,311.0 308.4,309.4 309.6,314.8 310.8,312.3 312.0,333.5 313.2,312.3 314.4,316.6 315.6,324.3 316.8,339.7 318.0,317.7 319.2,313.9 320.4,327.3 321.6,314.6 322.8,303.6 324.0,303.7 325.2,313.4 326.4,306.4 327.6,328.3 328.8,323.9 330.0,334.6 331.2,321.6 332.4,316.4 333.6,325.6 334.8,325.2 336.0,311.9 337.2,334.6 338.4,322.2 339.6,326.9 340.8,315.3 342.0,329.7 343.2,340.5 344.4,318.7 345.6,310.7 346.8,320.8 348.0,321.3" fill="none" stroke="#9a9a9a" stroke-width="0.55" stroke-linejoin="round" opacity="0.8"/>
<polyline points="186.0,342.4 187.2,332.5 188.4,317.6 189.6,341.4 190.8,356.6 192.0,347.0 193.2,346.2 194.4,339.4 195.6,341.8 196.8,316.4 198.0,362.4 199.2,356.0 200.4,334.3 201.6,337.5 202.8,314.1 204.0,322.6 205.2,343.6 206.4,325.5 207.6,318.2 208.8,331.9 210.0,346.6 211.2,320.6 212.4,344.9 213.6,348.0 214.8,348.7 216.0,346.8 217.2,339.0 218.4,333.7 219.6,353.0 220.8,323.9 222.0,356.6 223.2,317.0 224.4,332.9 225.6,340.0 226.8,308.1 228.0,345.6 229.2,355.4 230.4,320.2 231.6,334.0 232.8,350.9 234.0,351.6 235.2,353.8 236.4,312.1 237.6,334.1 238.8,356.6 240.0,313.4 241.2,315.8 242.4,334.7 243.6,334.8 244.8,312.9 246.0,319.8 247.2,334.5 248.4,340.5 249.6,369.0 250.8,354.9 252.0,342.8 253.2,338.5 254.4,352.5 255.6,382.7 256.8,334.3 258.0,322.9 259.2,317.9 260.4,337.0 261.6,317.9 262.8,305.4 264.0,323.5 265.2,325.4 266.4,354.8 267.6,364.9 268.8,331.8 270.0,331.2 271.2,356.1 272.4,339.6 273.6,333.3 274.8,352.1 276.0,324.8 277.2,351.1 278.4,373.7 279.6,317.1 280.8,345.7 282.0,336.8 283.2,361.4 284.4,356.0 285.6,325.7 286.8,335.2 288.0,325.0 289.2,354.7 290.4,324.6 291.6,336.7 292.8,352.8 294.0,330.2 295.2,318.5 296.4,316.7 297.6,319.3 298.8,333.2 300.0,332.2 301.2,344.2 302.4,337.3 303.6,357.8 304.8,352.2 306.0,361.6 307.2,328.4 308.4,318.8 309.6,359.5 310.8,344.5 312.0,303.8 313.2,327.6 314.4,346.2 315.6,360.7 316.8,379.4 318.0,359.5 319.2,343.9 320.4,330.8 321.6,323.9 322.8,326.0 324.0,319.7 325.2,337.9 326.4,356.2 327.6,346.9 328.8,323.1 330.0,350.1 331.2,357.6 332.4,337.2 333.6,334.6 334.8,339.1 336.0,345.1 337.2,305.8 338.4,321.6 339.6,315.9 340.8,338.2 342.0,346.0 343.2,330.3 344.4,355.2 345.6,342.5 346.8,343.2 348.0,340.4" fill="none" stroke="#d4d4d4" stroke-width="0.55" stroke-linejoin="round" opacity="0.8"/>
<polyline points="186.0,329.8 187.2,331.7 188.4,311.0 189.6,324.4 190.8,339.1 192.0,329.6 193.2,324.9 194.4,324.3 195.6,327.5 196.8,313.9 198.0,319.2 199.2,326.4 200.4,324.3 201.6,336.0 202.8,307.4 204.0,343.0 205.2,319.5 206.4,316.8 207.6,323.1 208.8,333.9 210.0,322.5 211.2,337.5 212.4,335.9 213.6,325.2 214.8,322.6 216.0,322.9 217.2,326.2 218.4,311.4 219.6,337.7 220.8,326.2 222.0,327.1 223.2,318.4 224.4,319.3 225.6,338.8 226.8,307.3 228.0,326.4 229.2,317.0 230.4,308.7 231.6,330.7 232.8,316.8 234.0,330.8 235.2,320.3 236.4,303.3 237.6,321.6 238.8,312.2 240.0,320.7 241.2,320.5 242.4,327.6 243.6,324.3 244.8,320.2 246.0,316.4 247.2,307.7 248.4,302.0 249.6,323.6 250.8,310.8 252.0,317.8 253.2,329.5 254.4,331.9 255.6,331.8 256.8,325.3 258.0,327.6 259.2,327.4 260.4,325.4 261.6,311.7 262.8,325.7 264.0,332.2 265.2,323.0 266.4,323.1 267.6,298.6 268.8,313.0 270.0,345.5 271.2,314.4 272.4,328.7 273.6,335.8 274.8,333.4 276.0,325.3 277.2,322.2 278.4,311.3 279.6,339.3 280.8,325.2 282.0,333.8 283.2,307.4 284.4,302.5 285.6,303.2 286.8,329.9 288.0,320.3 289.2,320.3 290.4,325.4 291.6,323.9 292.8,324.0 294.0,315.6 295.2,312.7 296.4,324.1 297.6,332.4 298.8,317.6 300.0,323.3 301.2,319.5 302.4,326.7 303.6,312.2 304.8,341.7 306.0,341.1 307.2,324.6 308.4,321.0 309.6,306.6 310.8,331.2 312.0,325.0 313.2,324.4 314.4,307.6 315.6,330.2 316.8,341.0 318.0,313.2 319.2,320.9 320.4,335.4 321.6,330.8 322.8,331.9 324.0,354.8 325.2,338.8 326.4,324.7 327.6,295.9 328.8,319.8 330.0,309.4 331.2,310.7 332.4,334.7 333.6,313.0 334.8,321.8 336.0,336.7 337.2,316.4 338.4,317.1 339.6,311.1 340.8,317.2 342.0,307.0 343.2,324.1 344.4,316.3 345.6,327.3 346.8,329.1 348.0,322.6" fill="none" stroke="#9a9a9a" stroke-width="0.55" stroke-linejoin="round" opacity="0.8"/>
<polyline points="186.0,348.4 187.2,343.1 188.4,354.8 189.6,339.7 190.8,336.2 192.0,342.0 193.2,315.1 194.4,327.6 195.6,308.7 196.8,339.0 198.0,348.2 199.2,319.1 200.4,325.6 201.6,328.7 202.8,352.0 204.0,343.1 205.2,354.7 206.4,346.7 207.6,345.2 208.8,310.4 210.0,308.6 211.2,354.6 212.4,368.5 213.6,321.3 214.8,322.3 216.0,353.7 217.2,365.5 218.4,323.0 219.6,328.3 220.8,350.3 222.0,342.8 223.2,342.7 224.4,348.3 225.6,321.6 226.8,325.1 228.0,356.3 229.2,316.0 230.4,347.0 231.6,331.1 232.8,348.2 234.0,335.8 235.2,334.3 236.4,351.8 237.6,337.1 238.8,334.9 240.0,304.5 241.2,342.7 242.4,335.4 243.6,350.6 244.8,331.2 246.0,322.0 247.2,354.6 248.4,337.8 249.6,333.1 250.8,319.6 252.0,356.8 253.2,350.9 254.4,325.3 255.6,348.0 256.8,346.5 258.0,355.2 259.2,340.5 260.4,366.8 261.6,311.5 262.8,315.6 264.0,347.5 265.2,351.8 266.4,346.9 267.6,372.5 268.8,345.0 270.0,318.6 271.2,360.8 272.4,342.5 273.6,336.1 274.8,349.4 276.0,349.3 277.2,336.6 278.4,352.7 279.6,347.4 280.8,339.5 282.0,338.5 283.2,312.2 284.4,327.2 285.6,328.9 286.8,335.4 288.0,360.3 289.2,340.5 290.4,333.2 291.6,320.2 292.8,330.6 294.0,324.1 295.2,323.2 296.4,335.9 297.6,314.1 298.8,326.6 300.0,349.7 301.2,338.2 302.4,324.1 303.6,328.3 304.8,326.9 306.0,353.7 307.2,354.0 308.4,358.3 309.6,330.5 310.8,333.3 312.0,345.2 313.2,319.1 314.4,326.6 315.6,347.4 316.8,326.8 318.0,323.0 319.2,340.8 320.4,331.1 321.6,326.1 322.8,335.1 324.0,311.6 325.2,343.9 326.4,338.2 327.6,340.1 328.8,338.6 330.0,343.7 331.2,311.7 332.4,335.8 333.6,354.5 334.8,325.7 336.0,322.1 337.2,323.5 338.4,315.7 339.6,368.5 340.8,332.1 342.0,342.9 343.2,319.6 344.4,321.8 345.6,318.3 346.8,310.6 348.0,323.5" fill="none" stroke="#c8c8c8" stroke-width="0.55" stroke-linejoin="round" opacity="0.8"/>
<polyline points="186.0,327.9 187.2,334.1 188.4,335.1 189.6,319.6 190.8,319.6 192.0,309.5 193.2,320.7 194.4,334.7 195.6,327.8 196.8,323.8 198.0,321.1 199.2,318.2 200.4,322.7 201.6,345.5 202.8,337.8 204.0,329.2 205.2,324.5 206.4,321.3 207.6,335.1 208.8,323.4 210.0,323.9 211.2,325.2 212.4,338.8 213.6,330.3 214.8,341.4 216.0,322.1 217.2,320.8 218.4,317.7 219.6,328.1 220.8,317.8 222.0,323.3 223.2,339.1 224.4,332.7 225.6,325.3 226.8,324.3 228.0,298.9 229.2,307.0 230.4,330.5 231.6,316.9 232.8,318.7 234.0,331.9 235.2,314.9 236.4,326.2 237.6,323.3 238.8,327.1 240.0,326.1 241.2,340.8 242.4,333.4 243.6,339.4 244.8,321.0 246.0,325.3 247.2,329.8 248.4,341.0 249.6,334.7 250.8,325.1 252.0,315.3 253.2,325.2 254.4,315.6 255.6,316.0 256.8,319.5 258.0,321.0 259.2,319.9 260.4,334.4 261.6,324.3 262.8,316.4 264.0,324.3 265.2,312.0 266.4,327.7 267.6,330.4 268.8,330.4 270.0,316.5 271.2,333.1 272.4,333.3 273.6,341.1 274.8,330.9 276.0,325.8 277.2,323.4 278.4,319.5 279.6,317.2 280.8,319.7 282.0,333.6 283.2,324.2 284.4,325.3 285.6,321.9 286.8,329.0 288.0,333.2 289.2,331.7 290.4,316.8 291.6,324.9 292.8,344.2 294.0,330.4 295.2,326.0 296.4,321.2 297.6,312.9 298.8,309.8 300.0,322.2 301.2,325.4 302.4,318.3 303.6,324.1 304.8,330.0 306.0,330.2 307.2,334.2 308.4,313.3 309.6,326.6 310.8,330.0 312.0,325.9 313.2,314.1 314.4,312.0 315.6,338.1 316.8,320.7 318.0,326.8 319.2,319.5 320.4,318.1 321.6,328.2 322.8,332.4 324.0,324.5 325.2,322.8 326.4,331.7 327.6,323.2 328.8,322.4 330.0,320.1 331.2,326.2 332.4,323.2 333.6,322.4 334.8,321.5 336.0,326.0 337.2,333.7 338.4,323.1 339.6,317.6 340.8,341.6 342.0,332.7 343.2,319.5 344.4,309.8 345.6,332.5 346.8,317.6 348.0,322.4" fill="none" stroke="#9a9a9a" stroke-width="0.55" stroke-linejoin="round" opacity="0.8"/>
<polyline points="186.0,332.2 187.2,331.2 188.4,332.7 189.6,315.3 190.8,317.0 192.0,349.4 193.2,330.4 194.4,334.1 195.6,333.4 196.8,346.8 198.0,334.7 199.2,343.5 200.4,345.7 201.6,327.1 202.8,332.9 204.0,342.3 205.2,349.8 206.4,342.3 207.6,342.2 208.8,320.5 210.0,328.0 211.2,340.9 212.4,331.7 213.6,334.3 214.8,337.7 216.0,358.1 217.2,323.5 218.4,348.7 219.6,347.1 220.8,339.8 222.0,325.4 223.2,335.4 224.4,329.0 225.6,347.9 226.8,336.6 228.0,337.3 229.2,323.7 230.4,352.0 231.6,308.7 232.8,368.7 234.0,321.2 235.2,324.5 236.4,326.0 237.6,312.4 238.8,347.0 240.0,322.2 241.2,319.4 242.4,347.8 243.6,340.1 244.8,305.9 246.0,309.9 247.2,330.4 248.4,334.5 249.6,341.8 250.8,332.0 252.0,352.3 253.2,350.9 254.4,340.9 255.6,335.8 256.8,352.2 258.0,356.3 259.2,339.8 260.4,334.6 261.6,345.8 262.8,328.1 264.0,340.4 265.2,346.0 266.4,318.7 267.6,321.6 268.8,305.4 270.0,325.5 271.2,341.4 272.4,328.6 273.6,341.8 274.8,335.5 276.0,324.6 277.2,354.8 278.4,334.7 279.6,350.6 280.8,342.7 282.0,336.6 283.2,361.4 284.4,331.5 285.6,327.9 286.8,355.7 288.0,342.7 289.2,325.8 290.4,330.2 291.6,318.1 292.8,345.3 294.0,354.7 295.2,346.2 296.4,349.3 297.6,357.5 298.8,340.6 300.0,326.5 301.2,327.5 302.4,343.2 303.6,341.9 304.8,340.8 306.0,321.4 307.2,338.0 308.4,359.5 309.6,340.9 310.8,356.4 312.0,343.6 313.2,335.6 314.4,356.8 315.6,365.0 316.8,350.9 318.0,358.0 319.2,333.3 320.4,321.8 321.6,312.3 322.8,339.8 324.0,361.2 325.2,331.4 326.4,318.2 327.6,339.4 328.8,339.2 330.0,337.6 331.2,324.6 332.4,359.8 333.6,329.6 334.8,332.8 336.0,314.3 337.2,345.3 338.4,363.4 339.6,352.6 340.8,320.0 342.0,345.8 343.2,320.1 344.4,331.3 345.6,330.4 346.8,347.0 348.0,344.5" fill="none" stroke="#d4d4d4" stroke-width="0.55" stroke-linejoin="round" opacity="0.8"/>
<polyline points="186.0,327.6 187.4,334.0 188.8,325.6 190.2,327.0 191.6,331.1 193.0,328.1 194.4,322.0 195.8,328.8 197.2,329.4 198.6,326.6 200.0,327.9 201.4,327.2 202.8,329.3 204.2,328.6 205.6,327.3 207.0,329.5 208.4,327.5 209.8,327.9 211.2,330.1 212.6,331.3 214.0,328.5 215.4,330.0 216.8,329.0 218.2,330.8 219.6,327.3 221.0,327.3 222.4,327.6 223.8,325.3 225.2,329.0 226.6,333.2 228.0,328.2 229.4,328.2 230.8,327.6 232.2,320.4 233.6,311.0 235.0,321.2 236.4,328.7 237.8,327.6 239.2,326.9 240.6,330.5 242.0,329.2 243.4,328.1 244.8,328.3 246.2,324.1 247.6,329.0 249.0,327.4 250.4,329.9 251.8,328.6 253.2,329.1 254.6,325.8 256.0,325.6 257.4,331.1 258.8,327.7 260.2,327.4 261.6,330.2 263.0,329.0 264.4,329.1 265.8,330.8 267.2,325.6 268.6,327.8 270.0,327.4 271.4,324.8 272.8,327.9 274.2,332.0 275.6,327.1 277.0,327.8 278.4,323.9 279.8,327.4 281.2,327.1 282.6,327.3 284.0,329.1 285.4,327.4 286.8,328.9 288.2,331.9 289.6,331.8 291.0,330.4 292.4,323.6 293.8,330.0 295.2,328.7 296.6,324.8 298.0,327.5 299.4,327.3 300.8,331.0 302.2,330.7 303.6,326.7 305.0,326.6 306.4,330.0 307.8,327.3 309.2,329.4 310.6,330.2 312.0,327.9 313.4,326.6 314.8,329.5 316.2,330.3 317.6,325.7 319.0,324.5 320.4,326.5 321.8,326.5 323.2,329.2 324.6,330.2 326.0,328.5 327.4,326.9 328.8,327.9 330.2,328.6 331.6,325.7 333.0,329.0 334.4,326.4 335.8,326.7 337.2,330.4 338.6,322.8 340.0,329.6 341.4,333.3 342.8,327.5 344.2,329.8 345.6,328.3 347.0,327.1" fill="none" stroke="#c0262b" stroke-width="2.7" stroke-linejoin="round" stroke-linecap="butt"/>
<polyline points="365.0,302.7 366.2,324.7 367.4,304.6 368.6,330.0 369.8,328.6 371.0,330.4 372.2,330.3 373.4,325.4 374.6,318.0 375.8,320.3 377.0,335.5 378.2,318.1 379.4,320.2 380.6,316.0 381.8,317.7 383.0,319.9 384.2,324.7 385.4,320.1 386.6,319.2 387.8,317.2 389.0,322.7 390.2,311.0 391.4,323.1 392.6,333.8 393.8,316.4 395.0,323.0 396.2,346.8 397.4,314.4 398.6,308.0 399.8,319.0 401.0,339.0 402.2,340.6 403.4,313.0 404.6,327.2 405.8,322.7 407.0,316.8 408.2,305.8 409.4,330.5 410.6,315.6 411.8,325.0 413.0,324.2 414.2,339.5 415.4,333.2 416.6,312.9 417.8,320.3 419.0,331.1 420.2,311.3 421.4,318.8 422.6,323.9 423.8,308.2 425.0,310.6 426.2,307.4 427.4,324.3 428.6,318.2 429.8,330.6 431.0,324.2 432.2,327.7 433.4,322.4 434.6,329.1 435.8,321.7 437.0,314.5 438.2,333.0 439.4,332.5 440.6,342.8 441.8,322.1 443.0,317.0 444.2,308.3 445.4,287.9 446.6,309.9 447.8,326.1 449.0,314.1 450.2,299.9 451.4,326.7 452.6,317.6 453.8,319.1 455.0,318.7 456.2,321.5 457.4,326.1 458.6,307.6 459.8,319.8 461.0,318.6 462.2,332.0 463.4,314.7 464.6,336.8 465.8,329.2 467.0,336.8 468.2,317.4 469.4,329.6 470.6,325.6 471.8,309.6 473.0,319.6 474.2,318.2 475.4,313.8 476.6,315.0 477.8,309.6 479.0,318.2 480.2,325.1 481.4,315.4 482.6,309.1 483.8,331.0 485.0,319.8 486.2,322.7 487.4,320.4 488.6,318.1 489.8,327.5 491.0,318.3 492.2,322.1 493.4,309.4 494.6,307.6 495.8,319.4 497.0,339.3 498.2,325.7 499.4,339.8 500.6,327.5 501.8,326.6 503.0,317.7 504.2,322.9 505.4,338.7 506.6,333.4 507.8,317.5 509.0,318.8 510.2,333.9 511.4,319.0 512.6,330.1 513.8,315.3 515.0,328.4 516.2,336.5 517.4,330.6 518.6,325.2 519.8,321.4 521.0,322.0 522.2,322.9 523.4,333.4 524.6,333.3 525.8,326.2 527.0,312.0" fill="none" stroke="#8a8a8a" stroke-width="0.55" stroke-linejoin="round" opacity="0.8"/>
<polyline points="365.0,320.7 366.2,340.2 367.4,358.2 368.6,322.5 369.8,334.0 371.0,348.8 372.2,329.7 373.4,329.2 374.6,335.0 375.8,338.6 377.0,329.9 378.2,341.8 379.4,315.5 380.6,339.0 381.8,337.0 383.0,332.0 384.2,337.0 385.4,334.5 386.6,346.0 387.8,329.3 389.0,332.1 390.2,319.3 391.4,321.7 392.6,329.8 393.8,317.7 395.0,323.8 396.2,319.8 397.4,328.0 398.6,334.6 399.8,341.6 401.0,314.8 402.2,330.9 403.4,342.1 404.6,347.6 405.8,346.8 407.0,319.7 408.2,327.9 409.4,338.9 410.6,342.7 411.8,336.5 413.0,336.1 414.2,335.4 415.4,326.0 416.6,334.8 417.8,341.0 419.0,330.8 420.2,343.3 421.4,306.1 422.6,329.6 423.8,350.0 425.0,343.1 426.2,347.7 427.4,334.8 428.6,321.7 429.8,328.5 431.0,347.0 432.2,315.7 433.4,322.5 434.6,316.0 435.8,327.2 437.0,329.2 438.2,338.3 439.4,326.3 440.6,349.8 441.8,340.1 443.0,328.6 444.2,322.8 445.4,318.4 446.6,334.7 447.8,352.4 449.0,332.1 450.2,323.2 451.4,332.1 452.6,327.9 453.8,323.5 455.0,314.5 456.2,332.6 457.4,348.2 458.6,346.2 459.8,343.4 461.0,336.0 462.2,338.4 463.4,343.3 464.6,333.4 465.8,335.9 467.0,330.1 468.2,343.7 469.4,325.1 470.6,339.9 471.8,342.3 473.0,342.1 474.2,340.4 475.4,328.9 476.6,327.5 477.8,329.0 479.0,329.1 480.2,322.1 481.4,328.3 482.6,326.6 483.8,324.1 485.0,336.2 486.2,326.3 487.4,336.1 488.6,348.5 489.8,350.4 491.0,334.8 492.2,343.4 493.4,337.3 494.6,357.4 495.8,350.9 497.0,344.9 498.2,332.3 499.4,331.2 500.6,338.6 501.8,333.3 503.0,331.3 504.2,339.6 505.4,320.8 506.6,313.0 507.8,322.2 509.0,321.7 510.2,331.7 511.4,324.8 512.6,330.3 513.8,314.3 515.0,347.0 516.2,337.5 517.4,325.3 518.6,336.6 519.8,258.0 521.0,342.1 522.2,333.1 523.4,339.7 524.6,341.7 525.8,321.4 527.0,318.3" fill="none" stroke="#bcbcbc" stroke-width="0.55" stroke-linejoin="round" opacity="0.8"/>
<polyline points="365.0,340.7 366.2,336.0 367.4,326.1 368.6,319.7 369.8,320.7 371.0,327.6 372.2,339.4 373.4,334.1 374.6,314.9 375.8,315.5 377.0,333.4 378.2,328.3 379.4,318.6 380.6,332.8 381.8,339.3 383.0,334.3 384.2,328.4 385.4,338.4 386.6,323.5 387.8,320.9 389.0,319.0 390.2,343.9 391.4,346.2 392.6,327.3 393.8,332.1 395.0,331.3 396.2,335.6 397.4,337.9 398.6,333.1 399.8,325.9 401.0,321.7 402.2,316.4 403.4,303.1 404.6,324.5 405.8,319.3 407.0,326.6 408.2,325.4 409.4,317.4 410.6,322.0 411.8,330.2 413.0,328.0 414.2,318.7 415.4,319.9 416.6,331.5 417.8,329.1 419.0,329.4 420.2,325.6 421.4,333.2 422.6,328.8 423.8,348.9 425.0,323.2 426.2,320.9 427.4,341.0 428.6,326.4 429.8,319.9 431.0,329.3 432.2,306.6 433.4,329.7 434.6,327.1 435.8,328.7 437.0,320.2 438.2,338.0 439.4,329.9 440.6,326.7 441.8,329.5 443.0,319.4 444.2,324.6 445.4,312.9 446.6,316.4 447.8,328.8 449.0,328.0 450.2,332.9 451.4,321.0 452.6,325.1 453.8,320.6 455.0,328.9 456.2,334.0 457.4,336.5 458.6,331.7 459.8,319.8 461.0,327.7 462.2,316.7 463.4,309.3 464.6,327.3 465.8,327.6 467.0,333.4 468.2,333.5 469.4,315.6 470.6,318.0 471.8,326.0 473.0,327.2 474.2,329.5 475.4,314.9 476.6,323.9 477.8,332.6 479.0,342.8 480.2,316.7 481.4,340.0 482.6,323.9 483.8,314.0 485.0,337.1 486.2,317.0 487.4,315.9 488.6,332.6 489.8,335.7 491.0,327.0 492.2,319.4 493.4,312.9 494.6,325.7 495.8,305.2 497.0,312.9 498.2,335.2 499.4,332.5 500.6,337.3 501.8,329.8 503.0,316.5 504.2,329.2 505.4,310.7 506.6,332.1 507.8,338.0 509.0,318.2 510.2,334.8 511.4,326.8 512.6,323.9 513.8,308.6 515.0,324.3 516.2,333.0 517.4,311.1 518.6,320.9 519.8,319.0 521.0,311.9 522.2,334.6 523.4,326.6 524.6,326.8 525.8,334.4 527.0,320.2" fill="none" stroke="#8a8a8a" stroke-width="0.55" stroke-linejoin="round" opacity="0.8"/>
<polyline points="365.0,334.8 366.2,331.0 367.4,314.1 368.6,315.1 369.8,336.7 371.0,331.0 372.2,332.5 373.4,337.5 374.6,320.3 375.8,342.3 377.0,328.3 378.2,335.4 379.4,316.2 380.6,336.0 381.8,332.2 383.0,358.1 384.2,327.3 385.4,346.5 386.6,336.7 387.8,347.2 389.0,331.2 390.2,332.1 391.4,298.9 392.6,310.5 393.8,339.8 395.0,333.5 396.2,337.0 397.4,324.8 398.6,336.7 399.8,323.1 401.0,327.0 402.2,343.0 403.4,341.2 404.6,322.4 405.8,327.7 407.0,330.1 408.2,325.5 409.4,325.4 410.6,315.7 411.8,333.2 413.0,313.9 414.2,315.2 415.4,343.6 416.6,351.8 417.8,351.5 419.0,332.3 420.2,321.1 421.4,337.0 422.6,347.1 423.8,329.3 425.0,321.3 426.2,305.2 427.4,306.1 428.6,347.0 429.8,309.4 431.0,317.8 432.2,323.2 433.4,329.3 434.6,311.3 435.8,333.8 437.0,334.7 438.2,327.9 439.4,319.1 440.6,321.0 441.8,303.0 443.0,333.5 444.2,320.0 445.4,309.5 446.6,326.0 447.8,333.3 449.0,332.0 450.2,335.5 451.4,341.5 452.6,321.0 453.8,329.0 455.0,329.3 456.2,309.3 457.4,339.4 458.6,323.4 459.8,329.8 461.0,330.1 462.2,317.1 463.4,337.0 464.6,339.4 465.8,327.7 467.0,291.2 468.2,342.0 469.4,325.2 470.6,318.1 471.8,318.3 473.0,312.5 474.2,321.7 475.4,333.5 476.6,313.2 477.8,328.3 479.0,319.1 480.2,322.8 481.4,322.0 482.6,330.8 483.8,339.4 485.0,327.5 486.2,338.6 487.4,344.9 488.6,309.7 489.8,335.5 491.0,323.2 492.2,324.7 493.4,338.6 494.6,323.9 495.8,319.3 497.0,342.7 498.2,340.8 499.4,334.1 500.6,361.8 501.8,315.2 503.0,305.9 504.2,322.7 505.4,312.8 506.6,330.6 507.8,319.4 509.0,319.1 510.2,326.3 511.4,315.4 512.6,302.0 513.8,317.2 515.0,335.5 516.2,330.8 517.4,339.7 518.6,349.0 519.8,275.5 521.0,326.3 522.2,317.8 523.4,333.2 524.6,348.1 525.8,346.2 527.0,340.2" fill="none" stroke="#c8c8c8" stroke-width="0.55" stroke-linejoin="round" opacity="0.8"/>
<polyline points="365.0,315.8 366.2,319.4 367.4,324.8 368.6,324.8 369.8,320.5 371.0,327.0 372.2,322.7 373.4,330.9 374.6,321.4 375.8,324.7 377.0,311.0 378.2,324.6 379.4,320.2 380.6,328.4 381.8,323.6 383.0,331.7 384.2,320.7 385.4,315.0 386.6,325.4 387.8,327.6 389.0,319.2 390.2,316.0 391.4,328.8 392.6,331.2 393.8,329.1 395.0,324.9 396.2,324.6 397.4,334.6 398.6,329.4 399.8,318.3 401.0,317.3 402.2,328.0 403.4,328.8 404.6,320.3 405.8,319.5 407.0,329.9 408.2,322.7 409.4,329.0 410.6,317.1 411.8,317.1 413.0,313.1 414.2,323.4 415.4,321.1 416.6,313.5 417.8,324.5 419.0,320.8 420.2,323.0 421.4,333.2 422.6,330.8 423.8,327.4 425.0,321.9 426.2,316.4 427.4,319.6 428.6,321.9 429.8,331.7 431.0,318.5 432.2,320.4 433.4,324.0 434.6,326.9 435.8,331.4 437.0,332.7 438.2,324.1 439.4,336.4 440.6,328.7 441.8,319.1 443.0,317.6 444.2,321.1 445.4,322.6 446.6,328.8 447.8,319.0 449.0,320.1 450.2,318.7 451.4,325.2 452.6,315.2 453.8,327.0 455.0,319.2 456.2,322.6 457.4,326.8 458.6,326.9 459.8,341.5 461.0,318.6 462.2,310.3 463.4,315.5 464.6,328.7 465.8,317.9 467.0,330.2 468.2,323.2 469.4,328.3 470.6,314.9 471.8,330.6 473.0,331.4 474.2,318.9 475.4,332.9 476.6,341.1 477.8,324.6 479.0,318.0 480.2,320.0 481.4,322.4 482.6,330.9 483.8,335.8 485.0,321.9 486.2,322.2 487.4,315.2 488.6,320.6 489.8,326.4 491.0,311.8 492.2,328.1 493.4,330.3 494.6,331.8 495.8,320.4 497.0,314.0 498.2,321.6 499.4,317.0 500.6,312.5 501.8,318.4 503.0,315.6 504.2,336.1 505.4,329.6 506.6,329.6 507.8,317.7 509.0,332.4 510.2,322.4 511.4,329.1 512.6,318.1 513.8,327.3 515.0,313.7 516.2,322.5 517.4,322.2 518.6,315.4 519.8,319.4 521.0,320.4 522.2,321.7 523.4,329.0 524.6,332.4 525.8,323.6 527.0,332.1" fill="none" stroke="#9a9a9a" stroke-width="0.55" stroke-linejoin="round" opacity="0.8"/>
<polyline points="365.0,324.3 366.2,356.3 367.4,345.9 368.6,336.4 369.8,339.2 371.0,353.7 372.2,356.3 373.4,349.6 374.6,326.7 375.8,322.9 377.0,341.1 378.2,348.3 379.4,333.5 380.6,351.6 381.8,349.1 383.0,346.8 384.2,332.8 385.4,356.1 386.6,354.1 387.8,358.1 389.0,345.7 390.2,326.4 391.4,345.5 392.6,351.6 393.8,339.3 395.0,327.7 396.2,347.6 397.4,348.5 398.6,326.1 399.8,331.0 401.0,323.5 402.2,344.3 403.4,344.3 404.6,361.5 405.8,331.7 407.0,356.3 408.2,339.2 409.4,343.4 410.6,326.3 411.8,340.3 413.0,334.6 414.2,339.4 415.4,343.3 416.6,347.3 417.8,351.2 419.0,340.7 420.2,330.8 421.4,352.8 422.6,342.2 423.8,334.5 425.0,357.2 426.2,345.5 427.4,348.9 428.6,320.8 429.8,333.7 431.0,365.1 432.2,348.3 433.4,346.7 434.6,332.7 435.8,339.2 437.0,345.3 438.2,340.2 439.4,338.6 440.6,319.4 441.8,330.2 443.0,335.4 444.2,347.7 445.4,347.4 446.6,340.6 447.8,331.8 449.0,331.9 450.2,342.7 451.4,324.6 452.6,337.3 453.8,336.8 455.0,338.4 456.2,360.4 457.4,340.3 458.6,351.8 459.8,360.5 461.0,347.7 462.2,340.3 463.4,326.6 464.6,358.9 465.8,327.2 467.0,316.2 468.2,351.6 469.4,323.0 470.6,325.1 471.8,330.8 473.0,324.8 474.2,313.9 475.4,341.8 476.6,346.7 477.8,349.6 479.0,340.2 480.2,335.2 481.4,334.4 482.6,355.0 483.8,350.7 485.0,335.6 486.2,343.1 487.4,326.5 488.6,345.0 489.8,327.5 491.0,337.7 492.2,335.9 493.4,308.3 494.6,346.7 495.8,339.7 497.0,330.3 498.2,331.0 499.4,338.3 500.6,338.2 501.8,345.3 503.0,342.3 504.2,347.4 505.4,342.5 506.6,322.7 507.8,322.8 509.0,345.1 510.2,345.0 511.4,339.5 512.6,324.1 513.8,330.6 515.0,330.4 516.2,347.2 517.4,330.1 518.6,323.1 519.8,328.5 521.0,344.2 522.2,358.9 523.4,335.7 524.6,353.0 525.8,335.2 527.0,334.6" fill="none" stroke="#d4d4d4" stroke-width="0.55" stroke-linejoin="round" opacity="0.8"/>
<polyline points="365.0,317.4 366.2,337.3 367.4,323.0 368.6,320.1 369.8,308.7 371.0,332.6 372.2,323.7 373.4,321.1 374.6,320.2 375.8,315.0 377.0,315.0 378.2,323.1 379.4,312.3 380.6,319.5 381.8,342.9 383.0,319.9 384.2,317.9 385.4,328.8 386.6,311.6 387.8,334.0 389.0,320.6 390.2,308.7 391.4,318.1 392.6,313.7 393.8,326.8 395.0,316.4 396.2,326.6 397.4,301.2 398.6,315.4 399.8,326.1 401.0,325.7 402.2,321.6 403.4,328.3 404.6,328.5 405.8,320.8 407.0,322.9 408.2,329.6 409.4,321.3 410.6,294.1 411.8,303.2 413.0,313.4 414.2,327.0 415.4,321.6 416.6,327.4 417.8,331.0 419.0,325.9 420.2,311.5 421.4,327.8 422.6,306.6 423.8,306.6 425.0,314.2 426.2,297.9 427.4,336.9 428.6,344.4 429.8,319.2 431.0,315.1 432.2,299.0 433.4,323.9 434.6,312.4 435.8,306.7 437.0,305.2 438.2,317.7 439.4,317.3 440.6,317.9 441.8,312.5 443.0,302.5 444.2,333.5 445.4,328.0 446.6,313.3 447.8,305.1 449.0,309.0 450.2,326.1 451.4,325.0 452.6,323.0 453.8,331.3 455.0,315.1 456.2,333.7 457.4,321.5 458.6,312.2 459.8,324.4 461.0,322.6 462.2,313.4 463.4,336.5 464.6,303.9 465.8,321.6 467.0,323.4 468.2,312.6 469.4,320.4 470.6,332.3 471.8,308.5 473.0,308.1 474.2,316.0 475.4,325.1 476.6,331.4 477.8,325.5 479.0,309.2 480.2,330.7 481.4,327.8 482.6,329.6 483.8,302.7 485.0,301.5 486.2,311.8 487.4,314.6 488.6,318.6 489.8,307.8 491.0,308.2 492.2,322.1 493.4,297.5 494.6,306.4 495.8,319.2 497.0,326.8 498.2,323.0 499.4,335.5 500.6,323.2 501.8,326.8 503.0,327.7 504.2,319.3 505.4,305.8 506.6,315.6 507.8,316.5 509.0,310.5 510.2,325.1 511.4,313.2 512.6,303.7 513.8,317.6 515.0,308.9 516.2,322.5 517.4,292.0 518.6,300.5 519.8,317.7 521.0,321.3 522.2,320.4 523.4,333.9 524.6,316.7 525.8,313.9 527.0,326.7" fill="none" stroke="#9a9a9a" stroke-width="0.55" stroke-linejoin="round" opacity="0.8"/>
<polyline points="365.0,334.0 366.2,334.5 367.4,328.3 368.6,341.8 369.8,345.9 371.0,351.5 372.2,347.6 373.4,364.5 374.6,340.2 375.8,338.6 377.0,333.9 378.2,354.3 379.4,338.8 380.6,332.5 381.8,319.2 383.0,335.2 384.2,347.4 385.4,301.9 386.6,320.1 387.8,323.7 389.0,325.7 390.2,337.3 391.4,332.3 392.6,339.2 393.8,342.3 395.0,355.9 396.2,335.1 397.4,342.0 398.6,334.8 399.8,339.5 401.0,332.4 402.2,322.1 403.4,343.0 404.6,352.1 405.8,325.6 407.0,336.7 408.2,336.0 409.4,310.1 410.6,363.7 411.8,359.5 413.0,355.2 414.2,351.5 415.4,325.3 416.6,304.0 417.8,335.5 419.0,338.7 420.2,333.9 421.4,332.2 422.6,351.3 423.8,348.9 425.0,337.6 426.2,332.2 427.4,368.8 428.6,350.4 429.8,338.9 431.0,319.2 432.2,314.3 433.4,299.1 434.6,332.8 435.8,341.4 437.0,335.5 438.2,337.7 439.4,341.5 440.6,348.2 441.8,313.4 443.0,320.2 444.2,349.2 445.4,342.4 446.6,344.1 447.8,325.3 449.0,357.7 450.2,340.2 451.4,334.2 452.6,325.8 453.8,340.0 455.0,340.2 456.2,337.4 457.4,360.7 458.6,355.2 459.8,338.3 461.0,329.9 462.2,332.0 463.4,340.9 464.6,300.7 465.8,340.6 467.0,336.7 468.2,367.4 469.4,345.5 470.6,336.4 471.8,338.6 473.0,329.5 474.2,328.6 475.4,336.0 476.6,311.2 477.8,336.4 479.0,315.2 480.2,327.3 481.4,328.6 482.6,348.6 483.8,361.2 485.0,358.7 486.2,332.7 487.4,335.2 488.6,339.1 489.8,341.5 491.0,354.5 492.2,348.6 493.4,340.2 494.6,365.5 495.8,353.3 497.0,364.4 498.2,339.5 499.4,346.9 500.6,343.9 501.8,340.9 503.0,324.9 504.2,340.9 505.4,319.4 506.6,344.4 507.8,363.5 509.0,355.8 510.2,343.6 511.4,335.7 512.6,348.7 513.8,324.6 515.0,321.1 516.2,320.7 517.4,342.8 518.6,321.6 519.8,340.6 521.0,353.6 522.2,348.9 523.4,338.2 524.6,343.9 525.8,322.9 527.0,340.2" fill="none" stroke="#c8c8c8" stroke-width="0.55" stroke-linejoin="round" opacity="0.8"/>
<polyline points="365.0,315.6 366.2,324.5 367.4,319.9 368.6,316.6 369.8,312.6 371.0,318.4 372.2,316.5 373.4,317.9 374.6,315.9 375.8,308.1 377.0,320.4 378.2,321.1 379.4,319.4 380.6,319.9 381.8,327.3 383.0,326.8 384.2,330.8 385.4,323.7 386.6,324.2 387.8,317.8 389.0,309.1 390.2,308.3 391.4,321.1 392.6,318.8 393.8,320.9 395.0,299.9 396.2,315.0 397.4,318.0 398.6,314.3 399.8,314.4 401.0,303.2 402.2,316.0 403.4,326.3 404.6,308.8 405.8,320.6 407.0,311.6 408.2,318.6 409.4,328.0 410.6,318.0 411.8,320.1 413.0,322.1 414.2,317.4 415.4,326.0 416.6,302.0 417.8,313.3 419.0,301.8 420.2,304.7 421.4,316.0 422.6,307.6 423.8,314.0 425.0,327.5 426.2,323.0 427.4,346.1 428.6,317.6 429.8,316.8 431.0,298.1 432.2,315.9 433.4,313.7 434.6,320.6 435.8,317.3 437.0,311.5 438.2,302.1 439.4,322.1 440.6,311.3 441.8,303.6 443.0,318.8 444.2,301.5 445.4,310.8 446.6,300.6 447.8,313.3 449.0,304.6 450.2,339.1 451.4,326.6 452.6,320.9 453.8,319.8 455.0,322.2 456.2,323.6 457.4,318.7 458.6,308.4 459.8,317.1 461.0,304.5 462.2,313.5 463.4,319.3 464.6,308.5 465.8,319.6 467.0,313.9 468.2,334.9 469.4,314.7 470.6,320.6 471.8,321.7 473.0,318.1 474.2,319.2 475.4,314.9 476.6,317.8 477.8,318.5 479.0,323.8 480.2,327.0 481.4,317.8 482.6,328.0 483.8,317.2 485.0,309.7 486.2,313.3 487.4,311.9 488.6,315.3 489.8,317.8 491.0,319.4 492.2,326.8 493.4,323.4 494.6,314.5 495.8,321.5 497.0,317.3 498.2,323.8 499.4,327.2 500.6,317.2 501.8,323.8 503.0,328.5 504.2,320.4 505.4,309.0 506.6,315.9 507.8,310.8 509.0,324.9 510.2,319.4 511.4,320.6 512.6,331.5 513.8,323.9 515.0,318.1 516.2,303.3 517.4,312.5 518.6,311.8 519.8,311.8 521.0,307.9 522.2,322.2 523.4,327.1 524.6,314.5 525.8,305.9 527.0,317.2" fill="none" stroke="#8a8a8a" stroke-width="0.55" stroke-linejoin="round" opacity="0.8"/>
<polyline points="365.0,323.1 366.2,317.0 367.4,330.9 368.6,306.3 369.8,319.7 371.0,339.9 372.2,331.2 373.4,331.9 374.6,329.3 375.8,317.0 377.0,327.8 378.2,337.7 379.4,338.0 380.6,321.4 381.8,333.4 383.0,342.9 384.2,336.5 385.4,349.4 386.6,332.7 387.8,314.6 389.0,331.7 390.2,334.6 391.4,340.3 392.6,339.2 393.8,349.9 395.0,340.1 396.2,334.8 397.4,326.9 398.6,330.5 399.8,347.8 401.0,354.4 402.2,337.6 403.4,335.0 404.6,330.8 405.8,335.3 407.0,333.2 408.2,327.8 409.4,341.9 410.6,321.2 411.8,333.9 413.0,334.9 414.2,340.0 415.4,330.9 416.6,322.1 417.8,330.7 419.0,321.2 420.2,327.9 421.4,325.3 422.6,357.9 423.8,309.4 425.0,319.0 426.2,345.5 427.4,330.3 428.6,317.8 429.8,339.9 431.0,356.1 432.2,334.5 433.4,341.6 434.6,318.1 435.8,325.7 437.0,334.7 438.2,334.4 439.4,325.1 440.6,325.6 441.8,325.2 443.0,323.5 444.2,326.0 445.4,326.4 446.6,336.6 447.8,317.5 449.0,338.2 450.2,352.2 451.4,335.1 452.6,327.1 453.8,321.9 455.0,325.9 456.2,319.3 457.4,334.8 458.6,332.0 459.8,341.1 461.0,336.4 462.2,342.4 463.4,350.2 464.6,345.6 465.8,364.3 467.0,346.8 468.2,329.0 469.4,340.2 470.6,342.1 471.8,335.4 473.0,342.0 474.2,340.9 475.4,348.5 476.6,332.5 477.8,323.1 479.0,327.5 480.2,310.9 481.4,302.8 482.6,320.3 483.8,326.6 485.0,325.8 486.2,345.2 487.4,321.0 488.6,320.0 489.8,353.5 491.0,317.4 492.2,340.6 493.4,330.9 494.6,305.3 495.8,342.4 497.0,330.1 498.2,337.2 499.4,335.9 500.6,337.4 501.8,344.3 503.0,357.7 504.2,337.1 505.4,331.6 506.6,343.2 507.8,337.5 509.0,305.7 510.2,336.7 511.4,328.9 512.6,329.6 513.8,317.9 515.0,353.6 516.2,339.3 517.4,328.1 518.6,328.1 519.8,329.3 521.0,332.1 522.2,341.8 523.4,337.4 524.6,327.4 525.8,330.4 527.0,339.4" fill="none" stroke="#d4d4d4" stroke-width="0.55" stroke-linejoin="round" opacity="0.8"/>
<polyline points="365.0,338.5 366.2,314.5 367.4,320.1 368.6,316.9 369.8,316.9 371.0,333.0 372.2,336.3 373.4,327.0 374.6,325.3 375.8,343.9 377.0,341.5 378.2,306.1 379.4,323.2 380.6,305.1 381.8,309.4 383.0,318.1 384.2,314.4 385.4,331.0 386.6,321.8 387.8,323.2 389.0,325.6 390.2,343.0 391.4,330.0 392.6,335.2 393.8,331.9 395.0,338.0 396.2,326.8 397.4,325.8 398.6,338.5 399.8,327.3 401.0,309.6 402.2,312.5 403.4,321.2 404.6,330.2 405.8,319.0 407.0,340.4 408.2,330.5 409.4,322.9 410.6,314.0 411.8,332.4 413.0,331.7 414.2,315.2 415.4,338.8 416.6,339.0 417.8,340.8 419.0,326.4 420.2,333.9 421.4,306.0 422.6,328.6 423.8,321.6 425.0,324.6 426.2,329.6 427.4,318.7 428.6,322.9 429.8,315.2 431.0,316.6 432.2,314.1 433.4,328.8 434.6,337.4 435.8,315.6 437.0,309.0 438.2,322.6 439.4,329.1 440.6,327.3 441.8,313.8 443.0,324.2 444.2,316.6 445.4,320.5 446.6,323.4 447.8,320.9 449.0,329.1 450.2,320.9 451.4,339.7 452.6,326.3 453.8,314.4 455.0,334.5 456.2,333.9 457.4,328.0 458.6,325.2 459.8,328.7 461.0,333.5 462.2,324.5 463.4,332.8 464.6,320.0 465.8,329.2 467.0,315.6 468.2,328.2 469.4,330.5 470.6,320.2 471.8,327.5 473.0,307.0 474.2,323.2 475.4,322.7 476.6,331.0 477.8,325.3 479.0,335.8 480.2,344.1 481.4,327.2 482.6,334.4 483.8,342.2 485.0,335.6 486.2,336.2 487.4,323.8 488.6,328.6 489.8,316.1 491.0,333.6 492.2,330.1 493.4,329.0 494.6,308.0 495.8,335.4 497.0,341.5 498.2,340.0 499.4,331.3 500.6,338.9 501.8,326.5 503.0,319.5 504.2,324.8 505.4,319.6 506.6,341.5 507.8,302.9 509.0,326.8 510.2,317.4 511.4,320.4 512.6,332.4 513.8,325.8 515.0,336.2 516.2,324.7 517.4,324.4 518.6,327.0 519.8,337.1 521.0,319.3 522.2,321.9 523.4,319.7 524.6,320.2 525.8,313.1 527.0,321.3" fill="none" stroke="#8a8a8a" stroke-width="0.55" stroke-linejoin="round" opacity="0.8"/>
<polyline points="365.0,328.1 366.2,358.5 367.4,308.1 368.6,341.8 369.8,315.5 371.0,331.6 372.2,311.7 373.4,308.5 374.6,326.5 375.8,365.5 377.0,343.6 378.2,350.8 379.4,330.7 380.6,335.2 381.8,322.3 383.0,325.0 384.2,330.5 385.4,351.7 386.6,341.4 387.8,323.4 389.0,331.7 390.2,321.4 391.4,344.3 392.6,340.8 393.8,340.8 395.0,348.4 396.2,347.0 397.4,360.5 398.6,325.1 399.8,347.9 401.0,334.4 402.2,351.3 403.4,327.2 404.6,307.8 405.8,327.5 407.0,324.6 408.2,317.3 409.4,330.0 410.6,355.1 411.8,332.0 413.0,348.5 414.2,360.7 415.4,355.0 416.6,345.7 417.8,351.9 419.0,328.9 420.2,313.1 421.4,310.7 422.6,351.9 423.8,359.7 425.0,332.3 426.2,334.8 427.4,298.0 428.6,346.7 429.8,333.6 431.0,305.3 432.2,343.6 433.4,347.3 434.6,350.7 435.8,335.2 437.0,339.9 438.2,322.9 439.4,359.1 440.6,332.7 441.8,357.8 443.0,346.3 444.2,334.1 445.4,358.0 446.6,326.9 447.8,342.6 449.0,339.4 450.2,334.9 451.4,340.5 452.6,348.7 453.8,330.7 455.0,328.1 456.2,332.8 457.4,326.7 458.6,320.0 459.8,339.3 461.0,307.5 462.2,333.2 463.4,328.2 464.6,338.5 465.8,343.9 467.0,340.3 468.2,336.6 469.4,357.4 470.6,326.9 471.8,314.9 473.0,331.2 474.2,348.5 475.4,368.1 476.6,372.5 477.8,344.6 479.0,357.1 480.2,364.0 481.4,330.6 482.6,361.5 483.8,345.0 485.0,335.3 486.2,346.2 487.4,346.5 488.6,303.4 489.8,336.5 491.0,339.7 492.2,324.9 493.4,338.6 494.6,329.2 495.8,322.3 497.0,332.1 498.2,302.9 499.4,342.1 500.6,345.5 501.8,342.0 503.0,345.1 504.2,328.6 505.4,324.7 506.6,304.5 507.8,304.7 509.0,322.4 510.2,350.5 511.4,336.9 512.6,358.7 513.8,348.8 515.0,318.6 516.2,324.0 517.4,315.6 518.6,310.4 519.8,338.8 521.0,346.3 522.2,321.6 523.4,353.3 524.6,350.8 525.8,327.0 527.0,340.6" fill="none" stroke="#bcbcbc" stroke-width="0.55" stroke-linejoin="round" opacity="0.8"/>
<polyline points="365.0,332.0 366.2,313.5 367.4,323.7 368.6,321.0 369.8,329.0 371.0,318.4 372.2,321.4 373.4,343.8 374.6,335.7 375.8,329.7 377.0,319.8 378.2,325.5 379.4,313.4 380.6,318.6 381.8,326.6 383.0,328.9 384.2,322.1 385.4,328.6 386.6,329.1 387.8,318.0 389.0,325.1 390.2,324.0 391.4,332.5 392.6,316.5 393.8,326.3 395.0,323.5 396.2,336.0 397.4,310.3 398.6,333.9 399.8,323.2 401.0,326.7 402.2,314.1 403.4,315.0 404.6,321.8 405.8,323.4 407.0,308.0 408.2,318.7 409.4,320.5 410.6,322.7 411.8,328.0 413.0,325.7 414.2,321.7 415.4,315.3 416.6,313.0 417.8,324.2 419.0,333.0 420.2,324.4 421.4,329.2 422.6,316.9 423.8,329.1 425.0,322.6 426.2,324.5 427.4,328.1 428.6,328.8 429.8,325.7 431.0,326.3 432.2,325.7 433.4,319.2 434.6,321.6 435.8,324.2 437.0,333.8 438.2,316.7 439.4,324.3 440.6,330.3 441.8,328.1 443.0,317.7 444.2,315.3 445.4,320.0 446.6,325.7 447.8,328.9 449.0,322.6 450.2,324.3 451.4,321.0 452.6,318.6 453.8,331.7 455.0,335.1 456.2,323.0 457.4,318.6 458.6,327.2 459.8,314.2 461.0,314.9 462.2,324.8 463.4,335.2 464.6,321.8 465.8,324.4 467.0,333.2 468.2,316.2 469.4,314.1 470.6,337.3 471.8,330.6 473.0,321.6 474.2,327.2 475.4,329.6 476.6,323.0 477.8,339.2 479.0,314.4 480.2,333.6 481.4,326.7 482.6,325.1 483.8,325.3 485.0,319.7 486.2,322.2 487.4,320.1 488.6,314.6 489.8,326.7 491.0,315.1 492.2,317.7 493.4,335.7 494.6,321.4 495.8,333.7 497.0,332.6 498.2,325.8 499.4,333.5 500.6,320.2 501.8,317.7 503.0,320.3 504.2,321.3 505.4,327.2 506.6,336.0 507.8,318.7 509.0,321.6 510.2,323.4 511.4,325.1 512.6,321.9 513.8,332.1 515.0,321.1 516.2,317.9 517.4,334.4 518.6,333.0 519.8,320.5 521.0,317.9 522.2,324.6 523.4,328.7 524.6,334.3 525.8,334.6 527.0,322.8" fill="none" stroke="#8a8a8a" stroke-width="0.55" stroke-linejoin="round" opacity="0.8"/>
<polyline points="365.0,327.1 366.2,328.5 367.4,331.5 368.6,334.2 369.8,308.7 371.0,327.7 372.2,344.0 373.4,340.9 374.6,344.2 375.8,344.9 377.0,342.4 378.2,348.7 379.4,334.2 380.6,317.9 381.8,350.6 383.0,338.5 384.2,311.0 385.4,345.0 386.6,344.5 387.8,316.7 389.0,339.0 390.2,333.7 391.4,338.5 392.6,327.2 393.8,356.0 395.0,321.1 396.2,318.4 397.4,327.0 398.6,332.3 399.8,326.5 401.0,352.9 402.2,321.9 403.4,363.9 404.6,315.5 405.8,339.9 407.0,359.2 408.2,366.5 409.4,331.2 410.6,312.7 411.8,322.7 413.0,326.7 414.2,342.1 415.4,321.7 416.6,345.8 417.8,322.2 419.0,346.0 420.2,370.0 421.4,346.9 422.6,351.1 423.8,337.6 425.0,330.8 426.2,342.0 427.4,341.6 428.6,295.2 429.8,323.3 431.0,363.4 432.2,344.3 433.4,337.7 434.6,329.3 435.8,329.2 437.0,330.4 438.2,291.0 439.4,356.5 440.6,340.4 441.8,324.6 443.0,352.1 444.2,334.3 445.4,353.3 446.6,327.1 447.8,344.3 449.0,312.5 450.2,344.3 451.4,314.1 452.6,333.8 453.8,338.9 455.0,312.2 456.2,334.9 457.4,328.2 458.6,336.3 459.8,347.9 461.0,335.8 462.2,351.2 463.4,323.2 464.6,321.2 465.8,346.3 467.0,320.7 468.2,338.1 469.4,322.7 470.6,333.1 471.8,339.3 473.0,323.7 474.2,323.2 475.4,314.1 476.6,343.8 477.8,321.5 479.0,320.0 480.2,331.9 481.4,328.1 482.6,322.2 483.8,337.5 485.0,334.4 486.2,323.6 487.4,326.7 488.6,350.3 489.8,334.9 491.0,325.8 492.2,331.6 493.4,341.5 494.6,358.8 495.8,318.1 497.0,337.8 498.2,325.8 499.4,336.5 500.6,325.1 501.8,322.2 503.0,322.0 504.2,326.0 505.4,337.8 506.6,358.9 507.8,320.0 509.0,321.1 510.2,327.3 511.4,354.9 512.6,355.4 513.8,354.1 515.0,341.7 516.2,333.1 517.4,317.2 518.6,333.9 519.8,337.5 521.0,327.1 522.2,323.7 523.4,317.1 524.6,338.3 525.8,332.5 527.0,345.8" fill="none" stroke="#c8c8c8" stroke-width="0.55" stroke-linejoin="round" opacity="0.8"/>
<polyline points="365.0,315.1 366.2,320.0 367.4,318.6 368.6,323.4 369.8,313.4 371.0,329.4 372.2,329.8 373.4,324.9 374.6,324.8 375.8,324.7 377.0,322.5 378.2,332.0 379.4,320.0 380.6,340.1 381.8,319.3 383.0,326.7 384.2,319.1 385.4,320.2 386.6,323.7 387.8,315.9 389.0,328.6 390.2,327.0 391.4,329.3 392.6,330.2 393.8,320.5 395.0,324.0 396.2,324.3 397.4,332.6 398.6,324.8 399.8,320.1 401.0,327.4 402.2,323.2 403.4,331.4 404.6,334.9 405.8,332.1 407.0,321.1 408.2,330.8 409.4,320.1 410.6,323.3 411.8,331.7 413.0,327.8 414.2,337.8 415.4,331.5 416.6,327.4 417.8,333.0 419.0,326.9 420.2,333.4 421.4,311.7 422.6,324.1 423.8,319.5 425.0,324.2 426.2,322.3 427.4,337.9 428.6,329.7 429.8,325.2 431.0,330.4 432.2,310.1 433.4,332.9 434.6,312.6 435.8,326.3 437.0,337.7 438.2,318.3 439.4,318.6 440.6,310.2 441.8,312.8 443.0,326.6 444.2,326.4 445.4,322.5 446.6,327.4 447.8,322.2 449.0,319.3 450.2,322.2 451.4,316.9 452.6,310.0 453.8,323.2 455.0,328.3 456.2,333.3 457.4,329.7 458.6,323.4 459.8,319.9 461.0,324.7 462.2,327.5 463.4,325.0 464.6,322.3 465.8,327.1 467.0,310.9 468.2,329.5 469.4,336.4 470.6,318.1 471.8,329.0 473.0,322.9 474.2,320.7 475.4,329.9 476.6,329.8 477.8,325.1 479.0,337.0 480.2,329.0 481.4,314.5 482.6,335.1 483.8,327.3 485.0,335.8 486.2,319.5 487.4,319.4 488.6,322.6 489.8,327.9 491.0,330.3 492.2,322.0 493.4,347.4 494.6,320.5 495.8,323.3 497.0,339.2 498.2,338.9 499.4,336.2 500.6,328.6 501.8,327.3 503.0,339.9 504.2,317.9 505.4,321.4 506.6,325.8 507.8,327.2 509.0,332.5 510.2,326.7 511.4,327.7 512.6,328.6 513.8,323.8 515.0,326.6 516.2,317.8 517.4,319.2 518.6,325.2 519.8,323.1 521.0,329.4 522.2,326.0 523.4,327.5 524.6,331.2 525.8,314.2 527.0,317.3" fill="none" stroke="#a8a8a8" stroke-width="0.55" stroke-linejoin="round" opacity="0.8"/>
<polyline points="365.0,356.4 366.2,345.7 367.4,333.2 368.6,336.9 369.8,338.8 371.0,326.3 372.2,350.9 373.4,338.0 374.6,330.9 375.8,323.1 377.0,338.7 378.2,339.6 379.4,344.3 380.6,363.0 381.8,340.8 383.0,322.8 384.2,321.2 385.4,313.3 386.6,316.6 387.8,313.7 389.0,342.1 390.2,302.7 391.4,348.9 392.6,322.7 393.8,311.9 395.0,319.1 396.2,329.9 397.4,331.4 398.6,324.9 399.8,344.1 401.0,313.5 402.2,318.0 403.4,339.3 404.6,313.4 405.8,320.0 407.0,338.2 408.2,339.9 409.4,339.8 410.6,340.4 411.8,331.4 413.0,334.0 414.2,333.2 415.4,331.1 416.6,343.9 417.8,332.7 419.0,343.0 420.2,332.5 421.4,342.4 422.6,301.6 423.8,356.8 425.0,320.6 426.2,326.1 427.4,325.8 428.6,356.0 429.8,312.9 431.0,326.0 432.2,329.1 433.4,364.2 434.6,351.3 435.8,320.3 437.0,327.3 438.2,332.7 439.4,321.7 440.6,350.6 441.8,335.6 443.0,308.7 444.2,331.3 445.4,330.4 446.6,324.9 447.8,334.9 449.0,340.9 450.2,327.9 451.4,322.9 452.6,334.8 453.8,308.6 455.0,342.9 456.2,313.9 457.4,332.3 458.6,329.2 459.8,338.1 461.0,324.0 462.2,335.4 463.4,309.9 464.6,349.4 465.8,340.2 467.0,344.1 468.2,324.8 469.4,333.9 470.6,325.7 471.8,330.0 473.0,316.3 474.2,327.9 475.4,296.2 476.6,343.8 477.8,315.5 479.0,343.1 480.2,350.8 481.4,340.8 482.6,316.2 483.8,335.3 485.0,341.6 486.2,342.6 487.4,337.5 488.6,332.4 489.8,326.9 491.0,327.6 492.2,333.4 493.4,330.1 494.6,326.9 495.8,326.2 497.0,331.4 498.2,323.9 499.4,343.6 500.6,333.3 501.8,346.9 503.0,321.7 504.2,318.4 505.4,323.3 506.6,329.4 507.8,331.7 509.0,343.4 510.2,303.9 511.4,332.4 512.6,308.6 513.8,317.5 515.0,328.1 516.2,332.5 517.4,349.0 518.6,329.7 519.8,347.9 521.0,340.4 522.2,329.6 523.4,343.5 524.6,326.2 525.8,339.8 527.0,357.8" fill="none" stroke="#c8c8c8" stroke-width="0.55" stroke-linejoin="round" opacity="0.8"/>
<polyline points="365.0,317.6 366.2,331.1 367.4,326.0 368.6,321.8 369.8,323.8 371.0,332.3 372.2,319.7 373.4,319.0 374.6,329.9 375.8,325.1 377.0,314.9 378.2,324.1 379.4,320.7 380.6,319.1 381.8,318.3 383.0,317.8 384.2,321.7 385.4,325.5 386.6,315.5 387.8,322.7 389.0,311.9 390.2,319.1 391.4,326.4 392.6,320.9 393.8,319.2 395.0,329.7 396.2,324.6 397.4,322.9 398.6,324.0 399.8,313.3 401.0,319.3 402.2,331.7 403.4,326.3 404.6,330.7 405.8,315.9 407.0,318.6 408.2,326.0 409.4,326.0 410.6,309.3 411.8,320.7 413.0,319.2 414.2,317.2 415.4,322.6 416.6,315.4 417.8,322.4 419.0,323.6 420.2,316.6 421.4,319.1 422.6,305.7 423.8,321.7 425.0,318.9 426.2,308.6 427.4,308.5 428.6,318.5 429.8,331.7 431.0,320.5 432.2,312.4 433.4,316.6 434.6,306.6 435.8,314.6 437.0,314.1 438.2,319.8 439.4,326.0 440.6,318.1 441.8,330.7 443.0,319.3 444.2,320.7 445.4,317.9 446.6,312.8 447.8,314.8 449.0,316.8 450.2,328.0 451.4,318.3 452.6,310.7 453.8,320.8 455.0,321.0 456.2,313.1 457.4,321.6 458.6,320.3 459.8,312.0 461.0,324.2 462.2,311.2 463.4,314.2 464.6,322.6 465.8,309.7 467.0,303.6 468.2,315.0 469.4,320.2 470.6,319.4 471.8,316.5 473.0,311.7 474.2,325.9 475.4,325.3 476.6,321.0 477.8,322.0 479.0,309.2 480.2,323.5 481.4,328.1 482.6,325.1 483.8,325.3 485.0,321.4 486.2,320.3 487.4,306.7 488.6,316.1 489.8,320.7 491.0,313.9 492.2,310.6 493.4,316.8 494.6,314.7 495.8,326.7 497.0,317.9 498.2,319.3 499.4,327.5 500.6,314.0 501.8,321.7 503.0,329.1 504.2,315.2 505.4,317.6 506.6,326.0 507.8,325.5 509.0,316.8 510.2,316.6 511.4,316.4 512.6,315.4 513.8,324.0 515.0,318.3 516.2,315.5 517.4,315.8 518.6,324.3 519.8,296.1 521.0,317.0 522.2,321.3 523.4,315.9 524.6,314.3 525.8,323.0 527.0,321.8" fill="none" stroke="#9a9a9a" stroke-width="0.55" stroke-linejoin="round" opacity="0.8"/>
<polyline points="365.0,321.3 366.2,353.6 367.4,351.7 368.6,346.2 369.8,352.0 371.0,347.3 372.2,342.9 373.4,336.5 374.6,349.9 375.8,344.4 377.0,331.0 378.2,334.8 379.4,339.5 380.6,358.8 381.8,337.6 383.0,333.1 384.2,317.4 385.4,347.3 386.6,340.5 387.8,339.1 389.0,339.3 390.2,343.4 391.4,311.3 392.6,321.2 393.8,332.0 395.0,348.1 396.2,343.9 397.4,350.1 398.6,342.3 399.8,345.0 401.0,325.7 402.2,327.5 403.4,332.2 404.6,332.3 405.8,345.9 407.0,336.7 408.2,336.5 409.4,336.1 410.6,356.9 411.8,330.5 413.0,344.9 414.2,328.7 415.4,341.0 416.6,341.4 417.8,332.5 419.0,320.9 420.2,340.5 421.4,339.0 422.6,332.3 423.8,333.4 425.0,332.8 426.2,370.2 427.4,329.8 428.6,311.5 429.8,311.0 431.0,344.0 432.2,310.1 433.4,342.7 434.6,328.5 435.8,338.3 437.0,336.2 438.2,348.3 439.4,328.7 440.6,332.9 441.8,320.6 443.0,303.4 444.2,351.4 445.4,315.2 446.6,342.5 447.8,349.9 449.0,340.6 450.2,322.5 451.4,358.3 452.6,319.1 453.8,350.0 455.0,353.6 456.2,317.1 457.4,344.6 458.6,323.8 459.8,341.9 461.0,308.0 462.2,362.8 463.4,348.8 464.6,338.3 465.8,332.9 467.0,359.9 468.2,346.3 469.4,343.8 470.6,331.8 471.8,332.8 473.0,335.6 474.2,325.5 475.4,342.0 476.6,365.8 477.8,348.3 479.0,351.8 480.2,348.1 481.4,374.3 482.6,331.9 483.8,308.9 485.0,292.5 486.2,329.8 487.4,344.0 488.6,354.7 489.8,317.6 491.0,331.0 492.2,360.9 493.4,315.4 494.6,323.6 495.8,332.8 497.0,322.8 498.2,336.3 499.4,308.6 500.6,325.9 501.8,328.8 503.0,352.7 504.2,346.5 505.4,345.9 506.6,322.2 507.8,355.7 509.0,335.9 510.2,355.7 511.4,312.5 512.6,317.4 513.8,326.4 515.0,356.9 516.2,320.8 517.4,334.2 518.6,329.4 519.8,349.5 521.0,335.5 522.2,360.7 523.4,324.2 524.6,368.5 525.8,337.1 527.0,317.6" fill="none" stroke="#c8c8c8" stroke-width="0.55" stroke-linejoin="round" opacity="0.8"/>
<polyline points="365.0,328.0 366.4,326.7 367.8,330.3 369.2,327.3 370.6,326.2 372.0,328.6 373.4,329.4 374.8,329.3 376.2,325.7 377.6,330.7 379.0,328.5 380.4,329.0 381.8,326.3 383.2,326.7 384.6,327.2 386.0,328.1 387.4,331.6 388.8,328.4 390.2,328.3 391.6,330.3 393.0,334.3 394.4,329.6 395.8,327.4 397.2,325.5 398.6,324.4 400.0,327.5 401.4,323.1 402.8,329.4 404.2,331.3 405.6,323.2 407.0,327.7 408.4,328.2 409.8,325.0 411.2,331.6 412.6,329.7 414.0,332.7 415.4,326.0 416.8,329.7 418.2,330.9 419.6,326.5 421.0,328.0 422.4,330.6 423.8,327.3 425.2,324.1 426.6,328.9 428.0,334.6 429.4,329.1 430.8,327.7 432.2,332.8 433.6,326.9 435.0,326.2 436.4,327.9 437.8,328.1 439.2,328.6 440.6,328.7 442.0,327.5 443.4,325.3 444.8,325.4 446.2,327.7 447.6,329.6 449.0,326.8 450.4,327.4 451.8,332.0 453.2,326.2 454.6,329.5 456.0,327.5 457.4,327.4 458.8,329.3 460.2,327.3 461.6,329.9 463.0,326.5 464.4,326.9 465.8,327.5 467.2,329.5 468.6,329.8 470.0,328.7 471.4,328.9 472.8,330.1 474.2,327.3 475.6,328.9 477.0,329.7 478.4,331.5 479.8,328.2 481.2,329.0 482.6,325.6 484.0,322.8 485.4,328.4 486.8,327.9 488.2,326.2 489.6,326.7 491.0,327.8 492.4,328.2 493.8,324.9 495.2,327.3 496.6,328.1 498.0,329.6 499.4,327.9 500.8,330.2 502.2,330.7 503.6,329.8 505.0,324.5 506.4,327.8 507.8,327.3 509.2,327.7 510.6,324.4 512.0,330.2 513.4,324.1 514.8,329.3 516.2,329.7 517.6,327.6 519.0,323.5 520.4,318.0 521.8,324.0 523.2,327.8 524.6,327.1 526.0,327.4" fill="none" stroke="#c0262b" stroke-width="2.7" stroke-linejoin="round" stroke-linecap="butt"/>
<text x="530" y="215.25" font-size="14" font-weight="bold" fill="#111">E</text>
<rect x="564.6" y="215.5" width="2.1" height="140.4" fill="#000"/>
<rect x="564.6" y="353.9" width="179" height="2" fill="#000"/>
<rect x="560.2" y="353.70" width="5" height="2" fill="#000"/>
<text x="559.4" y="359.30" font-size="12.8" text-anchor="end" fill="#111">0</text>
<rect x="560.2" y="326.20" width="5" height="2" fill="#000"/>
<text x="559.4" y="331.80" font-size="12.8" text-anchor="end" fill="#111">2</text>
<rect x="560.2" y="298.70" width="5" height="2" fill="#000"/>
<text x="559.4" y="304.30" font-size="12.8" text-anchor="end" fill="#111">4</text>
<rect x="560.2" y="271.20" width="5" height="2" fill="#000"/>
<text x="559.4" y="276.80" font-size="12.8" text-anchor="end" fill="#111">6</text>
<rect x="560.2" y="243.70" width="5" height="2" fill="#000"/>
<text x="559.4" y="249.30" font-size="12.8" text-anchor="end" fill="#111">8</text>
<rect x="560.2" y="216.20" width="5" height="2" fill="#000"/>
<text x="559.4" y="221.80" font-size="12.8" text-anchor="end" fill="#111">10</text>
<rect x="575.6" y="355" width="2" height="6" fill="#000"/>
<text transform="translate(586.1,365.6) rotate(-45)" font-size="12.4" text-anchor="end" fill="#111">1020</text>
<rect x="597.9" y="355" width="2" height="6" fill="#000"/>
<text transform="translate(608.4,365.6) rotate(-45)" font-size="12.4" text-anchor="end" fill="#111">1060</text>
<rect x="620.2" y="355" width="2" height="6" fill="#000"/>
<text transform="translate(630.7,365.6) rotate(-45)" font-size="12.4" text-anchor="end" fill="#111">1100</text>
<rect x="642.5" y="355" width="2" height="6" fill="#000"/>
<text transform="translate(653.0,365.6) rotate(-45)" font-size="12.4" text-anchor="end" fill="#111">1140</text>
<rect x="664.8" y="355" width="2" height="6" fill="#000"/>
<text transform="translate(675.3,365.6) rotate(-45)" font-size="12.4" text-anchor="end" fill="#111">1180</text>
<rect x="687.1" y="355" width="2" height="6" fill="#000"/>
<text transform="translate(697.6,365.6) rotate(-45)" font-size="12.4" text-anchor="end" fill="#111">1220</text>
<rect x="709.4" y="355" width="2" height="6" fill="#000"/>
<text transform="translate(719.9,365.6) rotate(-45)" font-size="12.4" text-anchor="end" fill="#111">1260</text>
<rect x="731.7" y="355" width="2" height="6" fill="#000"/>
<text transform="translate(742.2,365.6) rotate(-45)" font-size="12.4" text-anchor="end" fill="#111">1300</text>
<text x="646.5" y="397.4" font-size="12.8" text-anchor="middle" fill="#111">wavelength [nm]</text>
<text transform="translate(549.4,287.5) rotate(-90)" font-size="12.8" text-anchor="middle" fill="#111">% dF/F0</text>
<text x="642.3" y="265.4" font-size="12.7" fill="#111" textLength="60" lengthAdjust="spacingAndGlyphs">R² = 0.9592</text>
<polyline points="568.0,218.0 569.1,223.2 570.3,228.1 571.5,232.9 572.7,237.4 573.9,241.7 575.1,245.8 576.3,249.7 577.4,253.4 578.6,257.0 579.8,260.4 581.0,263.6 582.2,266.7 583.4,269.6 584.6,272.5 585.7,275.1 586.9,277.7 588.1,280.2 589.3,282.5 590.5,284.7 591.7,286.8 592.8,288.9 594.0,290.8 595.2,292.7 596.4,294.4 597.6,296.1 598.8,297.7 600.0,299.2 601.1,300.7 602.3,302.1 603.5,303.4 604.7,304.7 605.9,305.9 607.1,307.1 608.3,308.2 609.4,309.2 610.6,310.2 611.8,311.2 613.0,312.1 614.2,313.0 615.4,313.8 616.6,314.6 617.7,315.4 618.9,316.1 620.1,316.8 621.3,317.4 622.5,318.1 623.7,318.7 624.8,319.2 626.0,319.8 627.2,320.3 628.4,320.8 629.6,321.3 630.8,321.7 632.0,322.2 633.1,322.6 634.3,323.0 635.5,323.3 636.7,323.7 637.9,324.0 639.1,324.4 640.3,324.7 641.4,325.0 642.6,325.3 643.8,325.5 645.0,325.8 646.2,326.0 647.4,326.3 648.6,326.5 649.7,326.7 650.9,326.9 652.1,327.1 653.3,327.3 654.5,327.5 655.7,327.6 656.8,327.8 658.0,327.9 659.2,328.1 660.4,328.2 661.6,328.4 662.8,328.5 664.0,328.6 665.1,328.7 666.3,328.8 667.5,329.0 668.7,329.1 669.9,329.1 671.1,329.2 672.3,329.3 673.4,329.4 674.6,329.5 675.8,329.6 677.0,329.6 678.2,329.7 679.4,329.8 680.6,329.8 681.7,329.9 682.9,330.0 684.1,330.0 685.3,330.1 686.5,330.1 687.7,330.2 688.8,330.2 690.0,330.3 691.2,330.3 692.4,330.3 693.6,330.4 694.8,330.4 696.0,330.4 697.1,330.5 698.3,330.5 699.5,330.5 700.7,330.6 701.9,330.6 703.1,330.6 704.3,330.6 705.4,330.7 706.6,330.7 707.8,330.7 709.0,330.7 710.2,330.8 711.4,330.8 712.6,330.8 713.7,330.8 714.9,330.8 716.1,330.8 717.3,330.9 718.5,330.9 719.7,330.9 720.8,330.9 722.0,330.9 723.2,330.9 724.4,330.9 725.6,330.9 726.8,330.9 728.0,331.0 729.1,331.0 730.3,331.0 731.5,331.0 732.7,331.0" fill="none" stroke="#000" stroke-width="1.1" stroke-linejoin="round" />
<line x1="576.6" y1="245.8" x2="576.6" y2="255.4" stroke="#000" stroke-width="1"/>
<line x1="573.8" y1="245.8" x2="579.4" y2="245.8" stroke="#000" stroke-width="1"/>
<line x1="573.8" y1="255.4" x2="579.4" y2="255.4" stroke="#000" stroke-width="1"/>
<ellipse cx="576.6" cy="250.6" rx="2.6" ry="2.9" fill="#000"/>
<line x1="598.9" y1="294.2" x2="598.9" y2="302.4" stroke="#000" stroke-width="1"/>
<line x1="596.1" y1="294.2" x2="601.7" y2="294.2" stroke="#000" stroke-width="1"/>
<line x1="596.1" y1="302.4" x2="601.7" y2="302.4" stroke="#000" stroke-width="1"/>
<ellipse cx="598.9" cy="298.3" rx="2.6" ry="2.9" fill="#000"/>
<line x1="621.2" y1="317.2" x2="621.2" y2="322.1" stroke="#000" stroke-width="1"/>
<line x1="618.4" y1="317.2" x2="624.0" y2="317.2" stroke="#000" stroke-width="1"/>
<line x1="618.4" y1="322.1" x2="624.0" y2="322.1" stroke="#000" stroke-width="1"/>
<ellipse cx="621.2" cy="319.6" rx="2.6" ry="2.9" fill="#000"/>
<line x1="643.5" y1="326.9" x2="643.5" y2="333.0" stroke="#000" stroke-width="1"/>
<line x1="640.7" y1="326.9" x2="646.3" y2="326.9" stroke="#000" stroke-width="1"/>
<line x1="640.7" y1="333.0" x2="646.3" y2="333.0" stroke="#000" stroke-width="1"/>
<ellipse cx="643.5" cy="329.9" rx="2.6" ry="2.9" fill="#000"/>
<line x1="665.8" y1="313.4" x2="665.8" y2="321.7" stroke="#000" stroke-width="1"/>
<line x1="663.0" y1="313.4" x2="668.6" y2="313.4" stroke="#000" stroke-width="1"/>
<line x1="663.0" y1="321.7" x2="668.6" y2="321.7" stroke="#000" stroke-width="1"/>
<ellipse cx="665.8" cy="317.6" rx="2.6" ry="2.9" fill="#000"/>
<ellipse cx="688.1" cy="338.1" rx="2.6" ry="2.9" fill="#000"/>
<line x1="710.4" y1="323.3" x2="710.4" y2="330.5" stroke="#000" stroke-width="1"/>
<line x1="707.6" y1="323.3" x2="713.2" y2="323.3" stroke="#000" stroke-width="1"/>
<line x1="707.6" y1="330.5" x2="713.2" y2="330.5" stroke="#000" stroke-width="1"/>
<ellipse cx="710.4" cy="326.9" rx="2.6" ry="2.9" fill="#000"/>
<ellipse cx="732.7" cy="334.2" rx="2.6" ry="2.9" fill="#000"/></svg>
</body></html>
